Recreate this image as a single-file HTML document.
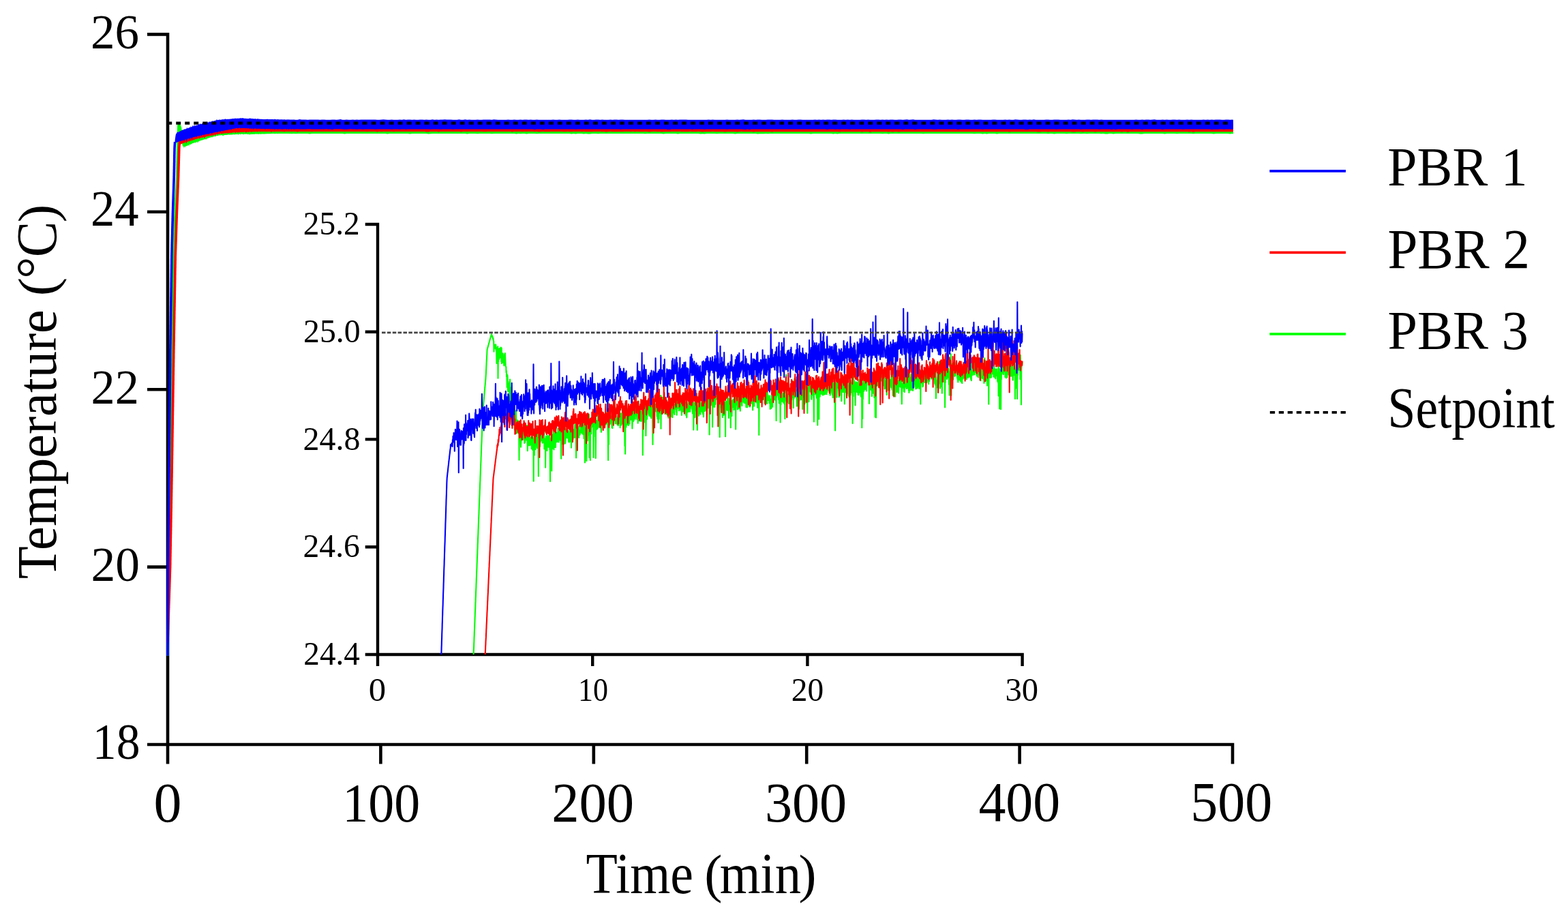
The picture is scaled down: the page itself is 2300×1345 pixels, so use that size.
<!DOCTYPE html><html><head><meta charset="utf-8"><title>Temperature vs Time</title><style>html,body{margin:0;padding:0;background:#fff;overflow:hidden}svg{display:block;filter:blur(0.6px)}</style></head><body><svg width="2300" height="1345" viewBox="0 0 2300 1345">
<rect width="2300" height="1345" fill="#fff"/>
<defs><clipPath id="ic"><rect x="556" y="300" width="946" height="660"/></clipPath><clipPath id="mc"><rect x="240" y="40" width="1570" height="930"/></clipPath></defs>
<path d="M216 50.4H246V1120.5" stroke-width="4.6" fill="none" stroke="#000" stroke-linejoin="miter" stroke-linecap="butt"/>
<path d="M216 1092H1808V1120.5" stroke-width="4.6" fill="none" stroke="#000" stroke-linejoin="miter" stroke-linecap="butt"/>
<path d="M216 310.8H246M216 571.2H246M216 831.6H246M558.4 1092V1120.5M870.8 1092V1120.5M1183.2 1092V1120.5M1495.6 1092V1120.5" stroke-width="4.6" fill="none" stroke="#000" stroke-linejoin="miter" stroke-linecap="butt"/>
<g clip-path="url(#mc)" fill="none" stroke-width="3.6" stroke-linejoin="round">
<path d="M246.0 961.8L246.0 959.2 246.1 956.6 246.1 954.0 246.1 951.4 246.2 948.8 246.2 946.2 246.2 943.6 246.2 941.0 246.3 938.4 246.3 935.8 246.3 933.2 246.4 930.6 246.4 927.9 246.4 925.3 246.5 922.7 246.5 920.1 246.5 917.5 246.6 914.9 246.6 912.3 246.6 909.7 246.7 907.1 246.7 904.5 246.7 901.9 246.7 899.3 246.8 896.7 246.8 894.1 246.8 891.5 246.9 888.9 246.9 886.3 246.9 883.7 247.0 881.1 247.0 878.5 247.0 875.9 247.1 873.3 247.1 870.7 247.1 868.1 247.2 865.5 247.2 862.8 247.2 860.2 247.2 857.6 247.3 855.0 247.3 852.4 247.3 849.8 247.4 847.2 247.4 844.6 247.4 842.0 247.5 839.4 247.5 836.8 247.5 834.2 247.6 831.6 247.6 829.7 247.6 827.9 247.7 826.0 247.7 824.2 247.7 822.3 247.7 820.4 247.8 818.6 247.8 816.7 247.8 814.9 247.9 813.0 247.9 811.1 247.9 809.3 248.0 807.4 248.0 805.6 248.0 803.7 248.1 801.8 248.1 800.0 248.1 798.1 248.2 796.3 248.2 794.4 248.2 792.5 248.2 790.7 248.3 788.8 248.3 787.0 248.3 785.1 248.4 783.2 248.4 781.4 248.4 779.5 248.5 777.7 248.5 775.8 248.5 773.9 248.6 772.1 248.6 770.2 248.6 768.4 248.7 766.5 248.7 764.6 248.7 762.8 248.7 760.9 248.8 759.1 248.8 757.2 248.8 755.3 248.9 753.5 248.9 751.6 248.9 749.8 249.0 747.9 249.0 746.0 249.0 744.2 249.1 742.3 249.1 740.5 249.1 738.6 249.2 736.7 249.2 734.9 249.2 733.0 249.2 731.2 249.3 729.3 249.3 727.4 249.3 725.6 249.4 723.7 249.4 721.9 249.4 720.0 249.5 718.1 249.5 716.3 249.5 714.4 249.6 712.6 249.6 710.7 249.6 708.8 249.7 707.0 249.7 705.1 249.7 703.3 249.7 701.4 249.8 699.1 249.8 696.8 249.8 694.6 249.9 692.3 249.9 690.0 249.9 687.7 250.0 685.5 250.0 683.2 250.0 680.9 250.1 678.6 250.1 676.3 250.1 674.1 250.2 671.8 250.2 669.5 250.2 667.2 250.2 664.9 250.3 662.7 250.3 660.4 250.3 658.1 250.4 655.8 250.4 653.6 250.4 651.3 250.5 649.0 250.5 646.7 250.5 644.4 250.6 642.2 250.6 639.9 250.6 637.6 250.7 635.3 250.7 633.0 250.7 630.8 250.7 628.5 250.8 626.2 250.8 623.9 250.8 621.7 250.9 619.4 250.9 617.1 250.9 614.8 251.0 612.5 251.0 610.3 251.0 608.0 251.1 605.7 251.1 603.4 251.1 601.1 251.2 598.9 251.2 596.6 251.2 594.3 251.2 592.0 251.3 589.8 251.3 587.5 251.3 585.2 251.4 582.9 251.4 580.6 251.4 578.4 251.5 576.1 251.5 573.8 251.5 571.5 251.6 569.2 251.6 567.0 251.6 564.7 251.7 562.4 251.7 560.1 251.7 557.9 251.7 555.6 251.8 553.3 251.8 551.0 251.8 548.7 251.9 546.5 251.9 544.2 251.9 541.9 252.0 539.6 252.0 537.3 252.0 535.1 252.1 532.8 252.1 530.5 252.1 528.2 252.2 526.0 252.2 523.7 252.2 521.4 252.2 519.1 252.3 517.1 252.3 515.0 252.3 513.0 252.4 510.9 252.4 508.9 252.4 506.8 252.5 504.8 252.5 502.8 252.5 500.7 252.6 498.7 252.6 496.6 252.6 494.6 252.7 492.5 252.7 490.5 252.7 488.4 252.7 486.4 252.8 484.3 252.8 482.3 252.8 480.2 252.9 478.2 252.9 476.2 252.9 474.1 253.0 472.1 253.0 470.0 253.0 468.0 253.1 465.9 253.1 463.9 253.1 461.8 253.2 459.8 253.2 457.7 253.2 455.7 253.2 453.6 253.3 451.6 253.3 449.6 253.3 447.5 253.4 445.5 253.4 443.4 253.4 441.4 253.5 439.3 253.5 437.3 253.5 435.2 253.6 433.2 253.6 431.1 253.6 429.1 253.7 427.0 253.7 425.0 253.7 423.0 253.7 420.9 253.8 418.9 253.8 416.8 253.8 414.8 253.9 412.7 253.9 410.7 253.9 408.6 254.0 406.6 254.0 404.5 254.0 402.5 254.1 400.5 254.1 398.4 254.1 396.4 254.2 394.3 254.2 392.3 254.2 390.2 254.2 388.2 254.3 386.1 254.3 384.1 254.3 382.0 254.4 380.0 254.4 377.9 254.4 375.9 254.5 375.2 254.5 374.5 254.5 373.7 254.6 373.0 254.6 372.3 254.6 371.6 254.7 370.8 254.7 370.1 254.7 369.4 254.7 368.7 254.8 367.9 254.8 367.2 254.8 366.5 254.9 365.8 254.9 365.1 254.9 364.3 255.0 363.6 255.0 362.9 255.0 362.2 255.1 361.4 255.1 360.7 255.1 360.0 255.2 359.3 255.2 358.5 255.2 357.8 255.2 357.1 255.3 356.4 255.3 355.6 255.3 354.9 255.4 354.2 255.4 353.5 255.4 352.8 255.5 352.0 255.5 351.3 255.5 350.6 255.6 349.9 255.6 349.1 255.6 348.4 255.7 347.7 255.7 347.0 255.7 346.2 255.7 345.5 255.8 344.8 255.8 344.1 255.8 343.3 255.9 342.6 255.9 341.9 255.9 341.2 256.0 340.5 256.0 339.7 256.0 339.0 256.1 338.3 256.1 337.6 256.1 336.8 256.2 336.1 256.2 335.4 256.2 334.7 256.2 333.9 256.3 333.2 256.3 332.5 256.3 331.8 256.4 331.1 256.4 330.3 256.4 329.6 256.5 328.9 256.5 328.2 256.5 327.4 256.6 326.7 256.6 326.0 256.6 325.3 256.7 324.5 256.7 323.8 256.7 323.1 256.7 322.4 256.8 321.6 256.8 320.9 256.8 320.2 256.9 319.5 256.9 318.8 256.9 318.0 257.0 317.3 257.0 316.6 257.0 315.9 257.1 315.1 257.1 314.4 257.1 313.7 257.2 313.0 257.2 312.2 257.2 311.5 257.2 310.8 257.3 310.2 257.3 309.6 257.3 309.0 257.4 308.4 257.4 307.8 257.4 307.2 257.5 306.6 257.5 306.0 257.5 305.4 257.6 304.8 257.6 304.1 257.6 303.5 257.7 302.9 257.7 302.3 257.7 301.7 257.7 301.1 257.8 300.5 257.8 299.9 257.8 299.3 257.9 298.7 257.9 298.1 257.9 297.5 258.0 296.9 258.0 296.3 258.0 295.7 258.1 295.1 258.1 294.5 258.1 293.9 258.2 293.3 258.2 292.7 258.2 292.0 258.2 291.4 258.3 290.8 258.3 290.2 258.3 289.6 258.4 289.0 258.4 288.4 258.4 287.8 258.5 287.2 258.5 286.6 258.5 286.0 258.6 285.4 258.6 284.8 258.6 284.2 258.7 283.6 258.7 283.0 258.7 282.4 258.7 281.8 258.8 281.2 258.8 280.6 258.8 280.0 258.9 279.3 258.9 278.7 258.9 278.1 259.0 277.5 259.0 276.9 259.0 276.3 259.1 275.7 259.1 275.1 259.1 274.5 259.2 273.9 259.2 273.3 259.2 272.7 259.2 272.1 259.3 271.5 259.3 270.9 259.3 270.3 259.4 269.7 259.4 269.1 259.4 268.5 259.5 267.9 259.5 267.2 259.5 266.6 259.6 266.0 259.6 265.4 259.6 264.8 259.7 264.2 259.7 263.6 259.7 263.0 259.7 262.4 259.8 261.8 259.8 261.2 259.8 260.6 259.9 260.0 259.9 259.4 259.9 258.8 260.0 257.5 260.0 256.1 260.0 254.7 260.1 253.4 260.1 252.0 260.1 250.6 260.2 249.3 260.2 247.9 260.2 246.5 260.2 245.2 260.3 243.8 260.3 242.4 260.3 241.1 260.4 239.7 260.4 238.3 260.4 237.0 260.5 235.6 260.5 234.2 260.5 232.8 260.6 231.5 260.6 230.1 260.6 228.7 260.7 227.4 260.7 226.0 260.7 224.6 260.7 223.3 260.8 221.9 260.8 220.5 260.8 219.2 260.9 217.8 260.9 216.4 260.9 215.1 261.0 213.7 261.0 212.4 261.0 211.0 261.1 209.7 261.1 208.3 261.1 207.0 261.2 205.7 261.2 204.3 261.2 203.0 261.2 201.6 261.3 200.3 261.3 199.5 261.3 198.9 261.4 198.3 261.4 197.7 261.4 197.1 261.5 196.5 261.5 195.9 261.5 195.3 261.6 194.7 261.6 194.1 261.6 193.5 261.7 192.9 261.7 192.3 261.7 191.7 261.7 190.6 261.8 189.6 261.8 188.6 261.8 187.5 261.9 186.5 261.9 185.4 261.9 184.8 262.0 184.6 262.0 184.4 262.0 184.2 262.1 184.1 262.1 183.9 262.1 183.7 262.2 183.5 262.2 183.3 262.2 183.1 262.2 182.9 262.3 182.8 262.3 182.6 262.3 182.4 262.4 182.2 262.4 182.0 262.4 181.8 262.5 181.6 262.5 181.5 262.5 181.3 262.6 181.2 262.6 181.3 262.6 181.5 262.7 181.6 262.7 181.8 262.7 181.9 262.7 182.1 262.8 182.2 262.8 182.4 262.8 182.5 262.9 182.7 262.9 182.8 262.9 183.0 263.0 183.2 263.0 183.3 263.0 183.5 263.1 183.6 263.1 183.7 263.1 183.8 263.2 183.9 263.2 184.0 263.2 184.1 263.2 184.2 263.3 184.3 263.3 184.4 263.3 184.5 263.4 184.6 263.4 184.7 263.4 184.8 263.5 184.9 263.5 185.0 263.5 185.1 263.6 185.2 263.6 185.3 263.6 185.4 263.7 185.5 263.7 185.5 263.7 185.6 263.7 185.7 263.8 185.8 263.8 185.9 263.8 186.0 263.9 186.1 263.9 186.2 263.9 186.2 264.0 186.3 264.0 186.4 264.0 186.5 264.1 186.6 264.1 186.6 264.1 186.7 264.2 186.8 264.2 186.9 264.2 186.9 264.2 187.0 264.3 187.1 264.3 187.2 264.3 187.2 264.4 187.3 264.4 187.4 264.4 187.5 264.5 187.6 264.5 187.6 264.5 188.1 264.6 188.6 264.6 189.1 264.6 189.6 264.7 190.2 264.7 190.7 264.7 191.2 264.7 191.7 264.8 192.0 264.8 192.2 264.8 192.5 264.9 192.8 264.9 193.1 264.9 193.4 265.0 193.7 265.0 194.0 265.0 194.2 265.1 194.5 265.1 194.8 265.1 195.0 265.2 195.2 265.2 195.4 265.2 195.6 265.2 195.9 265.3 196.1 265.3 196.3 265.3 196.5 265.4 196.7 265.4 197.1 265.4 197.4 265.5 197.7 265.5 198.0 265.5 198.3 265.6 198.6 265.6 198.9 265.6 199.2 265.6 199.6 265.7 199.9 265.7 200.1 265.7 200.3 265.8 200.4 265.8 200.6 265.8 200.8 265.9 201.0 265.9 201.2 265.9 201.4 266.0 201.6 266.0 201.8 266.0 202.0 266.1 202.2 266.1 202.4 266.1 202.5 266.1 202.7 266.2 202.9 266.2 203.0 266.2 203.1 266.3 203.3 266.3 203.4 266.3 203.5 266.4 203.6 266.4 203.8 266.4 203.9 266.5 204.0 266.5 204.2 266.5 204.3 266.6 204.4 266.6 204.6 266.6 204.7" stroke="#00ff00"/>
<path d="M266.6 202.9L267.1 201.8 267.6 201.4 268.1 201.0 268.6 198.1 269.1 200.9 269.6 199.5 270.1 201.3 270.6 201.4 271.1 198.3 271.6 201.4 272.1 201.3 272.6 200.7 273.1 200.8 273.6 200.6 274.1 200.1 274.6 200.4 275.1 200.1 275.6 197.0 276.1 199.7 276.6 198.5 277.1 199.2 277.6 198.7 278.1 198.8 278.6 195.1 279.1 198.4 279.6 197.5 280.1 198.0 280.6 197.6 281.1 194.4 281.6 197.3 282.1 197.0 282.6 197.0 283.1 196.4 283.6 196.6 284.1 196.2 284.6 195.7 285.1 195.9 285.6 195.8 286.1 195.4 286.6 195.2 287.1 195.2 287.6 195.1 288.1 193.2 288.6 194.6 289.1 194.5 289.6 193.1 290.1 194.0 290.6 194.0 291.1 193.4 291.6 193.6 292.1 193.5 292.6 193.5 293.1 193.0 293.6 193.2 294.1 191.9 294.6 192.8 295.1 192.4 295.6 192.4 296.1 192.1 296.6 192.1 297.1 192.0 297.6 191.7 298.1 191.5 298.6 191.5 299.1 189.9 299.6 191.1 300.1 190.8 300.6 190.9 301.1 190.5 301.6 190.4 302.1 190.2 302.6 190.2 303.1 190.0 303.6 189.7 304.1 187.3 304.6 187.2 305.1 189.5 305.6 188.6 306.1 189.0 306.6 187.6 307.1 188.8 307.6 188.6 308.1 188.5 308.6 187.9 309.1 188.1 309.6 188.1 310.1 187.9 310.6 187.0 311.1 187.7 311.6 187.6 312.1 187.2 312.6 187.1 313.1 185.5 313.6 185.5 314.1 186.9 314.6 184.8 315.1 186.4 315.6 186.3 316.1 186.3 316.6 186.1 317.1 186.1 317.6 185.9 318.1 185.7 318.6 185.5 319.1 185.5 319.6 185.5 320.1 185.4 320.6 185.3 321.1 183.2 321.6 185.1 322.1 185.1 322.6 185.0 323.1 185.0 323.6 185.0 324.1 185.0 324.6 184.4 325.1 184.9 325.6 184.8 326.1 185.0 326.6 184.8 327.1 183.6 327.6 184.9 328.1 184.7 328.6 184.8 329.1 184.7 329.6 184.8 330.1 183.1 330.6 183.3 331.1 184.6 331.6 184.5 332.1 184.5 332.6 184.5 333.1 184.5 333.6 184.5 334.1 184.4 334.6 184.4 335.1 183.3 335.6 184.3 336.1 184.2 336.6 184.2 337.1 184.2 337.6 183.3 338.1 184.1 338.6 184.2 339.1 184.1 339.6 184.1 340.1 184.0 340.6 184.2 341.1 184.1 341.6 184.1 342.1 184.0 342.6 183.9 343.1 184.0 343.6 184.0 344.1 182.8 344.6 183.9 345.1 183.7 345.6 183.0 346.1 183.8 346.6 183.7 347.1 182.6 347.6 182.3 348.1 183.0 348.6 183.6 349.1 183.5 349.6 183.4 350.1 183.6 350.6 183.6 351.1 183.5 351.6 183.5 352.1 183.3 352.6 183.4 353.1 183.3 353.6 183.4 354.1 183.4 354.6 183.3 355.1 183.5 355.6 183.5 356.1 183.5 356.6 183.3 357.1 183.4 357.6 183.4 358.1 183.4 358.6 183.4 359.1 183.4 359.6 182.8 360.1 183.5 360.6 182.8 361.1 183.5 361.6 182.2 362.1 183.4 362.6 183.5 363.1 183.5 363.6 183.0 364.1 183.4 364.6 183.4 365.1 183.5 365.6 182.8 366.1 182.5 366.6 183.4 367.1 182.9 367.6 183.5 368.1 183.6 368.6 183.5 369.1 183.4 369.6 183.5 370.1 183.6 370.6 183.4 371.1 183.5 371.6 183.5 372.1 183.4 372.6 182.4 373.1 183.5 373.6 183.5 374.1 182.7 374.6 183.5 375.1 183.5 375.6 183.4 376.1 183.5 376.6 183.5 377.1 183.5 377.6 183.4 378.1 183.4 378.6 183.4 379.1 183.3 379.6 183.3 380.1 183.3 380.6 183.4 381.1 183.3 381.6 183.4 382.1 183.3 382.6 183.3 383.1 183.3 383.6 183.3 384.1 183.2 384.6 183.2 385.1 183.3 385.6 183.2 386.1 183.3 386.6 183.2 387.1 183.2 387.6 183.2 388.1 183.1 388.6 183.0 389.1 183.2 389.6 183.2 390.1 183.2 390.6 183.1 391.1 182.7 391.6 183.1 392.1 183.0 392.6 183.0 393.1 183.1 393.6 182.9 394.1 183.1 394.6 183.0 395.1 183.0 395.6 183.0 396.1 183.1 396.6 183.1 397.1 183.0 397.6 183.0 398.1 182.9 398.6 183.0 399.1 183.0 399.6 183.0 400.1 183.0 400.6 182.4 401.1 183.0 401.6 183.0 402.1 182.9 402.6 183.0 403.1 183.0 403.6 182.9 404.1 182.9 404.6 182.9 405.1 182.9 405.6 183.0 406.1 183.0 406.6 182.9 407.1 182.9 407.6 182.9 408.1 183.0 408.6 182.9 409.1 182.6 409.6 183.0 410.1 182.5 410.6 183.0 411.1 182.2 411.6 183.0 412.1 182.9 412.6 182.9 413.1 183.0 413.6 182.9 414.1 182.9 414.6 182.2 415.1 183.0 415.6 182.9 416.1 183.0 416.6 182.9 417.1 183.0 417.6 183.0 418.1 182.9 418.6 182.9 419.1 183.0 419.6 183.0 420.1 182.9 420.6 182.3 421.1 183.0 421.6 183.0 422.1 183.0 422.6 183.0 423.1 182.9 423.6 183.0 424.1 182.9 424.6 182.9 425.1 183.0 425.6 183.0 426.1 182.9 426.6 182.9 427.1 183.0 427.6 183.0 428.1 182.9 428.6 182.9 429.1 182.9 429.6 182.9 430.1 183.0 430.6 183.0 431.1 182.3 431.6 182.9 432.1 182.9 432.6 182.9 433.1 182.9 433.4 182.2 436.4 182.9 439.4 182.9 442.4 182.9 445.4 183.0 448.4 183.0 451.4 183.0 454.4 182.3 457.4 182.9 460.4 182.7 463.4 183.0 466.4 182.9 469.4 183.0 472.4 182.9 475.4 183.0 478.4 183.0 481.4 183.0 484.4 183.0 487.4 183.0 490.4 183.0 493.4 183.0 496.4 182.9 499.4 182.9 502.4 182.9 505.4 182.9 508.4 183.0 511.4 183.0 514.4 182.9 517.4 183.0 520.4 183.0 523.4 182.9 526.4 183.0 529.4 182.9 532.4 182.4 535.4 183.0 538.4 182.9 541.4 183.0 544.4 183.0 547.4 182.8 550.4 182.9 553.4 183.0 556.4 183.0 559.4 182.9 562.4 183.0 565.4 182.9 568.4 182.8 571.4 183.0 574.4 183.0 577.4 182.9 580.4 183.0 583.4 183.0 586.4 182.5 589.4 183.0 592.4 182.9 595.4 183.0 598.4 182.9 601.4 182.9 604.4 182.9 607.4 182.9 610.4 183.0 613.4 183.0 616.4 183.0 619.4 182.9 622.4 183.0 625.4 182.9 628.4 182.9 631.4 183.0 634.4 183.0 637.4 183.0 640.4 182.5 643.4 182.9 646.4 183.0 649.4 182.9 652.4 182.9 655.4 182.9 658.4 182.9 661.4 183.0 664.4 182.9 667.4 183.0 670.4 182.5 673.4 182.9 676.4 183.0 679.4 182.9 682.4 182.9 685.4 183.0 688.4 183.0 691.4 183.0 694.4 182.9 697.4 183.0 700.4 183.0 703.4 182.9 706.4 183.0 709.4 183.0 712.4 183.0 715.4 182.7 718.4 183.0 721.4 183.0 724.4 182.9 727.4 183.0 730.4 182.5 733.4 183.0 736.4 182.9 739.4 182.9 742.4 183.0 745.4 182.7 748.4 183.0 751.4 182.9 754.4 182.9 757.4 183.0 760.4 183.0 763.4 183.0 766.4 183.0 769.4 183.0 772.4 182.9 775.4 182.9 778.4 183.0 781.4 183.0 784.4 183.0 787.4 182.9 790.4 182.9 793.4 182.9 796.4 182.7 799.4 183.0 802.4 182.6 805.4 183.0 808.4 183.0 811.4 182.7 814.4 183.0 817.4 183.0 820.4 182.9 823.4 183.0 826.4 183.0 829.4 183.0 832.4 182.9 835.4 183.0 838.4 182.6 841.4 183.0 844.4 183.0 847.4 183.0 850.4 182.6 853.4 183.0 856.4 183.0 859.4 183.0 862.4 183.0 865.4 182.9 868.4 182.5 871.4 183.0 874.4 182.9 877.4 182.8 880.4 183.0 883.4 182.9 886.4 183.0 889.4 183.0 892.4 183.0 895.4 183.0 898.4 182.9 901.4 183.0 904.4 182.9 907.4 183.0 910.4 183.0 913.4 183.0 916.4 182.9 919.4 182.9 922.4 183.0 925.4 183.0 928.4 182.9 931.4 183.0 934.4 182.9 937.4 183.0 940.4 182.9 943.4 183.0 946.4 183.0 949.4 183.0 952.4 183.0 955.4 182.9 958.4 182.9 961.4 183.0 964.4 182.9 967.4 182.8 970.4 182.9 973.4 183.0 976.4 183.0 979.4 183.0 982.4 183.0 985.4 183.0 988.4 183.0 991.4 183.0 994.4 183.0 997.4 182.5 1000.4 182.9 1003.4 182.9 1006.4 183.0 1009.4 182.8 1012.4 182.9 1015.4 183.0 1018.4 183.0 1021.4 182.7 1024.4 183.0 1027.4 183.0 1030.4 183.0 1033.4 182.9 1036.4 183.0 1039.4 183.0 1042.4 183.0 1045.4 183.0 1048.4 183.0 1051.4 183.0 1054.4 183.0 1057.4 182.9 1060.4 183.0 1063.4 183.0 1066.4 183.0 1069.4 182.9 1072.4 183.0 1075.4 182.9 1078.4 183.0 1081.4 183.0 1084.4 183.0 1087.4 183.0 1090.4 182.9 1093.4 182.9 1096.4 183.0 1099.4 183.0 1102.4 183.0 1105.4 182.7 1108.4 183.0 1111.4 182.5 1114.4 182.9 1117.4 183.0 1120.4 183.0 1123.4 182.9 1126.4 182.8 1129.4 183.0 1132.4 182.9 1135.4 182.7 1138.4 183.0 1141.4 182.9 1144.4 183.0 1147.4 183.0 1150.4 182.9 1153.4 183.0 1156.4 182.9 1159.4 182.7 1162.4 183.0 1165.4 183.0 1168.4 183.0 1171.4 182.8 1174.4 183.0 1177.4 183.0 1180.4 182.9 1183.4 182.9 1186.4 182.9 1189.4 183.0 1192.4 183.0 1195.4 182.9 1198.4 182.9 1201.4 182.8 1204.4 183.0 1207.4 183.0 1210.4 183.0 1213.4 182.9 1216.4 183.0 1219.4 182.8 1222.4 183.0 1225.4 183.0 1228.4 182.9 1231.4 183.0 1234.4 183.0 1237.4 183.0 1240.4 182.9 1243.4 182.9 1246.4 182.9 1249.4 183.0 1252.4 183.0 1255.4 182.9 1258.4 183.0 1261.4 182.9 1264.4 182.9 1267.4 183.0 1270.4 182.5 1273.4 183.0 1276.4 183.0 1279.4 182.7 1282.4 183.0 1285.4 182.9 1288.4 182.9 1291.4 183.0 1294.4 182.9 1297.4 183.0 1300.4 183.0 1303.4 183.0 1306.4 183.0 1309.4 183.0 1312.4 183.0 1315.4 182.9 1318.4 183.0 1321.4 182.9 1324.4 183.0 1327.4 183.0 1330.4 183.0 1333.4 183.0 1336.4 182.9 1339.4 183.0 1342.4 183.0 1345.4 182.9 1348.4 182.9 1351.4 183.0 1354.4 183.0 1357.4 182.9 1360.4 183.0 1363.4 183.0 1366.4 182.9 1369.4 182.9 1372.4 183.0 1375.4 183.0 1378.4 183.0 1381.4 183.0 1384.4 183.0 1387.4 182.6 1390.4 183.0 1393.4 183.0 1396.4 182.7 1399.4 182.9 1402.4 183.0 1405.4 182.9 1408.4 183.0 1411.4 182.6 1414.4 183.0 1417.4 183.0 1420.4 183.0 1423.4 182.7 1426.4 183.0 1429.4 183.0 1432.4 182.8 1435.4 183.0 1438.4 183.0 1441.4 183.0 1444.4 183.0 1447.4 182.9 1450.4 182.6 1453.4 182.9 1456.4 183.0 1459.4 183.0 1462.4 183.0 1465.4 182.9 1468.4 182.9 1471.4 182.9 1474.4 182.8 1477.4 182.9 1480.4 183.0 1483.4 182.5 1486.4 183.0 1489.4 182.9 1492.4 182.8 1495.4 182.9 1498.4 183.0 1501.4 183.0 1504.4 183.0 1507.4 183.0 1510.4 183.0 1513.4 182.8 1516.4 182.8 1519.4 183.0 1522.4 183.0 1525.4 183.0 1528.4 183.0 1531.4 183.0 1534.4 183.0 1537.4 182.9 1540.4 183.0 1543.4 183.0 1546.4 182.8 1549.4 182.8 1552.4 183.0 1555.4 183.0 1558.4 183.0 1561.4 182.7 1564.4 182.7 1567.4 183.0 1570.4 183.0 1573.4 183.0 1576.4 183.0 1579.4 183.0 1582.4 183.0 1585.4 183.0 1588.4 183.0 1591.4 183.0 1594.4 183.0 1597.4 182.5 1600.4 183.0 1603.4 182.9 1606.4 182.9 1609.4 182.9 1612.4 183.0 1615.4 183.0 1618.4 183.0 1621.4 182.9 1624.4 183.0 1627.4 182.8 1630.4 183.0 1633.4 182.9 1636.4 183.0 1639.4 182.5 1642.4 183.0 1645.4 183.0 1648.4 182.7 1651.4 183.0 1654.4 182.9 1657.4 183.0 1660.4 183.0 1663.4 183.0 1666.4 183.0 1669.4 183.0 1672.4 182.7 1675.4 183.0 1678.4 183.0 1681.4 182.5 1684.4 183.0 1687.4 183.0 1690.4 183.0 1693.4 182.9 1696.4 182.9 1699.4 183.0 1702.4 182.9 1705.4 183.0 1708.4 183.0 1711.4 183.0 1714.4 182.9 1717.4 183.0 1720.4 182.6 1723.4 182.9 1726.4 182.5 1729.4 183.0 1732.4 182.9 1735.4 182.7 1738.4 183.0 1741.4 183.0 1744.4 183.0 1747.4 183.0 1750.4 182.7 1753.4 183.0 1756.4 182.6 1759.4 183.0 1762.4 183.0 1765.4 183.0 1768.4 183.0 1771.4 183.0 1774.4 183.0 1777.4 183.0 1780.4 183.0 1783.4 183.0 1786.4 183.0 1789.4 182.9 1792.4 182.9 1795.4 182.9 1798.4 182.9 1801.4 182.9 1804.4 183.0 1807.4 182.6 1808.9 183.0 1808.9 196.4 1807.4 196.0 1804.4 196.4 1801.4 196.1 1798.4 196.0 1795.4 196.1 1792.4 196.0 1789.4 196.0 1786.4 196.0 1783.4 196.0 1780.4 196.5 1777.4 196.0 1774.4 196.1 1771.4 196.0 1768.4 196.0 1765.4 196.0 1762.4 196.0 1759.4 196.0 1756.4 196.1 1753.4 196.0 1750.4 196.2 1747.4 196.0 1744.4 196.0 1741.4 196.0 1738.4 196.0 1735.4 196.0 1732.4 196.0 1729.4 196.1 1726.4 196.2 1723.4 196.0 1720.4 196.0 1717.4 196.1 1714.4 196.0 1711.4 196.0 1708.4 196.5 1705.4 196.0 1702.4 196.0 1699.4 196.1 1696.4 196.1 1693.4 196.1 1690.4 196.0 1687.4 196.0 1684.4 196.0 1681.4 196.0 1678.4 196.1 1675.4 196.4 1672.4 196.4 1669.4 196.0 1666.4 196.1 1663.4 196.1 1660.4 196.1 1657.4 196.1 1654.4 196.0 1651.4 196.0 1648.4 196.1 1645.4 196.0 1642.4 196.0 1639.4 196.0 1636.4 196.1 1633.4 196.4 1630.4 196.1 1627.4 196.1 1624.4 196.4 1621.4 196.4 1618.4 196.0 1615.4 196.2 1612.4 196.0 1609.4 196.0 1606.4 196.0 1603.4 196.0 1600.4 196.0 1597.4 196.1 1594.4 196.3 1591.4 196.0 1588.4 196.0 1585.4 196.2 1582.4 196.1 1579.4 196.0 1576.4 196.1 1573.4 196.0 1570.4 196.0 1567.4 196.0 1564.4 196.3 1561.4 196.0 1558.4 196.1 1555.4 196.0 1552.4 196.1 1549.4 196.0 1546.4 196.4 1543.4 196.0 1540.4 196.0 1537.4 196.2 1534.4 196.1 1531.4 196.0 1528.4 196.1 1525.4 196.0 1522.4 196.0 1519.4 196.0 1516.4 196.1 1513.4 196.0 1510.4 196.0 1507.4 196.0 1504.4 196.0 1501.4 196.0 1498.4 196.0 1495.4 196.1 1492.4 196.0 1489.4 196.0 1486.4 196.1 1483.4 196.1 1480.4 196.1 1477.4 196.0 1474.4 196.1 1471.4 196.0 1468.4 196.0 1465.4 196.1 1462.4 196.5 1459.4 196.0 1456.4 196.1 1453.4 196.0 1450.4 196.1 1447.4 196.4 1444.4 196.0 1441.4 196.5 1438.4 196.0 1435.4 196.0 1432.4 196.0 1429.4 196.3 1426.4 196.0 1423.4 196.0 1420.4 196.1 1417.4 196.0 1414.4 196.0 1411.4 196.0 1408.4 196.1 1405.4 196.0 1402.4 196.0 1399.4 196.0 1396.4 196.0 1393.4 196.0 1390.4 196.0 1387.4 196.0 1384.4 196.0 1381.4 196.1 1378.4 196.0 1375.4 196.1 1372.4 196.0 1369.4 196.1 1366.4 196.0 1363.4 196.0 1360.4 196.0 1357.4 196.1 1354.4 196.3 1351.4 196.0 1348.4 196.0 1345.4 196.0 1342.4 196.0 1339.4 196.0 1336.4 196.0 1333.4 196.0 1330.4 196.0 1327.4 196.1 1324.4 196.1 1321.4 196.0 1318.4 196.0 1315.4 196.0 1312.4 196.1 1309.4 196.1 1306.4 196.0 1303.4 196.4 1300.4 196.0 1297.4 196.0 1294.4 196.2 1291.4 196.0 1288.4 196.0 1285.4 196.0 1282.4 196.0 1279.4 196.0 1276.4 196.0 1273.4 196.0 1270.4 196.0 1267.4 196.1 1264.4 196.1 1261.4 196.0 1258.4 196.0 1255.4 196.1 1252.4 196.1 1249.4 196.0 1246.4 196.0 1243.4 196.0 1240.4 196.0 1237.4 196.0 1234.4 196.0 1231.4 196.1 1228.4 196.4 1225.4 196.1 1222.4 196.4 1219.4 196.1 1216.4 196.0 1213.4 196.0 1210.4 196.1 1207.4 196.0 1204.4 196.0 1201.4 196.0 1198.4 196.0 1195.4 196.1 1192.4 196.0 1189.4 196.5 1186.4 196.0 1183.4 196.1 1180.4 196.0 1177.4 196.0 1174.4 196.0 1171.4 196.1 1168.4 196.1 1165.4 196.0 1162.4 196.1 1159.4 196.0 1156.4 196.0 1153.4 196.0 1150.4 196.1 1147.4 196.1 1144.4 196.1 1141.4 196.0 1138.4 196.0 1135.4 196.1 1132.4 196.1 1129.4 196.1 1126.4 196.2 1123.4 196.0 1120.4 196.3 1117.4 196.2 1114.4 196.3 1111.4 196.5 1108.4 196.0 1105.4 196.1 1102.4 196.1 1099.4 196.1 1096.4 196.0 1093.4 196.0 1090.4 196.0 1087.4 196.0 1084.4 196.0 1081.4 196.0 1078.4 196.4 1075.4 196.0 1072.4 196.0 1069.4 196.1 1066.4 196.1 1063.4 196.1 1060.4 196.0 1057.4 196.1 1054.4 196.0 1051.4 196.3 1048.4 196.1 1045.4 196.1 1042.4 196.0 1039.4 196.0 1036.4 196.0 1033.4 196.5 1030.4 196.2 1027.4 196.5 1024.4 196.0 1021.4 196.0 1018.4 196.1 1015.4 196.1 1012.4 196.0 1009.4 196.0 1006.4 196.1 1003.4 196.0 1000.4 196.0 997.4 196.0 994.4 196.4 991.4 196.0 988.4 196.0 985.4 196.0 982.4 196.0 979.4 196.0 976.4 196.0 973.4 196.5 970.4 196.0 967.4 196.0 964.4 196.0 961.4 196.0 958.4 196.0 955.4 196.1 952.4 196.1 949.4 196.0 946.4 196.2 943.4 196.0 940.4 196.0 937.4 196.0 934.4 196.1 931.4 196.1 928.4 196.0 925.4 196.0 922.4 196.0 919.4 196.0 916.4 196.1 913.4 196.0 910.4 196.0 907.4 196.0 904.4 196.0 901.4 196.0 898.4 196.1 895.4 196.0 892.4 196.1 889.4 196.1 886.4 196.1 883.4 196.1 880.4 196.1 877.4 196.2 874.4 196.0 871.4 196.0 868.4 196.0 865.4 196.5 862.4 196.4 859.4 196.0 856.4 196.4 853.4 196.0 850.4 196.0 847.4 196.1 844.4 196.4 841.4 196.1 838.4 196.5 835.4 196.0 832.4 196.1 829.4 196.0 826.4 196.1 823.4 196.1 820.4 196.1 817.4 196.0 814.4 196.0 811.4 196.0 808.4 196.0 805.4 196.0 802.4 196.0 799.4 196.1 796.4 196.1 793.4 196.1 790.4 196.0 787.4 196.2 784.4 196.0 781.4 196.0 778.4 196.1 775.4 196.0 772.4 196.4 769.4 196.0 766.4 196.0 763.4 196.3 760.4 196.0 757.4 196.5 754.4 196.0 751.4 196.1 748.4 196.1 745.4 196.1 742.4 196.1 739.4 196.1 736.4 196.0 733.4 196.0 730.4 196.0 727.4 196.0 724.4 196.0 721.4 196.2 718.4 196.0 715.4 196.0 712.4 196.0 709.4 196.0 706.4 196.1 703.4 196.0 700.4 196.3 697.4 196.1 694.4 196.0 691.4 196.0 688.4 196.1 685.4 196.4 682.4 196.0 679.4 196.1 676.4 196.1 673.4 196.1 670.4 196.1 667.4 196.1 664.4 196.1 661.4 196.0 658.4 196.0 655.4 196.0 652.4 196.0 649.4 196.1 646.4 196.0 643.4 196.0 640.4 196.0 637.4 196.1 634.4 196.1 631.4 196.2 628.4 196.5 625.4 196.0 622.4 196.0 619.4 196.0 616.4 196.1 613.4 196.0 610.4 196.1 607.4 196.1 604.4 196.1 601.4 196.4 598.4 196.0 595.4 196.1 592.4 196.0 589.4 196.1 586.4 196.0 583.4 196.0 580.4 196.0 577.4 196.0 574.4 196.1 571.4 196.1 568.4 196.5 565.4 196.1 562.4 196.1 559.4 196.1 556.4 196.0 553.4 196.0 550.4 196.0 547.4 196.0 544.4 196.0 541.4 196.0 538.4 196.0 535.4 196.1 532.4 196.1 529.4 196.1 526.4 196.1 523.4 196.0 520.4 196.1 517.4 196.0 514.4 196.1 511.4 196.1 508.4 196.1 505.4 196.6 502.4 196.1 499.4 196.1 496.4 196.1 493.4 196.0 490.4 196.1 487.4 196.0 484.4 196.1 481.4 196.1 478.4 196.0 475.4 196.0 472.4 196.1 469.4 196.0 466.4 196.1 463.4 196.0 460.4 196.0 457.4 196.0 454.4 196.4 451.4 196.1 448.4 196.0 445.4 196.1 442.4 196.1 439.4 196.0 436.4 196.0 433.4 196.3 433.1 196.0 432.6 196.0 432.1 196.2 431.6 196.0 431.1 196.0 430.6 196.1 430.1 196.0 429.6 196.1 429.1 196.0 428.6 196.6 428.1 196.0 427.6 196.0 427.1 196.4 426.6 196.0 426.1 196.1 425.6 196.1 425.1 196.3 424.6 196.1 424.1 196.2 423.6 196.1 423.1 196.1 422.6 196.1 422.1 196.0 421.6 196.0 421.1 196.0 420.6 196.1 420.1 196.0 419.6 196.1 419.1 196.0 418.6 196.1 418.1 196.0 417.6 196.1 417.1 196.1 416.6 196.0 416.1 196.1 415.6 196.1 415.1 196.1 414.6 196.0 414.1 196.1 413.6 196.1 413.1 196.1 412.6 196.0 412.1 196.1 411.6 196.1 411.1 196.1 410.6 196.0 410.1 196.1 409.6 196.0 409.1 196.1 408.6 196.1 408.1 196.0 407.6 196.1 407.1 196.4 406.6 196.1 406.1 196.1 405.6 196.0 405.1 196.1 404.6 196.1 404.1 196.1 403.6 196.0 403.1 196.8 402.6 196.0 402.1 196.1 401.6 196.1 401.1 196.1 400.6 196.1 400.1 196.1 399.6 196.1 399.1 196.1 398.6 196.1 398.1 196.1 397.6 196.2 397.1 196.1 396.6 196.2 396.1 196.3 395.6 196.2 395.1 196.2 394.6 196.2 394.1 196.3 393.6 196.3 393.1 196.2 392.6 196.3 392.1 196.2 391.6 196.3 391.1 196.3 390.6 196.4 390.1 196.3 389.6 196.3 389.1 196.6 388.6 196.4 388.1 196.4 387.6 196.4 387.1 196.4 386.6 196.4 386.1 196.4 385.6 196.5 385.1 196.5 384.6 196.3 384.1 196.4 383.6 196.5 383.1 196.4 382.6 196.9 382.1 196.5 381.6 196.5 381.1 196.6 380.6 196.6 380.1 196.5 379.6 197.1 379.1 196.5 378.6 196.6 378.1 196.9 377.6 196.6 377.1 196.5 376.6 196.7 376.1 196.6 375.6 196.6 375.1 196.5 374.6 196.6 374.1 196.6 373.6 196.9 373.1 196.7 372.6 196.7 372.1 196.7 371.6 196.7 371.1 197.0 370.6 197.1 370.1 196.7 369.6 196.6 369.1 196.8 368.6 196.7 368.1 197.6 367.6 196.7 367.1 196.8 366.6 197.7 366.1 196.8 365.6 197.7 365.1 196.6 364.6 197.1 364.1 196.6 363.6 197.4 363.1 196.6 362.6 196.7 362.1 196.7 361.6 196.6 361.1 196.6 360.6 196.7 360.1 196.6 359.6 196.7 359.1 196.7 358.6 196.6 358.1 196.7 357.6 196.7 357.1 197.8 356.6 196.7 356.1 196.7 355.6 196.6 355.1 196.6 354.6 196.6 354.1 196.6 353.6 196.7 353.1 196.5 352.6 197.7 352.1 196.6 351.6 196.6 351.1 196.7 350.6 196.6 350.1 196.8 349.6 198.3 349.1 197.2 348.6 196.7 348.1 197.0 347.6 196.9 347.1 197.0 346.6 197.0 346.1 197.1 345.6 197.0 345.1 197.1 344.6 197.0 344.1 198.3 343.6 197.1 343.1 197.1 342.6 197.2 342.1 197.3 341.6 197.2 341.1 197.3 340.6 197.2 340.1 198.3 339.6 197.4 339.1 197.3 338.6 197.4 338.1 197.4 337.6 197.4 337.1 197.9 336.6 197.6 336.1 197.6 335.6 197.6 335.1 197.6 334.6 197.6 334.1 197.6 333.6 197.7 333.1 197.9 332.6 197.8 332.1 198.2 331.6 197.8 331.1 197.9 330.6 198.0 330.1 198.0 329.6 198.0 329.1 197.9 328.6 198.0 328.1 199.8 327.6 198.1 327.1 199.7 326.6 199.3 326.1 198.2 325.6 198.3 325.1 198.2 324.6 198.3 324.1 198.3 323.6 198.5 323.1 198.4 322.6 198.4 322.1 198.4 321.6 198.6 321.1 198.4 320.6 198.8 320.1 198.5 319.6 200.3 319.1 198.7 318.6 199.1 318.1 199.1 317.6 199.3 317.1 199.4 316.6 199.3 316.1 201.2 315.6 199.8 315.1 199.8 314.6 199.9 314.1 200.1 313.6 200.4 313.1 200.2 312.6 200.4 312.1 200.7 311.6 200.9 311.1 201.9 310.6 201.1 310.1 201.2 309.6 201.4 309.1 201.3 308.6 201.7 308.1 201.8 307.6 201.9 307.1 202.3 306.6 202.3 306.1 202.6 305.6 202.4 305.1 202.8 304.6 202.9 304.1 203.2 303.6 203.3 303.1 205.4 302.6 203.5 302.1 204.2 301.6 205.1 301.1 203.9 300.6 204.0 300.1 204.6 299.6 204.4 299.1 204.8 298.6 204.8 298.1 205.1 297.6 205.5 297.1 205.3 296.6 205.4 296.1 205.7 295.6 205.7 295.1 206.0 294.6 206.0 294.1 206.5 293.6 206.5 293.1 206.5 292.6 206.8 292.1 207.0 291.6 206.9 291.1 209.3 290.6 207.3 290.1 209.3 289.6 207.6 289.1 210.2 288.6 208.3 288.1 208.1 287.6 208.5 287.1 208.8 286.6 210.4 286.1 208.7 285.6 209.3 285.1 209.2 284.6 209.6 284.1 209.5 283.6 210.0 283.1 209.9 282.6 210.1 282.1 210.4 281.6 210.9 281.1 210.8 280.6 211.2 280.1 211.4 279.6 212.3 279.1 212.0 278.6 211.8 278.1 212.0 277.6 212.6 277.1 214.9 276.6 212.8 276.1 212.9 275.6 213.3 275.1 213.4 274.6 213.9 274.1 214.0 273.6 214.0 273.1 214.6 272.6 214.8 272.1 214.6 271.6 214.9 271.1 217.3 270.6 215.0 270.1 214.9 269.6 218.1 269.1 214.5 268.6 214.7 268.1 214.5 267.6 213.1 267.1 209.6 266.6 206.5Z" fill="#00ff00" stroke="none"/>
<path d="M246.0 942.3L246.0 941.3 246.1 940.3 246.1 939.4 246.1 938.4 246.2 937.5 246.2 936.5 246.2 935.5 246.2 934.6 246.3 933.6 246.3 932.6 246.3 931.7 246.4 930.7 246.4 929.8 246.4 928.8 246.5 927.8 246.5 926.9 246.5 925.9 246.6 924.9 246.6 924.0 246.6 923.0 246.7 922.1 246.7 921.1 246.7 920.1 246.7 919.2 246.8 918.2 246.8 917.2 246.8 916.3 246.9 915.3 246.9 914.4 246.9 913.4 247.0 912.4 247.0 911.5 247.0 910.5 247.1 909.6 247.1 908.6 247.1 907.6 247.2 906.7 247.2 905.7 247.2 904.7 247.2 903.8 247.3 902.8 247.3 901.9 247.3 900.9 247.4 899.9 247.4 899.0 247.4 898.0 247.5 897.0 247.5 896.1 247.5 895.1 247.6 894.2 247.6 893.2 247.6 892.2 247.7 891.3 247.7 890.3 247.7 889.3 247.7 888.4 247.8 887.4 247.8 886.5 247.8 885.5 247.9 884.5 247.9 883.6 247.9 882.6 248.0 881.6 248.0 880.7 248.0 879.7 248.1 878.8 248.1 877.8 248.1 876.8 248.2 875.9 248.2 874.9 248.2 873.9 248.2 873.0 248.3 872.0 248.3 871.1 248.3 870.1 248.4 869.1 248.4 868.2 248.4 867.2 248.5 866.2 248.5 865.3 248.5 864.3 248.6 863.4 248.6 862.4 248.6 861.4 248.7 860.5 248.7 859.5 248.7 858.5 248.7 857.6 248.8 856.6 248.8 855.7 248.8 854.7 248.9 853.7 248.9 852.8 248.9 851.8 249.0 850.8 249.0 849.9 249.0 848.9 249.1 848.0 249.1 847.0 249.1 846.0 249.2 845.1 249.2 844.1 249.2 843.1 249.2 842.2 249.3 841.2 249.3 840.3 249.3 839.3 249.4 838.3 249.4 837.4 249.4 836.4 249.5 835.4 249.5 834.5 249.5 833.5 249.6 832.6 249.6 831.6 249.6 829.9 249.7 828.1 249.7 826.4 249.7 824.7 249.7 822.9 249.8 821.2 249.8 819.4 249.8 817.7 249.9 816.0 249.9 814.2 249.9 812.5 250.0 810.8 250.0 809.0 250.0 807.3 250.1 805.6 250.1 803.8 250.1 802.1 250.2 800.4 250.2 798.6 250.2 796.9 250.2 795.1 250.3 793.4 250.3 791.7 250.3 789.9 250.4 788.2 250.4 786.5 250.4 784.7 250.5 783.0 250.5 781.3 250.5 779.5 250.6 777.8 250.6 776.0 250.6 774.3 250.7 772.6 250.7 770.8 250.7 769.1 250.7 767.4 250.8 765.6 250.8 763.9 250.8 762.2 250.9 760.4 250.9 758.7 250.9 757.0 251.0 755.2 251.0 753.5 251.0 751.7 251.1 750.0 251.1 748.3 251.1 746.5 251.2 744.8 251.2 743.1 251.2 741.3 251.2 739.6 251.3 737.9 251.3 736.1 251.3 734.4 251.4 732.6 251.4 730.9 251.4 729.2 251.5 727.4 251.5 725.7 251.5 724.0 251.6 722.2 251.6 720.5 251.6 718.8 251.7 717.0 251.7 715.3 251.7 713.6 251.7 711.8 251.8 710.1 251.8 708.3 251.8 706.6 251.9 704.9 251.9 703.1 251.9 701.4 252.0 699.4 252.0 697.3 252.0 695.3 252.1 693.3 252.1 691.3 252.1 689.2 252.2 687.2 252.2 685.2 252.2 683.2 252.2 681.1 252.3 679.1 252.3 677.1 252.3 675.1 252.4 673.0 252.4 671.0 252.4 669.0 252.5 667.0 252.5 664.9 252.5 662.9 252.6 660.9 252.6 658.9 252.6 656.8 252.7 654.8 252.7 652.8 252.7 650.8 252.7 648.7 252.8 646.7 252.8 644.7 252.8 642.7 252.9 640.6 252.9 638.6 252.9 636.6 253.0 634.6 253.0 632.5 253.0 630.5 253.1 628.5 253.1 626.5 253.1 624.4 253.2 622.4 253.2 620.4 253.2 618.4 253.2 616.3 253.3 614.3 253.3 612.3 253.3 610.3 253.4 608.2 253.4 606.2 253.4 604.2 253.5 602.2 253.5 600.1 253.5 598.1 253.6 596.1 253.6 594.1 253.6 592.0 253.7 590.0 253.7 588.0 253.7 586.0 253.7 583.9 253.8 581.9 253.8 579.9 253.8 577.9 253.9 575.8 253.9 573.8 253.9 571.8 254.0 569.8 254.0 567.7 254.0 565.7 254.1 563.7 254.1 561.7 254.1 559.6 254.2 557.6 254.2 555.6 254.2 553.6 254.2 551.5 254.3 549.5 254.3 547.5 254.3 545.4 254.4 543.4 254.4 541.4 254.4 539.4 254.5 537.3 254.5 535.3 254.5 533.3 254.6 531.3 254.6 529.2 254.6 527.2 254.7 525.2 254.7 523.2 254.7 521.1 254.7 519.1 254.8 517.3 254.8 515.5 254.8 513.7 254.9 512.0 254.9 510.2 254.9 508.4 255.0 506.6 255.0 504.8 255.0 503.0 255.1 501.2 255.1 499.4 255.1 497.6 255.2 495.8 255.2 494.1 255.2 492.3 255.2 490.5 255.3 488.7 255.3 486.9 255.3 485.1 255.4 483.3 255.4 481.5 255.4 479.7 255.5 477.9 255.5 476.2 255.5 474.4 255.6 472.6 255.6 470.8 255.6 469.0 255.7 467.2 255.7 465.4 255.7 463.6 255.7 461.8 255.8 460.0 255.8 458.3 255.8 456.5 255.9 454.7 255.9 452.9 255.9 451.1 256.0 449.3 256.0 447.5 256.0 445.7 256.1 443.9 256.1 442.1 256.1 440.3 256.2 438.6 256.2 436.8 256.2 435.0 256.2 433.2 256.3 431.4 256.3 429.6 256.3 427.8 256.4 426.0 256.4 424.2 256.4 422.4 256.5 420.7 256.5 418.9 256.5 417.1 256.6 415.3 256.6 413.5 256.6 411.7 256.7 409.9 256.7 408.1 256.7 406.3 256.7 404.5 256.8 402.8 256.8 401.0 256.8 399.2 256.9 397.4 256.9 395.6 256.9 393.8 257.0 392.0 257.0 390.2 257.0 388.4 257.1 386.6 257.1 384.9 257.1 383.1 257.2 381.3 257.2 379.5 257.2 377.7 257.2 375.9 257.3 375.0 257.3 374.0 257.3 373.1 257.4 372.2 257.4 371.3 257.4 370.3 257.5 369.4 257.5 368.5 257.5 367.5 257.6 366.6 257.6 365.7 257.6 364.7 257.7 363.8 257.7 362.9 257.7 361.9 257.7 361.0 257.8 360.1 257.8 359.2 257.8 358.2 257.9 357.3 257.9 356.4 257.9 355.4 258.0 354.5 258.0 353.6 258.0 352.7 258.1 351.7 258.1 350.8 258.1 349.9 258.2 348.9 258.2 348.0 258.2 347.1 258.2 346.1 258.3 345.2 258.3 344.3 258.3 343.3 258.4 342.4 258.4 341.5 258.4 340.6 258.5 339.6 258.5 338.7 258.5 337.8 258.6 336.8 258.6 335.9 258.6 335.0 258.7 334.0 258.7 333.1 258.7 332.2 258.7 331.3 258.8 330.3 258.8 329.4 258.8 328.5 258.9 327.5 258.9 326.6 258.9 325.7 259.0 324.8 259.0 323.8 259.0 322.9 259.1 322.0 259.1 321.0 259.1 320.1 259.2 319.2 259.2 318.2 259.2 317.3 259.2 316.4 259.3 315.4 259.3 314.5 259.3 313.6 259.4 312.7 259.4 311.7 259.4 310.8 259.5 310.1 259.5 309.3 259.5 308.6 259.6 307.8 259.6 307.1 259.6 306.4 259.7 305.6 259.7 304.9 259.7 304.1 259.7 303.4 259.8 302.7 259.8 301.9 259.8 301.2 259.9 300.4 259.9 299.7 259.9 298.9 260.0 298.2 260.0 297.5 260.0 296.7 260.1 296.0 260.1 295.2 260.1 294.5 260.2 293.8 260.2 293.0 260.2 292.3 260.2 291.5 260.3 290.8 260.3 290.1 260.3 289.3 260.4 288.6 260.4 287.8 260.4 287.1 260.5 286.4 260.5 285.6 260.5 284.9 260.6 284.1 260.6 283.4 260.6 282.6 260.7 281.9 260.7 281.2 260.7 280.4 260.7 279.7 260.8 278.9 260.8 278.2 260.8 277.5 260.9 276.7 260.9 276.0 260.9 275.2 261.0 274.5 261.0 273.8 261.0 273.0 261.1 272.3 261.1 271.5 261.1 270.8 261.2 270.1 261.2 269.3 261.2 268.6 261.2 267.8 261.3 267.1 261.3 266.4 261.3 265.6 261.4 264.9 261.4 264.1 261.4 263.4 261.5 262.6 261.5 261.9 261.5 261.2 261.6 260.4 261.6 259.7 261.6 258.9 261.7 257.9 261.7 256.8 261.7 255.6 261.7 254.5 261.8 253.4 261.8 252.2 261.8 251.1 261.9 250.0 261.9 248.8 261.9 247.7 262.0 246.5 262.0 245.4 262.0 244.3 262.1 243.1 262.1 242.0 262.1 240.8 262.2 239.7 262.2 238.6 262.2 237.4 262.2 236.3 262.3 235.2 262.3 234.0 262.3 232.9 262.4 231.7 262.4 230.6 262.4 229.5 262.5 228.3 262.5 227.2 262.5 226.0 262.6 224.9 262.6 223.8 262.6 222.6 262.7 221.5 262.7 220.4 262.7 219.2 262.7 218.1 262.8 216.9 262.8 216.0 262.8 215.6 262.9 215.2 262.9 214.8 262.9 214.4 263.0 214.0 263.0 213.6 263.0 213.2 263.1 212.8 263.1 212.3 263.1 211.9 263.2 211.5 263.2 211.1 263.2 210.7 263.2 210.3 263.3 209.9 263.3 209.5 263.3 209.1 263.4 208.8 263.4 208.4 263.4 208.1 263.5 207.7 263.5 207.4 263.5 207.1 263.6 206.7" stroke="#ff0000"/>
<path d="M263.6 204.8L264.1 201.8 264.6 200.2 265.1 198.4 265.6 198.1 266.1 197.8 266.6 197.8 267.1 197.8 267.6 197.2 268.1 197.4 268.6 197.1 269.1 196.7 269.6 196.5 270.1 196.4 270.6 196.5 271.1 196.2 271.6 196.0 272.1 196.2 272.6 195.6 273.1 195.9 273.6 195.4 274.1 195.5 274.6 195.3 275.1 195.2 275.6 194.2 276.1 194.9 276.6 194.4 277.1 194.6 277.6 194.3 278.1 194.2 278.6 193.7 279.1 194.0 279.6 192.2 280.1 193.6 280.6 193.1 281.1 193.0 281.6 193.1 282.1 192.8 282.6 192.8 283.1 191.4 283.6 192.6 284.1 189.6 284.6 192.0 285.1 192.0 285.6 191.9 286.1 191.4 286.6 191.6 287.1 191.3 287.6 189.5 288.1 191.0 288.6 190.8 289.1 190.6 289.6 190.5 290.1 190.4 290.6 190.0 291.1 188.8 291.6 190.0 292.1 189.8 292.6 189.8 293.1 189.5 293.6 189.7 294.1 187.2 294.6 186.8 295.1 189.3 295.6 187.1 296.1 189.0 296.6 188.9 297.1 188.7 297.6 188.5 298.1 186.8 298.6 186.0 299.1 188.1 299.6 188.3 300.1 187.2 300.6 187.9 301.1 187.9 301.6 187.8 302.1 187.8 302.6 187.5 303.1 187.2 303.6 187.2 304.1 184.7 304.6 186.4 305.1 186.8 305.6 186.8 306.1 186.2 306.6 186.6 307.1 186.5 307.6 186.3 308.1 186.4 308.6 186.3 309.1 186.2 309.6 185.8 310.1 185.7 310.6 185.7 311.1 185.8 311.6 185.7 312.1 185.4 312.6 183.5 313.1 185.3 313.6 184.6 314.1 184.9 314.6 183.9 315.1 184.9 315.6 184.7 316.1 184.6 316.6 184.4 317.1 184.3 317.6 183.0 318.1 184.0 318.6 184.0 319.1 183.9 319.6 183.2 320.1 182.5 320.6 183.5 321.1 183.7 321.6 183.6 322.1 183.5 322.6 183.3 323.1 182.5 323.6 182.9 324.1 183.3 324.6 183.1 325.1 183.3 325.6 183.1 326.1 183.1 326.6 183.0 327.1 182.9 327.6 183.0 328.1 183.0 328.6 181.5 329.1 182.8 329.6 182.8 330.1 182.8 330.6 181.7 331.1 182.1 331.6 181.1 332.1 181.7 332.6 182.5 333.1 182.1 333.6 182.4 334.1 182.3 334.6 182.2 335.1 182.2 335.6 182.2 336.1 180.8 336.6 182.1 337.1 182.0 337.6 181.9 338.1 182.1 338.6 181.3 339.1 181.9 339.6 181.8 340.1 181.9 340.6 181.8 341.1 181.8 341.6 181.6 342.1 181.7 342.6 181.7 343.1 181.5 343.6 181.6 344.1 181.5 344.6 181.5 345.1 181.4 345.6 181.5 346.1 181.1 346.6 181.3 347.1 181.4 347.6 181.3 348.1 181.2 348.6 181.3 349.1 180.8 349.6 181.1 350.1 181.3 350.6 181.3 351.1 181.2 351.6 181.2 352.1 181.2 352.6 181.2 353.1 181.1 353.6 180.6 354.1 181.2 354.6 181.1 355.1 180.9 355.6 180.5 356.1 181.0 356.6 181.0 357.1 181.0 357.6 181.0 358.1 180.9 358.6 180.9 359.1 181.0 359.6 180.9 360.1 181.0 360.6 180.5 361.1 180.9 361.6 180.9 362.1 180.4 362.6 180.8 363.1 180.7 363.6 180.8 364.1 180.9 364.6 180.8 365.1 180.7 365.6 180.8 366.1 179.8 366.6 180.3 367.1 180.8 367.6 180.6 368.1 180.7 368.6 180.7 369.1 180.7 369.6 180.7 370.1 180.6 370.6 180.6 371.1 180.6 371.6 180.7 372.1 180.6 372.6 180.5 373.1 180.6 373.6 180.4 374.1 180.2 374.6 180.5 375.1 180.5 375.6 180.5 376.1 180.1 376.6 180.4 377.1 180.5 377.6 180.1 378.1 180.5 378.6 180.4 379.1 180.4 379.6 180.4 380.1 180.4 380.6 180.4 381.1 180.4 381.6 180.5 382.1 180.3 382.6 180.4 383.1 180.3 383.6 180.5 384.1 180.5 384.6 180.5 385.1 180.4 385.6 180.4 386.1 180.4 386.6 180.4 387.1 180.5 387.6 180.4 388.1 180.4 388.6 180.4 389.1 180.4 389.6 180.5 390.1 180.4 390.6 180.4 391.1 180.4 391.6 180.4 392.1 179.8 392.6 179.5 393.1 180.4 393.6 180.4 394.1 180.5 394.6 180.5 395.1 180.4 395.6 180.4 396.1 180.4 396.6 180.4 397.1 180.4 397.6 180.5 398.1 180.4 398.6 180.5 399.1 180.4 399.6 179.6 400.1 180.5 400.6 180.4 401.1 180.4 401.6 180.4 402.1 180.4 402.6 180.4 403.1 180.5 403.6 180.5 404.1 180.4 404.6 180.4 405.1 180.5 405.6 180.4 406.1 180.4 406.6 180.4 407.1 180.4 407.6 180.4 408.1 180.5 408.6 180.4 409.1 180.4 409.6 180.5 410.1 180.4 410.6 180.5 411.1 180.4 411.6 179.9 412.1 179.7 412.6 180.4 413.1 180.4 413.6 180.5 414.1 180.5 414.6 180.5 415.1 180.4 415.6 180.5 416.1 180.5 416.6 180.5 417.1 180.4 417.6 180.5 418.1 180.4 418.6 180.4 419.1 180.4 419.6 180.4 420.1 180.4 420.6 180.5 421.1 180.5 421.6 180.5 422.1 180.5 422.6 180.5 423.1 180.5 423.6 180.5 424.1 179.8 424.6 180.4 425.1 180.4 425.6 180.5 426.1 180.5 426.6 179.9 427.1 180.5 427.6 180.5 428.1 180.5 428.6 180.5 429.1 180.4 429.6 179.8 430.1 180.4 430.6 180.1 431.1 180.5 431.6 180.5 432.1 180.5 432.6 180.5 433.1 180.5 433.4 180.4 436.4 180.5 439.4 180.5 442.4 180.5 445.4 180.4 448.4 180.4 451.4 180.5 454.4 180.5 457.4 180.4 460.4 180.4 463.4 180.5 466.4 179.9 469.4 180.4 472.4 180.5 475.4 180.5 478.4 180.1 481.4 180.0 484.4 180.5 487.4 180.5 490.4 180.4 493.4 180.0 496.4 180.5 499.4 180.5 502.4 180.3 505.4 180.5 508.4 180.5 511.4 180.5 514.4 180.5 517.4 180.5 520.4 180.0 523.4 180.5 526.4 180.5 529.4 180.5 532.4 180.5 535.4 180.5 538.4 180.5 541.4 180.5 544.4 180.4 547.4 180.5 550.4 180.2 553.4 180.5 556.4 180.5 559.4 180.5 562.4 180.1 565.4 180.5 568.4 180.5 571.4 180.5 574.4 180.5 577.4 180.5 580.4 180.5 583.4 180.5 586.4 180.5 589.4 180.5 592.4 180.5 595.4 180.5 598.4 180.5 601.4 180.5 604.4 180.5 607.4 180.5 610.4 180.5 613.4 180.5 616.4 180.5 619.4 180.5 622.4 180.5 625.4 180.5 628.4 180.5 631.4 180.5 634.4 180.1 637.4 180.5 640.4 180.5 643.4 180.5 646.4 180.4 649.4 180.5 652.4 180.5 655.4 180.2 658.4 180.5 661.4 180.5 664.4 180.5 667.4 180.5 670.4 180.5 673.4 180.6 676.4 180.6 679.4 180.5 682.4 180.5 685.4 180.6 688.4 180.6 691.4 180.6 694.4 180.5 697.4 180.3 700.4 180.4 703.4 180.5 706.4 180.6 709.4 180.5 712.4 180.6 715.4 180.5 718.4 180.5 721.4 180.5 724.4 180.5 727.4 180.6 730.4 180.3 733.4 180.2 736.4 180.5 739.4 180.6 742.4 180.6 745.4 180.5 748.4 180.5 751.4 180.6 754.4 180.1 757.4 180.5 760.4 180.5 763.4 180.4 766.4 180.5 769.4 180.6 772.4 180.6 775.4 180.5 778.4 180.5 781.4 180.5 784.4 180.5 787.4 180.6 790.4 180.6 793.4 180.6 796.4 180.5 799.4 180.5 802.4 180.6 805.4 180.6 808.4 180.4 811.4 180.6 814.4 180.5 817.4 180.5 820.4 180.6 823.4 180.5 826.4 180.5 829.4 180.6 832.4 180.5 835.4 180.1 838.4 180.6 841.4 180.6 844.4 180.6 847.4 180.6 850.4 180.5 853.4 180.5 856.4 180.6 859.4 180.6 862.4 180.6 865.4 180.5 868.4 180.6 871.4 180.5 874.4 180.6 877.4 180.6 880.4 180.6 883.4 180.6 886.4 180.5 889.4 180.6 892.4 180.6 895.4 180.6 898.4 180.6 901.4 180.6 904.4 180.6 907.4 180.6 910.4 180.6 913.4 180.5 916.4 180.5 919.4 180.6 922.4 180.6 925.4 180.6 928.4 180.6 931.4 180.6 934.4 180.6 937.4 180.6 940.4 180.6 943.4 180.6 946.4 180.1 949.4 180.6 952.4 180.6 955.4 180.6 958.4 180.6 961.4 180.6 964.4 180.6 967.4 180.6 970.4 180.6 973.4 180.6 976.4 180.6 979.4 180.6 982.4 180.6 985.4 180.6 988.4 180.6 991.4 180.6 994.4 180.6 997.4 180.6 1000.4 180.6 1003.4 180.6 1006.4 180.6 1009.4 180.6 1012.4 180.6 1015.4 180.6 1018.4 180.6 1021.4 180.6 1024.4 180.6 1027.4 180.1 1030.4 180.5 1033.4 180.2 1036.4 180.6 1039.4 180.6 1042.4 180.6 1045.4 180.4 1048.4 180.6 1051.4 180.6 1054.4 180.6 1057.4 180.6 1060.4 180.6 1063.4 180.6 1066.4 180.6 1069.4 180.6 1072.4 180.6 1075.4 180.6 1078.4 180.6 1081.4 180.6 1084.4 180.6 1087.4 180.6 1090.4 180.6 1093.4 180.6 1096.4 180.6 1099.4 180.7 1102.4 180.6 1105.4 180.7 1108.4 180.5 1111.4 180.6 1114.4 180.6 1117.4 180.6 1120.4 180.6 1123.4 180.6 1126.4 180.6 1129.4 180.6 1132.4 180.6 1135.4 180.6 1138.4 180.6 1141.4 180.6 1144.4 180.6 1147.4 180.7 1150.4 180.3 1153.4 180.6 1156.4 180.6 1159.4 180.6 1162.4 180.6 1165.4 180.6 1168.4 180.6 1171.4 180.6 1174.4 180.6 1177.4 180.6 1180.4 180.6 1183.4 180.7 1186.4 180.6 1189.4 180.7 1192.4 180.6 1195.4 180.7 1198.4 180.7 1201.4 180.7 1204.4 180.7 1207.4 180.6 1210.4 180.7 1213.4 180.7 1216.4 180.6 1219.4 180.6 1222.4 180.7 1225.4 180.6 1228.4 180.7 1231.4 180.7 1234.4 180.7 1237.4 180.7 1240.4 180.2 1243.4 180.7 1246.4 180.6 1249.4 180.6 1252.4 180.7 1255.4 180.6 1258.4 180.7 1261.4 180.7 1264.4 180.7 1267.4 180.6 1270.4 180.5 1273.4 180.7 1276.4 180.6 1279.4 180.3 1282.4 180.7 1285.4 180.7 1288.4 180.7 1291.4 180.4 1294.4 180.6 1297.4 180.7 1300.4 180.6 1303.4 180.7 1306.4 180.4 1309.4 180.7 1312.4 180.7 1315.4 180.7 1318.4 180.7 1321.4 180.5 1324.4 180.7 1327.4 180.7 1330.4 180.6 1333.4 180.7 1336.4 180.7 1339.4 180.7 1342.4 180.7 1345.4 180.7 1348.4 180.7 1351.4 180.7 1354.4 180.6 1357.4 180.7 1360.4 180.6 1363.4 180.7 1366.4 180.7 1369.4 180.7 1372.4 180.7 1375.4 180.7 1378.4 180.7 1381.4 180.7 1384.4 180.7 1387.4 180.7 1390.4 180.7 1393.4 180.7 1396.4 180.7 1399.4 180.6 1402.4 180.7 1405.4 180.7 1408.4 180.7 1411.4 180.7 1414.4 180.7 1417.4 180.7 1420.4 180.6 1423.4 180.6 1426.4 180.7 1429.4 180.7 1432.4 180.7 1435.4 180.7 1438.4 180.7 1441.4 180.7 1444.4 180.7 1447.4 180.7 1450.4 180.4 1453.4 180.7 1456.4 180.7 1459.4 180.5 1462.4 180.7 1465.4 180.5 1468.4 180.7 1471.4 180.7 1474.4 180.7 1477.4 180.7 1480.4 180.7 1483.4 180.7 1486.4 180.7 1489.4 180.7 1492.4 180.7 1495.4 180.7 1498.4 180.7 1501.4 180.7 1504.4 180.7 1507.4 180.7 1510.4 180.7 1513.4 180.2 1516.4 180.3 1519.4 180.3 1522.4 180.7 1525.4 180.7 1528.4 180.7 1531.4 180.7 1534.4 180.6 1537.4 180.7 1540.4 180.7 1543.4 180.7 1546.4 180.7 1549.4 180.7 1552.4 180.7 1555.4 180.7 1558.4 180.7 1561.4 180.7 1564.4 180.3 1567.4 180.7 1570.4 180.7 1573.4 180.7 1576.4 180.7 1579.4 180.7 1582.4 180.7 1585.4 180.4 1588.4 180.7 1591.4 180.7 1594.4 180.7 1597.4 180.7 1600.4 180.5 1603.4 180.7 1606.4 180.8 1609.4 180.8 1612.4 180.7 1615.4 180.7 1618.4 180.7 1621.4 180.7 1624.4 180.7 1627.4 180.7 1630.4 180.6 1633.4 180.6 1636.4 180.7 1639.4 180.8 1642.4 180.7 1645.4 180.8 1648.4 180.7 1651.4 180.7 1654.4 180.5 1657.4 180.7 1660.4 180.8 1663.4 180.7 1666.4 180.6 1669.4 180.7 1672.4 180.3 1675.4 180.7 1678.4 180.7 1681.4 180.5 1684.4 180.7 1687.4 180.7 1690.4 180.8 1693.4 180.7 1696.4 180.4 1699.4 180.8 1702.4 180.7 1705.4 180.7 1708.4 180.7 1711.4 180.8 1714.4 180.7 1717.4 180.8 1720.4 180.8 1723.4 180.8 1726.4 180.8 1729.4 180.7 1732.4 180.7 1735.4 180.7 1738.4 180.7 1741.4 180.8 1744.4 180.8 1747.4 180.3 1750.4 180.8 1753.4 180.8 1756.4 180.8 1759.4 180.8 1762.4 180.4 1765.4 180.8 1768.4 180.7 1771.4 180.8 1774.4 180.6 1777.4 180.8 1780.4 180.8 1783.4 180.8 1786.4 180.6 1789.4 180.7 1792.4 180.8 1795.4 180.7 1798.4 180.8 1801.4 180.8 1804.4 180.8 1807.4 180.7 1808.9 180.8 1808.9 193.3 1807.4 193.3 1804.4 193.3 1801.4 193.3 1798.4 193.3 1795.4 193.3 1792.4 193.3 1789.4 193.3 1786.4 193.3 1783.4 193.3 1780.4 193.3 1777.4 193.3 1774.4 193.3 1771.4 193.3 1768.4 193.3 1765.4 193.3 1762.4 193.3 1759.4 193.3 1756.4 193.3 1753.4 193.3 1750.4 193.7 1747.4 193.3 1744.4 193.5 1741.4 193.3 1738.4 193.3 1735.4 193.3 1732.4 193.3 1729.4 193.3 1726.4 193.3 1723.4 193.3 1720.4 193.3 1717.4 193.3 1714.4 193.3 1711.4 193.3 1708.4 193.3 1705.4 193.3 1702.4 193.3 1699.4 193.3 1696.4 193.3 1693.4 193.3 1690.4 193.3 1687.4 193.3 1684.4 193.3 1681.4 193.3 1678.4 193.3 1675.4 193.3 1672.4 193.3 1669.4 193.3 1666.4 193.3 1663.4 193.3 1660.4 193.3 1657.4 193.3 1654.4 193.7 1651.4 193.3 1648.4 193.3 1645.4 193.5 1642.4 193.3 1639.4 193.3 1636.4 193.3 1633.4 193.3 1630.4 193.3 1627.4 193.3 1624.4 193.3 1621.4 193.3 1618.4 193.3 1615.4 193.3 1612.4 193.3 1609.4 193.3 1606.4 193.4 1603.4 193.3 1600.4 193.3 1597.4 193.3 1594.4 193.3 1591.4 193.3 1588.4 193.4 1585.4 193.3 1582.4 193.3 1579.4 193.3 1576.4 193.4 1573.4 193.4 1570.4 193.3 1567.4 193.3 1564.4 193.3 1561.4 193.3 1558.4 193.3 1555.4 193.3 1552.4 193.3 1549.4 193.2 1546.4 193.3 1543.4 193.2 1540.4 193.2 1537.4 193.5 1534.4 193.3 1531.4 193.3 1528.4 193.2 1525.4 193.6 1522.4 193.5 1519.4 193.3 1516.4 193.3 1513.4 193.3 1510.4 193.3 1507.4 193.3 1504.4 193.3 1501.4 193.2 1498.4 193.3 1495.4 193.2 1492.4 193.3 1489.4 193.3 1486.4 193.3 1483.4 193.2 1480.4 193.4 1477.4 193.2 1474.4 193.3 1471.4 193.3 1468.4 193.3 1465.4 193.3 1462.4 193.2 1459.4 193.3 1456.4 193.3 1453.4 193.3 1450.4 193.3 1447.4 193.3 1444.4 193.3 1441.4 193.3 1438.4 193.2 1435.4 193.2 1432.4 193.2 1429.4 193.2 1426.4 193.2 1423.4 193.3 1420.4 193.2 1417.4 193.3 1414.4 193.3 1411.4 193.3 1408.4 193.2 1405.4 193.2 1402.4 193.3 1399.4 193.3 1396.4 193.3 1393.4 193.3 1390.4 193.2 1387.4 193.2 1384.4 193.3 1381.4 193.2 1378.4 193.2 1375.4 193.3 1372.4 193.3 1369.4 193.2 1366.4 193.2 1363.4 193.2 1360.4 193.3 1357.4 193.2 1354.4 193.2 1351.4 193.3 1348.4 193.2 1345.4 193.3 1342.4 193.3 1339.4 193.3 1336.4 193.2 1333.4 193.2 1330.4 193.3 1327.4 193.2 1324.4 193.2 1321.4 193.2 1318.4 193.4 1315.4 193.2 1312.4 193.2 1309.4 193.5 1306.4 193.2 1303.4 193.5 1300.4 193.2 1297.4 193.2 1294.4 193.2 1291.4 193.3 1288.4 193.2 1285.4 193.2 1282.4 193.2 1279.4 193.2 1276.4 193.7 1273.4 193.3 1270.4 193.2 1267.4 193.2 1264.4 193.4 1261.4 193.2 1258.4 193.2 1255.4 193.2 1252.4 193.3 1249.4 193.2 1246.4 193.2 1243.4 193.2 1240.4 193.2 1237.4 193.2 1234.4 193.2 1231.4 193.6 1228.4 193.2 1225.4 193.2 1222.4 193.2 1219.4 193.2 1216.4 193.2 1213.4 193.2 1210.4 193.2 1207.4 193.2 1204.4 193.2 1201.4 193.2 1198.4 193.2 1195.4 193.2 1192.4 193.2 1189.4 193.2 1186.4 193.2 1183.4 193.2 1180.4 193.2 1177.4 193.2 1174.4 193.2 1171.4 193.2 1168.4 193.2 1165.4 193.2 1162.4 193.2 1159.4 193.2 1156.4 193.2 1153.4 193.2 1150.4 193.2 1147.4 193.2 1144.4 193.2 1141.4 193.2 1138.4 193.2 1135.4 193.2 1132.4 193.5 1129.4 193.2 1126.4 193.2 1123.4 193.2 1120.4 193.2 1117.4 193.2 1114.4 193.2 1111.4 193.2 1108.4 193.2 1105.4 193.6 1102.4 193.2 1099.4 193.3 1096.4 193.2 1093.4 193.2 1090.4 193.2 1087.4 193.1 1084.4 193.2 1081.4 193.5 1078.4 193.2 1075.4 193.2 1072.4 193.2 1069.4 193.2 1066.4 193.2 1063.4 193.6 1060.4 193.2 1057.4 193.2 1054.4 193.2 1051.4 193.2 1048.4 193.2 1045.4 193.1 1042.4 193.2 1039.4 193.2 1036.4 193.2 1033.4 193.2 1030.4 193.4 1027.4 193.2 1024.4 193.1 1021.4 193.2 1018.4 193.2 1015.4 193.2 1012.4 193.1 1009.4 193.2 1006.4 193.2 1003.4 193.2 1000.4 193.2 997.4 193.1 994.4 193.1 991.4 193.1 988.4 193.1 985.4 193.1 982.4 193.2 979.4 193.2 976.4 193.2 973.4 193.2 970.4 193.6 967.4 193.2 964.4 193.2 961.4 193.1 958.4 193.1 955.4 193.2 952.4 193.4 949.4 193.2 946.4 193.1 943.4 193.2 940.4 193.2 937.4 193.2 934.4 193.1 931.4 193.2 928.4 193.1 925.4 193.2 922.4 193.1 919.4 193.1 916.4 193.1 913.4 193.2 910.4 193.2 907.4 193.2 904.4 193.2 901.4 193.2 898.4 193.2 895.4 193.1 892.4 193.2 889.4 193.4 886.4 193.2 883.4 193.2 880.4 193.1 877.4 193.1 874.4 193.1 871.4 193.1 868.4 193.3 865.4 193.2 862.4 193.2 859.4 193.2 856.4 193.1 853.4 193.2 850.4 193.1 847.4 193.1 844.4 193.1 841.4 193.1 838.4 193.2 835.4 193.3 832.4 193.1 829.4 193.2 826.4 193.3 823.4 193.1 820.4 193.1 817.4 193.1 814.4 193.1 811.4 193.1 808.4 193.1 805.4 193.2 802.4 193.2 799.4 193.3 796.4 193.1 793.4 193.2 790.4 193.4 787.4 193.1 784.4 193.2 781.4 193.1 778.4 193.1 775.4 193.1 772.4 193.1 769.4 193.1 766.4 193.2 763.4 193.1 760.4 193.1 757.4 193.1 754.4 193.1 751.4 193.4 748.4 193.1 745.4 193.1 742.4 193.1 739.4 193.1 736.4 193.1 733.4 193.1 730.4 193.1 727.4 193.1 724.4 193.1 721.4 193.1 718.4 193.1 715.4 193.1 712.4 193.2 709.4 193.2 706.4 193.1 703.4 193.1 700.4 193.1 697.4 193.1 694.4 193.1 691.4 193.1 688.4 193.1 685.4 193.1 682.4 193.1 679.4 193.1 676.4 193.4 673.4 193.1 670.4 193.1 667.4 193.1 664.4 193.1 661.4 193.1 658.4 193.1 655.4 193.1 652.4 193.1 649.4 193.1 646.4 193.1 643.4 193.5 640.4 193.1 637.4 193.1 634.4 193.1 631.4 193.1 628.4 193.5 625.4 193.5 622.4 193.1 619.4 193.1 616.4 193.1 613.4 193.1 610.4 193.1 607.4 193.1 604.4 193.0 601.4 193.1 598.4 193.1 595.4 193.1 592.4 193.1 589.4 193.1 586.4 193.1 583.4 193.1 580.4 193.0 577.4 193.3 574.4 193.1 571.4 193.1 568.4 193.1 565.4 193.1 562.4 193.1 559.4 193.2 556.4 193.1 553.4 193.5 550.4 193.1 547.4 193.0 544.4 193.1 541.4 193.1 538.4 193.2 535.4 193.1 532.4 193.1 529.4 193.1 526.4 193.1 523.4 193.1 520.4 193.1 517.4 193.1 514.4 193.1 511.4 193.0 508.4 193.0 505.4 193.1 502.4 193.1 499.4 193.0 496.4 193.1 493.4 193.0 490.4 193.1 487.4 193.1 484.4 193.1 481.4 193.0 478.4 193.1 475.4 193.0 472.4 193.1 469.4 193.0 466.4 193.1 463.4 193.1 460.4 193.0 457.4 193.3 454.4 193.0 451.4 193.1 448.4 193.0 445.4 193.0 442.4 193.0 439.4 193.0 436.4 193.6 433.4 193.1 433.1 193.1 432.6 193.1 432.1 193.0 431.6 193.0 431.1 193.0 430.6 193.1 430.1 193.1 429.6 193.0 429.1 193.1 428.6 193.1 428.1 193.1 427.6 193.3 427.1 193.1 426.6 193.1 426.1 193.0 425.6 193.0 425.1 193.0 424.6 193.1 424.1 193.1 423.6 193.1 423.1 193.1 422.6 193.1 422.1 193.0 421.6 193.0 421.1 193.0 420.6 193.0 420.1 193.0 419.6 193.0 419.1 193.1 418.6 193.2 418.1 193.0 417.6 193.0 417.1 193.9 416.6 193.1 416.1 193.0 415.6 193.6 415.1 193.1 414.6 193.3 414.1 193.1 413.6 193.1 413.1 193.1 412.6 193.1 412.1 193.1 411.6 193.1 411.1 193.1 410.6 193.1 410.1 193.1 409.6 193.1 409.1 193.1 408.6 193.1 408.1 193.1 407.6 193.1 407.1 193.1 406.6 193.1 406.1 193.0 405.6 193.1 405.1 193.0 404.6 193.0 404.1 193.1 403.6 193.0 403.1 193.3 402.6 193.1 402.1 193.5 401.6 193.1 401.1 193.1 400.6 193.1 400.1 193.6 399.6 193.0 399.1 193.1 398.6 194.0 398.1 193.1 397.6 193.8 397.1 193.8 396.6 193.1 396.1 193.1 395.6 193.0 395.1 193.1 394.6 193.0 394.1 193.1 393.6 193.0 393.1 193.1 392.6 193.0 392.1 193.2 391.6 193.1 391.1 193.4 390.6 193.1 390.1 193.1 389.6 193.0 389.1 193.2 388.6 193.0 388.1 193.1 387.6 193.1 387.1 193.1 386.6 193.1 386.1 193.1 385.6 193.1 385.1 193.0 384.6 193.1 384.1 193.1 383.6 193.1 383.1 193.1 382.6 193.0 382.1 193.6 381.6 193.1 381.1 193.0 380.6 193.1 380.1 193.0 379.6 193.1 379.1 193.0 378.6 193.1 378.1 193.1 377.6 193.9 377.1 193.0 376.6 193.0 376.1 193.2 375.6 193.2 375.1 193.2 374.6 193.1 374.1 193.3 373.6 193.2 373.1 193.2 372.6 193.2 372.1 193.2 371.6 193.2 371.1 193.3 370.6 193.3 370.1 193.4 369.6 193.3 369.1 193.4 368.6 194.3 368.1 193.3 367.6 193.3 367.1 193.5 366.6 193.3 366.1 193.5 365.6 193.5 365.1 193.4 364.6 193.4 364.1 194.3 363.6 193.5 363.1 193.5 362.6 193.5 362.1 194.6 361.6 193.6 361.1 194.8 360.6 194.8 360.1 193.5 359.6 193.7 359.1 193.6 358.6 193.6 358.1 193.6 357.6 193.8 357.1 193.7 356.6 193.7 356.1 193.7 355.6 193.7 355.1 193.8 354.6 193.8 354.1 193.7 353.6 193.9 353.1 194.0 352.6 193.8 352.1 193.8 351.6 193.9 351.1 193.9 350.6 193.8 350.1 195.4 349.6 193.9 349.1 193.9 348.6 193.9 348.1 195.4 347.6 194.1 347.1 194.2 346.6 194.1 346.1 194.2 345.6 194.7 345.1 195.4 344.6 194.2 344.1 194.2 343.6 194.2 343.1 194.3 342.6 194.3 342.1 194.4 341.6 194.4 341.1 194.4 340.6 194.6 340.1 194.5 339.6 195.4 339.1 194.7 338.6 194.8 338.1 194.7 337.6 194.9 337.1 195.4 336.6 194.9 336.1 194.9 335.6 195.7 335.1 194.9 334.6 195.0 334.1 196.6 333.6 195.2 333.1 195.3 332.6 195.3 332.1 195.4 331.6 195.4 331.1 195.4 330.6 195.6 330.1 195.6 329.6 195.6 329.1 195.6 328.6 195.7 328.1 195.8 327.6 195.8 327.1 195.9 326.6 195.7 326.1 195.9 325.6 197.2 325.1 196.1 324.6 196.2 324.1 196.0 323.6 196.1 323.1 196.1 322.6 196.3 322.1 196.3 321.6 196.4 321.1 197.0 320.6 196.4 320.1 196.5 319.6 196.7 319.1 198.2 318.6 196.9 318.1 196.9 317.6 197.1 317.1 197.2 316.6 197.2 316.1 199.4 315.6 197.4 315.1 199.0 314.6 197.6 314.1 197.7 313.6 198.0 313.1 198.1 312.6 200.2 312.1 198.3 311.6 198.5 311.1 198.4 310.6 198.4 310.1 200.3 309.6 198.9 309.1 198.9 308.6 198.9 308.1 199.3 307.6 199.4 307.1 199.3 306.6 199.4 306.1 199.7 305.6 199.8 305.1 199.8 304.6 200.0 304.1 200.2 303.6 200.1 303.1 200.1 302.6 200.5 302.1 200.4 301.6 200.7 301.1 200.9 300.6 203.1 300.1 200.8 299.6 203.3 299.1 201.3 298.6 201.3 298.1 201.3 297.6 201.7 297.1 201.7 296.6 201.8 296.1 202.0 295.6 201.8 295.1 202.1 294.6 202.3 294.1 202.5 293.6 202.6 293.1 202.5 292.6 204.2 292.1 202.6 291.6 203.0 291.1 203.0 290.6 203.2 290.1 203.2 289.6 203.6 289.1 203.4 288.6 203.8 288.1 203.8 287.6 204.2 287.1 204.0 286.6 204.3 286.1 204.3 285.6 204.6 285.1 205.0 284.6 205.2 284.1 205.3 283.6 205.2 283.1 205.4 282.6 205.7 282.1 205.9 281.6 205.9 281.1 206.3 280.6 206.5 280.1 206.3 279.6 206.5 279.1 206.8 278.6 207.0 278.1 207.3 277.6 207.3 277.1 207.5 276.6 207.3 276.1 207.5 275.6 207.6 275.1 208.0 274.6 208.4 274.1 208.5 273.6 211.0 273.1 209.0 272.6 208.6 272.1 209.1 271.6 209.0 271.1 209.6 270.6 209.3 270.1 209.5 269.6 210.0 269.1 209.8 268.6 210.2 268.1 210.1 267.6 210.4 267.1 210.8 266.6 210.9 266.1 211.2 265.6 211.3 265.1 211.4 264.6 210.3 264.1 209.3 263.6 208.4Z" fill="#ff0000" stroke="none"/>
<path d="M246.0 961.8L246.0 953.1 246.1 944.4 246.1 935.8 246.1 927.1 246.2 918.4 246.2 909.7 246.2 901.0 246.2 892.4 246.3 883.7 246.3 875.0 246.3 866.3 246.4 857.6 246.4 849.0 246.4 840.3 246.5 831.6 246.5 828.7 246.5 825.8 246.6 822.9 246.6 820.0 246.6 817.1 246.7 814.2 246.7 811.3 246.7 808.5 246.7 805.6 246.8 802.7 246.8 799.8 246.8 796.9 246.9 794.0 246.9 791.1 246.9 788.2 247.0 785.3 247.0 782.4 247.0 779.5 247.1 776.6 247.1 773.7 247.1 770.8 247.2 767.9 247.2 765.1 247.2 762.2 247.2 759.3 247.3 756.4 247.3 753.5 247.3 750.6 247.4 747.7 247.4 744.8 247.4 741.9 247.5 739.0 247.5 736.1 247.5 733.2 247.6 730.3 247.6 727.4 247.6 724.5 247.7 721.7 247.7 718.8 247.7 715.9 247.7 713.0 247.8 710.1 247.8 707.2 247.8 704.3 247.9 701.4 247.9 698.4 247.9 695.3 248.0 692.3 248.0 689.2 248.0 686.2 248.1 683.2 248.1 680.1 248.1 677.1 248.2 674.1 248.2 671.0 248.2 668.0 248.2 664.9 248.3 661.9 248.3 658.9 248.3 655.8 248.4 652.8 248.4 649.8 248.4 646.7 248.5 643.7 248.5 640.6 248.5 637.6 248.6 634.6 248.6 631.5 248.6 628.5 248.7 625.5 248.7 622.4 248.7 619.4 248.7 616.3 248.8 613.3 248.8 610.3 248.8 607.2 248.9 604.2 248.9 601.1 248.9 598.1 249.0 595.1 249.0 592.0 249.0 589.0 249.1 586.0 249.1 582.9 249.1 579.9 249.2 576.8 249.2 573.8 249.2 570.8 249.2 567.7 249.3 564.7 249.3 561.7 249.3 558.6 249.4 555.6 249.4 552.5 249.4 549.5 249.5 546.5 249.5 543.4 249.5 540.4 249.6 537.3 249.6 534.3 249.6 531.3 249.7 528.2 249.7 525.2 249.7 522.2 249.7 519.1 249.8 517.0 249.8 514.8 249.8 512.6 249.9 510.4 249.9 508.3 249.9 506.1 250.0 503.9 250.0 501.8 250.0 499.6 250.1 497.4 250.1 495.3 250.1 493.1 250.2 490.9 250.2 488.7 250.2 486.6 250.2 484.4 250.3 482.2 250.3 480.1 250.3 477.9 250.4 475.7 250.4 473.5 250.4 471.4 250.5 469.2 250.5 467.0 250.5 464.9 250.6 462.7 250.6 460.5 250.6 458.4 250.7 456.2 250.7 454.0 250.7 451.9 250.7 449.7 250.8 447.5 250.8 445.3 250.8 443.2 250.9 441.0 250.9 438.8 250.9 436.7 251.0 434.5 251.0 432.3 251.0 430.2 251.1 428.0 251.1 425.8 251.1 423.6 251.2 421.5 251.2 419.3 251.2 417.1 251.2 415.0 251.3 412.8 251.3 410.6 251.3 408.4 251.4 406.3 251.4 404.1 251.4 401.9 251.5 399.8 251.5 397.6 251.5 395.4 251.6 393.3 251.6 391.1 251.6 388.9 251.7 386.7 251.7 384.6 251.7 382.4 251.7 380.2 251.8 378.1 251.8 375.9 251.8 374.7 251.9 373.5 251.9 372.3 251.9 371.1 252.0 369.9 252.0 368.7 252.0 367.5 252.1 366.3 252.1 365.1 252.1 363.8 252.2 362.6 252.2 361.4 252.2 360.2 252.2 359.0 252.3 357.8 252.3 356.6 252.3 355.4 252.4 354.2 252.4 353.0 252.4 351.8 252.5 350.6 252.5 349.4 252.5 348.2 252.6 347.0 252.6 345.8 252.6 344.6 252.7 343.3 252.7 342.1 252.7 340.9 252.7 339.7 252.8 338.5 252.8 337.3 252.8 336.1 252.9 334.9 252.9 333.7 252.9 332.5 253.0 331.3 253.0 330.1 253.0 328.9 253.1 327.7 253.1 326.5 253.1 325.3 253.2 324.1 253.2 322.9 253.2 321.6 253.2 320.4 253.3 319.2 253.3 318.0 253.3 316.8 253.4 315.6 253.4 314.4 253.4 313.2 253.5 312.0 253.5 310.8 253.5 309.9 253.6 308.9 253.6 308.0 253.6 307.1 253.7 306.2 253.7 305.2 253.7 304.3 253.7 303.4 253.8 302.4 253.8 301.5 253.8 300.6 253.9 299.6 253.9 298.7 253.9 297.8 254.0 296.8 254.0 295.9 254.0 295.0 254.1 294.1 254.1 293.1 254.1 292.2 254.2 291.3 254.2 290.3 254.2 289.4 254.2 288.5 254.3 287.6 254.3 286.6 254.3 285.7 254.4 284.8 254.4 283.8 254.4 282.9 254.5 282.0 254.5 281.0 254.5 280.1 254.6 279.2 254.6 278.2 254.6 277.3 254.7 276.4 254.7 275.5 254.7 274.5 254.7 273.6 254.8 272.7 254.8 271.7 254.8 270.8 254.9 269.9 254.9 269.0 254.9 268.0 255.0 267.1 255.0 266.2 255.0 265.2 255.1 264.3 255.1 263.4 255.1 262.4 255.2 261.5 255.2 260.6 255.2 259.7 255.2 258.7 255.3 257.1 255.3 255.5 255.3 253.9 255.4 252.2 255.4 250.6 255.4 249.0 255.5 247.4 255.5 245.8 255.5 244.2 255.6 242.5 255.6 240.9 255.6 239.3 255.7 237.7 255.7 236.1 255.7 234.4 255.7 232.8 255.8 231.2 255.8 229.6 255.8 228.0 255.9 226.3 255.9 224.7 255.9 223.1 256.0 221.5 256.0 219.9 256.0 218.2 256.1 216.6 256.1 215.8 256.1 215.4 256.2 214.9 256.2 214.4 256.2 214.0 256.2 213.5 256.3 213.0 256.3 212.6 256.3 212.1 256.4 211.6 256.4 211.2 256.4 210.7 256.5 210.3 256.5 209.8 256.5 209.3 256.6 208.9 256.6 208.4 256.6 207.9" stroke="#0000ff"/>
<path d="M256.6 206.1L257.1 201.9 257.6 198.4 258.1 196.6 258.6 196.1 259.1 195.3 259.6 194.0 260.1 193.5 260.6 194.0 261.1 194.0 261.6 193.8 262.1 193.6 262.6 193.4 263.1 193.0 263.6 192.8 264.1 192.5 264.6 192.0 265.1 191.9 265.6 191.8 266.1 191.3 266.6 191.5 267.1 189.7 267.6 190.8 268.1 190.9 268.6 190.7 269.1 190.2 269.6 189.5 270.1 189.5 270.6 189.5 271.1 189.4 271.6 189.2 272.1 189.2 272.6 189.2 273.1 188.9 273.6 188.5 274.1 186.3 274.6 188.3 275.1 188.4 275.6 187.8 276.1 188.0 276.6 187.7 277.1 187.3 277.6 187.3 278.1 187.0 278.6 186.9 279.1 184.4 279.6 186.8 280.1 186.5 280.6 186.3 281.1 186.0 281.6 186.1 282.1 183.5 282.6 185.2 283.1 185.6 283.6 183.5 284.1 185.4 284.6 184.9 285.1 182.5 285.6 184.1 286.1 184.5 286.6 184.4 287.1 184.2 287.6 184.0 288.1 183.3 288.6 183.8 289.1 183.7 289.6 183.5 290.1 183.4 290.6 182.0 291.1 183.1 291.6 181.5 292.1 182.9 292.6 181.8 293.1 181.0 293.6 182.6 294.1 181.1 294.6 182.0 295.1 181.9 295.6 181.9 296.1 181.9 296.6 180.1 297.1 181.4 297.6 181.4 298.1 181.4 298.6 181.0 299.1 179.6 299.6 180.9 300.1 180.8 300.6 180.7 301.1 180.6 301.6 180.6 302.1 180.2 302.6 178.5 303.1 180.0 303.6 179.2 304.1 178.1 304.6 179.8 305.1 179.6 305.6 179.6 306.1 179.4 306.6 179.0 307.1 177.4 307.6 179.0 308.1 178.8 308.6 178.6 309.1 178.6 309.6 178.4 310.1 178.3 310.6 178.2 311.1 176.5 311.6 177.9 312.1 177.7 312.6 177.8 313.1 177.4 313.6 177.6 314.1 177.3 314.6 177.1 315.1 177.2 315.6 177.0 316.1 176.7 316.6 176.5 317.1 174.7 317.6 176.4 318.1 176.3 318.6 174.9 319.1 176.2 319.6 176.0 320.1 175.9 320.6 175.9 321.1 175.8 321.6 174.9 322.1 175.7 322.6 175.7 323.1 175.7 323.6 175.5 324.1 175.6 324.6 175.4 325.1 175.5 325.6 175.4 326.1 174.4 326.6 175.3 327.1 175.3 327.6 175.3 328.1 175.1 328.6 175.2 329.1 174.1 329.6 175.2 330.1 175.1 330.6 174.1 331.1 174.9 331.6 174.5 332.1 174.9 332.6 174.9 333.1 174.8 333.6 174.8 334.1 174.7 334.6 174.8 335.1 174.7 335.6 174.7 336.1 174.7 336.6 174.7 337.1 174.5 337.6 174.4 338.1 174.6 338.6 174.4 339.1 174.4 339.6 174.3 340.1 174.3 340.6 174.3 341.1 173.6 341.6 174.2 342.1 174.1 342.6 174.1 343.1 174.2 343.6 173.5 344.1 174.0 344.6 173.9 345.1 172.7 345.6 173.9 346.1 173.9 346.6 173.7 347.1 173.7 347.6 173.7 348.1 173.7 348.6 173.6 349.1 173.7 349.6 173.7 350.1 173.7 350.6 173.6 351.1 173.5 351.6 173.5 352.1 173.4 352.6 173.5 353.1 172.7 353.6 173.3 354.1 173.4 354.6 173.6 355.1 173.6 355.6 172.8 356.1 173.6 356.6 173.1 357.1 173.6 357.6 173.6 358.1 173.7 358.6 173.7 359.1 173.8 359.6 173.7 360.1 173.7 360.6 173.7 361.1 173.9 361.6 173.8 362.1 173.9 362.6 173.9 363.1 173.9 363.6 173.9 364.1 174.0 364.6 173.9 365.1 173.9 365.6 174.1 366.1 173.8 366.6 172.8 367.1 174.1 367.6 173.6 368.1 174.1 368.6 174.1 369.1 173.5 369.6 174.1 370.1 174.2 370.6 173.7 371.1 174.2 371.6 174.3 372.1 174.2 372.6 174.0 373.1 174.3 373.6 174.4 374.1 174.5 374.6 173.4 375.1 174.5 375.6 174.4 376.1 174.4 376.6 174.5 377.1 174.5 377.6 174.5 378.1 173.5 378.6 174.6 379.1 174.6 379.6 174.7 380.1 174.6 380.6 174.6 381.1 174.7 381.6 174.7 382.1 174.7 382.6 174.8 383.1 174.8 383.6 174.8 384.1 174.8 384.6 174.9 385.1 174.8 385.6 174.9 386.1 174.9 386.6 175.0 387.1 174.9 387.6 175.0 388.1 175.0 388.6 175.0 389.1 175.0 389.6 174.9 390.1 174.7 390.6 175.0 391.1 174.9 391.6 174.5 392.1 175.1 392.6 174.6 393.1 175.0 393.6 175.1 394.1 175.0 394.6 175.1 395.1 175.0 395.6 175.0 396.1 175.0 396.6 175.1 397.1 175.1 397.6 174.9 398.1 175.1 398.6 175.1 399.1 174.5 399.6 175.2 400.1 175.1 400.6 175.1 401.1 175.1 401.6 175.2 402.1 175.2 402.6 174.4 403.1 174.5 403.6 175.2 404.1 175.1 404.6 175.1 405.1 175.2 405.6 175.2 406.1 175.2 406.6 175.2 407.1 175.3 407.6 174.6 408.1 175.2 408.6 175.2 409.1 175.3 409.6 175.3 410.1 175.2 410.6 175.4 411.1 175.3 411.6 175.3 412.1 175.3 412.6 175.3 413.1 175.0 413.6 175.4 414.1 175.3 414.6 175.3 415.1 175.4 415.6 175.4 416.1 175.3 416.6 175.3 417.1 175.0 417.6 175.4 418.1 175.4 418.6 175.4 419.1 175.5 419.6 175.5 420.1 175.4 420.6 175.5 421.1 175.5 421.6 174.9 422.1 175.5 422.6 175.4 423.1 175.5 423.6 175.1 424.1 175.5 424.6 175.5 425.1 175.6 425.6 175.5 426.1 175.6 426.6 175.6 427.1 175.6 427.6 175.5 428.1 175.6 428.6 175.6 429.1 175.5 429.6 175.5 430.1 175.5 430.6 175.6 431.1 175.6 431.6 175.3 432.1 175.7 432.6 175.7 433.1 175.6 433.4 175.7 436.4 175.7 439.4 175.0 442.4 175.6 445.4 175.6 448.4 175.6 451.4 175.7 454.4 175.6 457.4 175.4 460.4 175.6 463.4 175.6 466.4 175.4 469.4 175.7 472.4 175.6 475.4 175.6 478.4 175.7 481.4 175.7 484.4 175.7 487.4 175.6 490.4 175.6 493.4 175.7 496.4 175.6 499.4 175.1 502.4 175.7 505.4 175.7 508.4 175.6 511.4 175.7 514.4 175.7 517.4 175.6 520.4 175.7 523.4 175.5 526.4 175.7 529.4 175.5 532.4 175.6 535.4 175.6 538.4 175.6 541.4 175.6 544.4 175.6 547.4 175.6 550.4 175.4 553.4 175.7 556.4 175.7 559.4 175.6 562.4 175.3 565.4 175.6 568.4 175.7 571.4 175.7 574.4 175.6 577.4 175.7 580.4 175.7 583.4 175.7 586.4 175.5 589.4 175.7 592.4 175.2 595.4 175.7 598.4 175.6 601.4 175.6 604.4 175.7 607.4 175.6 610.4 175.7 613.4 175.7 616.4 175.6 619.4 175.6 622.4 175.7 625.4 175.5 628.4 175.7 631.4 175.7 634.4 175.3 637.4 175.7 640.4 175.6 643.4 175.7 646.4 175.6 649.4 175.5 652.4 175.2 655.4 175.6 658.4 175.5 661.4 175.6 664.4 175.7 667.4 175.7 670.4 175.7 673.4 175.3 676.4 175.7 679.4 175.7 682.4 175.2 685.4 175.7 688.4 175.5 691.4 175.7 694.4 175.7 697.4 175.7 700.4 175.6 703.4 175.7 706.4 175.7 709.4 175.6 712.4 175.6 715.4 175.6 718.4 175.6 721.4 175.7 724.4 175.3 727.4 175.6 730.4 175.7 733.4 175.7 736.4 175.7 739.4 175.7 742.4 175.7 745.4 175.6 748.4 175.7 751.4 175.7 754.4 175.6 757.4 175.7 760.4 175.7 763.4 175.6 766.4 175.7 769.4 175.6 772.4 175.6 775.4 175.7 778.4 175.6 781.4 175.7 784.4 175.7 787.4 175.6 790.4 175.7 793.4 175.7 796.4 175.7 799.4 175.7 802.4 175.7 805.4 175.7 808.4 175.7 811.4 175.4 814.4 175.7 817.4 175.7 820.4 175.6 823.4 175.7 826.4 175.7 829.4 175.7 832.4 175.7 835.4 175.6 838.4 175.6 841.4 175.7 844.4 175.7 847.4 175.4 850.4 175.7 853.4 175.7 856.4 175.7 859.4 175.6 862.4 175.7 865.4 175.3 868.4 175.7 871.4 175.7 874.4 175.6 877.4 175.6 880.4 175.7 883.4 175.6 886.4 175.7 889.4 175.7 892.4 175.7 895.4 175.4 898.4 175.7 901.4 175.6 904.4 175.6 907.4 175.7 910.4 175.4 913.4 175.6 916.4 175.7 919.4 175.7 922.4 175.7 925.4 175.7 928.4 175.7 931.4 175.7 934.4 175.7 937.4 175.7 940.4 175.7 943.4 175.7 946.4 175.7 949.4 175.7 952.4 175.6 955.4 175.7 958.4 175.7 961.4 175.4 964.4 175.7 967.4 175.7 970.4 175.6 973.4 175.4 976.4 175.7 979.4 175.7 982.4 175.7 985.4 175.4 988.4 175.7 991.4 175.5 994.4 175.7 997.4 175.5 1000.4 175.6 1003.4 175.6 1006.4 175.5 1009.4 175.7 1012.4 175.7 1015.4 175.7 1018.4 175.7 1021.4 175.7 1024.4 175.7 1027.4 175.7 1030.4 175.7 1033.4 175.7 1036.4 175.7 1039.4 175.6 1042.4 175.7 1045.4 175.5 1048.4 175.7 1051.4 175.7 1054.4 175.7 1057.4 175.7 1060.4 175.7 1063.4 175.7 1066.4 175.6 1069.4 175.7 1072.4 175.7 1075.4 175.7 1078.4 175.7 1081.4 175.6 1084.4 175.7 1087.4 175.6 1090.4 175.2 1093.4 175.7 1096.4 175.7 1099.4 175.7 1102.4 175.7 1105.4 175.6 1108.4 175.7 1111.4 175.6 1114.4 175.6 1117.4 175.7 1120.4 175.7 1123.4 175.7 1126.4 175.5 1129.4 175.6 1132.4 175.6 1135.4 175.7 1138.4 175.7 1141.4 175.7 1144.4 175.7 1147.4 175.6 1150.4 175.7 1153.4 175.7 1156.4 175.7 1159.4 175.7 1162.4 175.6 1165.4 175.7 1168.4 175.7 1171.4 175.6 1174.4 175.6 1177.4 175.7 1180.4 175.7 1183.4 175.7 1186.4 175.7 1189.4 175.7 1192.4 175.7 1195.4 175.6 1198.4 175.7 1201.4 175.6 1204.4 175.7 1207.4 175.6 1210.4 175.7 1213.4 175.6 1216.4 175.6 1219.4 175.7 1222.4 175.4 1225.4 175.6 1228.4 175.7 1231.4 175.7 1234.4 175.7 1237.4 175.6 1240.4 175.7 1243.4 175.6 1246.4 175.7 1249.4 175.6 1252.4 175.7 1255.4 175.7 1258.4 175.7 1261.4 175.7 1264.4 175.6 1267.4 175.5 1270.4 175.7 1273.4 175.6 1276.4 175.7 1279.4 175.7 1282.4 175.7 1285.4 175.5 1288.4 175.4 1291.4 175.7 1294.4 175.6 1297.4 175.7 1300.4 175.6 1303.4 175.7 1306.4 175.6 1309.4 175.6 1312.4 175.7 1315.4 175.7 1318.4 175.4 1321.4 175.6 1324.4 175.7 1327.4 175.6 1330.4 175.3 1333.4 175.7 1336.4 175.6 1339.4 175.2 1342.4 175.7 1345.4 175.7 1348.4 175.7 1351.4 175.7 1354.4 175.7 1357.4 175.7 1360.4 175.7 1363.4 175.7 1366.4 175.7 1369.4 175.2 1372.4 175.6 1375.4 175.7 1378.4 175.4 1381.4 175.7 1384.4 175.7 1387.4 175.7 1390.4 175.6 1393.4 175.7 1396.4 175.6 1399.4 175.7 1402.4 175.7 1405.4 175.6 1408.4 175.6 1411.4 175.7 1414.4 175.7 1417.4 175.4 1420.4 175.6 1423.4 175.7 1426.4 175.7 1429.4 175.6 1432.4 175.7 1435.4 175.4 1438.4 175.6 1441.4 175.7 1444.4 175.7 1447.4 175.7 1450.4 175.7 1453.4 175.7 1456.4 175.5 1459.4 175.6 1462.4 175.7 1465.4 175.7 1468.4 175.7 1471.4 175.7 1474.4 175.6 1477.4 175.7 1480.4 175.6 1483.4 175.7 1486.4 175.7 1489.4 175.2 1492.4 175.6 1495.4 175.7 1498.4 175.7 1501.4 175.6 1504.4 175.5 1507.4 175.7 1510.4 175.6 1513.4 175.7 1516.4 175.3 1519.4 175.7 1522.4 175.7 1525.4 175.7 1528.4 175.7 1531.4 175.7 1534.4 175.6 1537.4 175.6 1540.4 175.7 1543.4 175.7 1546.4 175.4 1549.4 175.6 1552.4 175.5 1555.4 175.7 1558.4 175.7 1561.4 175.7 1564.4 175.7 1567.4 175.6 1570.4 175.7 1573.4 175.2 1576.4 175.4 1579.4 175.7 1582.4 175.6 1585.4 175.7 1588.4 175.7 1591.4 175.7 1594.4 175.6 1597.4 175.6 1600.4 175.7 1603.4 175.6 1606.4 175.4 1609.4 175.6 1612.4 175.7 1615.4 175.6 1618.4 175.7 1621.4 175.7 1624.4 175.7 1627.4 175.7 1630.4 175.7 1633.4 175.7 1636.4 175.7 1639.4 175.7 1642.4 175.7 1645.4 175.7 1648.4 175.7 1651.4 175.7 1654.4 175.7 1657.4 175.7 1660.4 175.7 1663.4 175.7 1666.4 175.6 1669.4 175.7 1672.4 175.7 1675.4 175.6 1678.4 175.7 1681.4 175.6 1684.4 175.5 1687.4 175.7 1690.4 175.6 1693.4 175.2 1696.4 175.7 1699.4 175.7 1702.4 175.7 1705.4 175.5 1708.4 175.7 1711.4 175.6 1714.4 175.7 1717.4 175.7 1720.4 175.6 1723.4 175.6 1726.4 175.7 1729.4 175.6 1732.4 175.7 1735.4 175.7 1738.4 175.7 1741.4 175.6 1744.4 175.7 1747.4 175.4 1750.4 175.7 1753.4 175.7 1756.4 175.7 1759.4 175.7 1762.4 175.7 1765.4 175.6 1768.4 175.7 1771.4 175.6 1774.4 175.7 1777.4 175.6 1780.4 175.7 1783.4 175.6 1786.4 175.6 1789.4 175.6 1792.4 175.7 1795.4 175.7 1798.4 175.6 1801.4 175.6 1804.4 175.7 1807.4 175.6 1808.9 175.7 1808.9 189.6 1807.4 189.7 1804.4 189.6 1801.4 189.6 1798.4 189.6 1795.4 189.7 1792.4 189.6 1789.4 189.6 1786.4 189.7 1783.4 189.7 1780.4 189.7 1777.4 189.9 1774.4 189.6 1771.4 189.6 1768.4 189.6 1765.4 189.6 1762.4 189.6 1759.4 189.6 1756.4 189.6 1753.4 189.6 1750.4 189.6 1747.4 189.6 1744.4 189.6 1741.4 189.6 1738.4 189.6 1735.4 189.7 1732.4 189.6 1729.4 189.6 1726.4 189.6 1723.4 189.6 1720.4 189.6 1717.4 189.6 1714.4 189.6 1711.4 189.6 1708.4 189.6 1705.4 189.9 1702.4 189.6 1699.4 189.6 1696.4 189.6 1693.4 189.6 1690.4 189.6 1687.4 189.6 1684.4 189.6 1681.4 189.6 1678.4 189.6 1675.4 189.9 1672.4 189.6 1669.4 189.6 1666.4 189.6 1663.4 189.6 1660.4 189.7 1657.4 189.6 1654.4 189.6 1651.4 189.6 1648.4 189.6 1645.4 189.6 1642.4 189.6 1639.4 189.6 1636.4 190.0 1633.4 189.6 1630.4 189.9 1627.4 189.6 1624.4 189.6 1621.4 189.6 1618.4 189.6 1615.4 189.6 1612.4 189.7 1609.4 189.6 1606.4 189.6 1603.4 189.6 1600.4 189.6 1597.4 189.6 1594.4 189.6 1591.4 189.6 1588.4 189.6 1585.4 189.8 1582.4 189.6 1579.4 189.6 1576.4 189.6 1573.4 189.6 1570.4 189.6 1567.4 189.6 1564.4 189.6 1561.4 189.6 1558.4 189.6 1555.4 189.6 1552.4 189.6 1549.4 189.8 1546.4 189.6 1543.4 189.6 1540.4 189.6 1537.4 189.6 1534.4 189.5 1531.4 189.6 1528.4 189.6 1525.4 189.6 1522.4 189.5 1519.4 189.6 1516.4 189.6 1513.4 189.5 1510.4 189.6 1507.4 190.0 1504.4 189.9 1501.4 189.6 1498.4 189.6 1495.4 189.6 1492.4 189.6 1489.4 189.6 1486.4 189.6 1483.4 189.6 1480.4 189.6 1477.4 189.6 1474.4 189.6 1471.4 189.5 1468.4 189.6 1465.4 189.6 1462.4 189.6 1459.4 189.6 1456.4 189.5 1453.4 189.6 1450.4 189.6 1447.4 189.6 1444.4 189.6 1441.4 189.7 1438.4 189.6 1435.4 189.6 1432.4 189.6 1429.4 189.5 1426.4 189.5 1423.4 189.6 1420.4 189.5 1417.4 189.5 1414.4 189.6 1411.4 189.5 1408.4 189.6 1405.4 189.9 1402.4 189.5 1399.4 189.5 1396.4 189.5 1393.4 189.6 1390.4 189.5 1387.4 189.5 1384.4 189.6 1381.4 189.5 1378.4 189.6 1375.4 189.6 1372.4 189.7 1369.4 189.8 1366.4 189.5 1363.4 189.6 1360.4 189.6 1357.4 189.6 1354.4 189.5 1351.4 189.5 1348.4 189.6 1345.4 189.6 1342.4 189.9 1339.4 189.5 1336.4 189.5 1333.4 189.5 1330.4 189.6 1327.4 189.5 1324.4 189.9 1321.4 189.5 1318.4 189.6 1315.4 189.5 1312.4 189.5 1309.4 189.5 1306.4 189.5 1303.4 189.5 1300.4 189.5 1297.4 189.5 1294.4 189.5 1291.4 189.5 1288.4 189.6 1285.4 189.6 1282.4 189.5 1279.4 189.5 1276.4 189.6 1273.4 189.6 1270.4 189.5 1267.4 189.5 1264.4 189.5 1261.4 189.5 1258.4 189.5 1255.4 189.5 1252.4 189.5 1249.4 189.5 1246.4 189.7 1243.4 189.5 1240.4 189.5 1237.4 189.5 1234.4 189.5 1231.4 189.8 1228.4 189.5 1225.4 189.8 1222.4 189.5 1219.4 189.5 1216.4 189.5 1213.4 190.0 1210.4 189.5 1207.4 189.5 1204.4 189.5 1201.4 189.5 1198.4 189.5 1195.4 189.5 1192.4 189.5 1189.4 189.5 1186.4 189.5 1183.4 189.5 1180.4 189.5 1177.4 189.5 1174.4 189.5 1171.4 189.5 1168.4 189.5 1165.4 189.5 1162.4 189.5 1159.4 189.5 1156.4 189.5 1153.4 189.5 1150.4 189.5 1147.4 189.5 1144.4 189.5 1141.4 189.5 1138.4 189.5 1135.4 189.5 1132.4 189.5 1129.4 189.5 1126.4 189.5 1123.4 189.5 1120.4 189.5 1117.4 189.5 1114.4 189.5 1111.4 189.5 1108.4 189.5 1105.4 189.5 1102.4 189.5 1099.4 189.9 1096.4 189.5 1093.4 190.0 1090.4 189.7 1087.4 189.5 1084.4 189.5 1081.4 189.5 1078.4 189.5 1075.4 189.5 1072.4 189.5 1069.4 189.5 1066.4 189.7 1063.4 189.5 1060.4 189.5 1057.4 189.5 1054.4 189.5 1051.4 189.5 1048.4 189.5 1045.4 189.4 1042.4 189.6 1039.4 189.4 1036.4 189.5 1033.4 189.7 1030.4 189.5 1027.4 189.5 1024.4 189.4 1021.4 189.5 1018.4 189.5 1015.4 189.8 1012.4 189.5 1009.4 189.5 1006.4 189.5 1003.4 189.5 1000.4 189.5 997.4 189.4 994.4 189.5 991.4 189.5 988.4 189.4 985.4 189.6 982.4 189.9 979.4 189.9 976.4 189.4 973.4 189.5 970.4 189.6 967.4 189.5 964.4 189.4 961.4 189.4 958.4 189.5 955.4 189.5 952.4 189.4 949.4 189.4 946.4 189.5 943.4 189.5 940.4 189.5 937.4 189.5 934.4 189.4 931.4 189.5 928.4 189.5 925.4 189.5 922.4 189.5 919.4 189.4 916.4 189.4 913.4 189.5 910.4 189.8 907.4 189.4 904.4 189.4 901.4 189.5 898.4 189.4 895.4 189.4 892.4 189.4 889.4 189.6 886.4 189.5 883.4 189.4 880.4 189.5 877.4 189.5 874.4 189.5 871.4 189.4 868.4 189.4 865.4 189.4 862.4 189.5 859.4 189.5 856.4 189.4 853.4 189.4 850.4 189.4 847.4 189.4 844.4 189.7 841.4 189.4 838.4 189.4 835.4 189.4 832.4 189.4 829.4 189.4 826.4 189.5 823.4 189.4 820.4 189.4 817.4 189.4 814.4 189.6 811.4 189.4 808.4 189.4 805.4 189.4 802.4 189.4 799.4 189.4 796.4 189.9 793.4 189.5 790.4 189.4 787.4 189.4 784.4 189.9 781.4 189.4 778.4 189.4 775.4 189.4 772.4 189.4 769.4 189.4 766.4 189.4 763.4 189.4 760.4 189.4 757.4 189.4 754.4 189.4 751.4 189.4 748.4 189.5 745.4 189.4 742.4 189.4 739.4 189.4 736.4 189.4 733.4 189.4 730.4 189.4 727.4 189.4 724.4 189.4 721.4 189.4 718.4 189.4 715.4 189.5 712.4 189.4 709.4 189.4 706.4 189.4 703.4 189.4 700.4 189.4 697.4 189.4 694.4 189.4 691.4 189.4 688.4 189.4 685.4 189.4 682.4 189.4 679.4 189.4 676.4 189.4 673.4 189.4 670.4 189.4 667.4 189.4 664.4 189.8 661.4 189.4 658.4 189.4 655.4 189.4 652.4 189.4 649.4 189.4 646.4 189.8 643.4 189.4 640.4 189.4 637.4 189.4 634.4 189.4 631.4 189.8 628.4 189.4 625.4 189.4 622.4 189.4 619.4 189.4 616.4 189.4 613.4 189.4 610.4 189.4 607.4 189.6 604.4 189.4 601.4 189.6 598.4 189.4 595.4 189.8 592.4 189.4 589.4 189.4 586.4 189.7 583.4 189.4 580.4 189.4 577.4 189.4 574.4 189.7 571.4 189.4 568.4 189.4 565.4 189.4 562.4 189.4 559.4 189.4 556.4 189.4 553.4 189.4 550.4 189.7 547.4 189.4 544.4 189.4 541.4 189.4 538.4 189.4 535.4 189.4 532.4 189.7 529.4 189.4 526.4 189.4 523.4 189.8 520.4 189.4 517.4 189.4 514.4 189.3 511.4 189.4 508.4 189.7 505.4 189.7 502.4 189.4 499.4 189.3 496.4 189.3 493.4 189.3 490.4 189.3 487.4 189.9 484.4 189.4 481.4 189.4 478.4 189.3 475.4 189.4 472.4 189.4 469.4 189.6 466.4 189.4 463.4 189.4 460.4 189.4 457.4 189.4 454.4 189.3 451.4 189.3 448.4 189.4 445.4 189.4 442.4 189.4 439.4 189.4 436.4 189.3 433.4 189.4 433.1 189.4 432.6 189.3 432.1 189.7 431.6 190.0 431.1 189.3 430.6 189.4 430.1 189.4 429.6 189.3 429.1 189.4 428.6 189.3 428.1 189.4 427.6 190.1 427.1 189.3 426.6 189.4 426.1 189.4 425.6 189.4 425.1 189.3 424.6 189.4 424.1 189.4 423.6 190.0 423.1 189.4 422.6 189.4 422.1 189.4 421.6 189.3 421.1 189.4 420.6 190.1 420.1 189.4 419.6 189.4 419.1 189.3 418.6 189.3 418.1 189.4 417.6 189.3 417.1 189.4 416.6 189.4 416.1 189.3 415.6 189.4 415.1 189.4 414.6 190.1 414.1 189.4 413.6 189.4 413.1 189.3 412.6 190.0 412.1 189.4 411.6 189.3 411.1 189.4 410.6 189.3 410.1 189.4 409.6 189.3 409.1 189.4 408.6 189.4 408.1 189.3 407.6 189.8 407.1 189.4 406.6 189.4 406.1 189.3 405.6 189.4 405.1 189.3 404.6 189.3 404.1 189.3 403.6 190.0 403.1 189.4 402.6 189.4 402.1 189.6 401.6 189.3 401.1 189.4 400.6 189.3 400.1 189.3 399.6 189.4 399.1 189.3 398.6 189.3 398.1 189.3 397.6 189.2 397.1 189.2 396.6 189.3 396.1 189.2 395.6 189.2 395.1 189.1 394.6 189.1 394.1 189.1 393.6 189.2 393.1 189.1 392.6 189.2 392.1 189.1 391.6 189.1 391.1 189.1 390.6 189.1 390.1 189.1 389.6 189.4 389.1 189.1 388.6 189.8 388.1 189.1 387.6 189.0 387.1 189.0 386.6 188.9 386.1 188.9 385.6 188.9 385.1 189.0 384.6 189.0 384.1 188.9 383.6 188.9 383.1 188.9 382.6 188.9 382.1 188.9 381.6 189.1 381.1 188.8 380.6 188.8 380.1 188.9 379.6 188.8 379.1 188.8 378.6 188.8 378.1 189.1 377.6 188.8 377.1 188.7 376.6 188.6 376.1 189.8 375.6 188.7 375.1 188.6 374.6 188.6 374.1 188.6 373.6 188.7 373.1 188.6 372.6 188.7 372.1 189.4 371.6 189.4 371.1 188.7 370.6 188.6 370.1 188.5 369.6 188.7 369.1 189.6 368.6 188.6 368.1 188.5 367.6 188.5 367.1 188.5 366.6 188.4 366.1 189.6 365.6 188.3 365.1 188.2 364.6 188.3 364.1 188.2 363.6 188.2 363.1 188.2 362.6 188.2 362.1 188.2 361.6 188.1 361.1 188.1 360.6 188.2 360.1 188.2 359.6 188.1 359.1 188.0 358.6 188.0 358.1 188.1 357.6 188.0 357.1 187.9 356.6 187.9 356.1 187.9 355.6 187.9 355.1 187.9 354.6 187.8 354.1 187.8 353.6 187.9 353.1 189.1 352.6 187.8 352.1 187.8 351.6 187.7 351.1 187.7 350.6 187.7 350.1 187.9 349.6 187.7 349.1 188.7 348.6 188.6 348.1 188.3 347.6 187.8 347.1 187.9 346.6 188.1 346.1 188.1 345.6 188.3 345.1 188.4 344.6 188.4 344.1 188.4 343.6 188.7 343.1 188.7 342.6 188.8 342.1 189.0 341.6 189.0 341.1 189.2 340.6 189.1 340.1 189.4 339.6 190.8 339.1 189.6 338.6 189.7 338.1 190.1 337.6 189.8 337.1 189.9 336.6 190.0 336.1 190.1 335.6 190.3 335.1 190.3 334.6 190.4 334.1 190.4 333.6 190.7 333.1 190.7 332.6 190.8 332.1 190.9 331.6 190.9 331.1 191.0 330.6 191.2 330.1 191.1 329.6 191.4 329.1 191.4 328.6 191.4 328.1 191.7 327.6 191.7 327.1 193.3 326.6 191.9 326.1 192.0 325.6 192.1 325.1 192.1 324.6 192.2 324.1 192.4 323.6 192.4 323.1 193.7 322.6 193.6 322.1 192.7 321.6 192.8 321.1 192.8 320.6 193.2 320.1 193.5 319.6 194.3 319.1 193.4 318.6 194.6 318.1 193.5 317.6 193.8 317.1 193.8 316.6 194.0 316.1 193.8 315.6 194.1 315.1 194.3 314.6 194.4 314.1 194.4 313.6 194.6 313.1 194.5 312.6 194.7 312.1 195.9 311.6 194.8 311.1 195.2 310.6 197.2 310.1 195.1 309.6 195.4 309.1 195.5 308.6 195.6 308.1 195.6 307.6 195.8 307.1 197.7 306.6 195.9 306.1 196.2 305.6 197.4 305.1 196.7 304.6 196.5 304.1 196.5 303.6 196.7 303.1 196.7 302.6 196.8 302.1 197.0 301.6 197.2 301.1 197.3 300.6 197.5 300.1 197.3 299.6 197.6 299.1 199.0 298.6 197.8 298.1 197.9 297.6 197.9 297.1 197.8 296.6 198.0 296.1 198.2 295.6 200.6 295.1 198.6 294.6 198.6 294.1 198.8 293.6 198.9 293.1 199.0 292.6 199.0 292.1 200.9 291.6 199.3 291.1 199.2 290.6 199.6 290.1 199.5 289.6 199.6 289.1 200.0 288.6 201.1 288.1 201.5 287.6 200.2 287.1 200.4 286.6 200.4 286.1 200.8 285.6 201.0 285.1 200.8 284.6 201.0 284.1 201.1 283.6 201.3 283.1 201.4 282.6 201.7 282.1 201.8 281.6 204.9 281.1 201.9 280.6 202.4 280.1 202.6 279.6 202.3 279.1 202.8 278.6 205.7 278.1 202.7 277.6 203.3 277.1 203.2 276.6 203.3 276.1 203.8 275.6 203.6 275.1 203.6 274.6 203.8 274.1 206.8 273.6 207.1 273.1 204.3 272.6 204.6 272.1 204.6 271.6 204.9 271.1 205.2 270.6 204.9 270.1 208.0 269.6 205.7 269.1 205.8 268.6 205.7 268.1 205.9 267.6 206.2 267.1 206.3 266.6 206.2 266.1 206.6 265.6 206.8 265.1 206.7 264.6 207.0 264.1 207.3 263.6 207.1 263.1 207.5 262.6 207.4 262.1 207.7 261.6 208.0 261.1 208.0 260.6 208.7 260.1 208.4 259.6 208.8 259.1 208.8 258.6 209.1 258.1 209.6 257.6 209.9 257.1 210.1 256.6 209.7Z" fill="#0000ff" stroke="none"/>
</g>
<path d="M245.2 180.6H1803" stroke="#000" stroke-width="4.2" stroke-dasharray="7 6.013" fill="none"/>
<path d="M535.7 329H554V977" stroke-width="4.4" fill="none" stroke="#000" stroke-linejoin="miter" stroke-linecap="butt"/>
<path d="M535.7 960H1499.6V977" stroke-width="4.4" fill="none" stroke="#000" stroke-linejoin="miter" stroke-linecap="butt"/>
<path d="M535.7 486.7H554M535.7 644.4H554M535.7 802.2H554M869.2 960V977M1184.4 960V977" stroke-width="4.4" fill="none" stroke="#000" stroke-linejoin="miter" stroke-linecap="butt"/>
<g clip-path="url(#ic)" fill="none" stroke-width="2.1" stroke-linejoin="round">
<path d="M632.8 1917.5L633.0 1911.3 633.1 1905.1 633.3 1898.9 633.4 1892.7 633.6 1886.5 633.7 1880.3 633.9 1874.1 634.1 1867.9 634.2 1861.7 634.4 1855.5 634.5 1849.3 634.7 1843.1 634.8 1836.9 635.0 1830.7 635.2 1824.5 635.3 1818.3 635.5 1812.1 635.6 1805.9 635.8 1799.7 636.0 1793.5 636.1 1787.3 636.3 1781.2 636.4 1775.0 636.6 1768.8 636.7 1762.6 636.9 1756.4 637.1 1750.2 637.2 1744.0 637.4 1737.8 637.5 1731.6 637.7 1725.4 637.8 1719.2 638.0 1713.0 638.2 1706.8 638.3 1700.6 638.5 1694.4 638.6 1688.2 638.8 1682.0 638.9 1675.8 639.1 1669.6 639.3 1667.4 639.4 1665.2 639.6 1663.0 639.7 1660.9 639.9 1658.7 640.0 1656.5 640.2 1654.3 640.4 1652.1 640.5 1649.9 640.7 1647.7 640.8 1645.5 641.0 1643.3 641.2 1641.1 641.3 1639.0 641.5 1636.8 641.6 1634.6 641.8 1632.4 641.9 1630.2 642.1 1628.0 642.3 1625.8 642.4 1623.6 642.6 1621.4 642.7 1619.2 642.9 1617.0 643.0 1614.9 643.2 1612.7 643.4 1610.5 643.5 1608.3 643.7 1606.1 643.8 1603.9 644.0 1601.7 644.1 1599.5 644.3 1597.3 644.5 1595.1 644.6 1593.0 644.8 1590.8 644.9 1588.6 645.1 1586.4 645.3 1584.2 645.4 1582.0 645.6 1579.8 645.7 1577.6 645.9 1575.4 646.0 1573.2 646.2 1571.0 646.4 1568.9 646.5 1566.7 646.7 1564.5 646.8 1562.3 647.0 1560.1 647.1 1557.9 647.3 1555.7 647.5 1553.5 647.6 1551.3 647.8 1549.1 647.9 1546.9 648.1 1544.8 648.2 1542.6 648.4 1540.4 648.6 1538.2 648.7 1536.0 648.9 1533.8 649.0 1531.6 649.2 1529.4 649.3 1527.2 649.5 1525.0 649.7 1522.9 649.8 1520.7 650.0 1518.5 650.1 1516.3 650.3 1514.1 650.5 1511.9 650.6 1509.7 650.8 1507.5 650.9 1505.3 651.1 1503.1 651.2 1500.9 651.4 1498.8 651.6 1496.6 651.7 1494.4 651.9 1492.2 652.0 1490.0 652.2 1487.8 652.3 1485.6 652.5 1483.4 652.7 1481.2 652.8 1479.0 653.0 1476.9 653.1 1474.7 653.3 1472.5 653.4 1470.3 653.6 1468.1 653.8 1465.9 653.9 1463.7 654.1 1461.5 654.2 1459.3 654.4 1457.1 654.5 1454.9 654.7 1452.8 654.9 1450.6 655.0 1448.4 655.2 1446.2 655.3 1444.0 655.5 1441.8 655.7 1439.6 655.8 1437.4 656.0 1435.2 656.1 1433.0 656.3 1430.8 656.4 1428.7 656.6 1426.5 656.8 1424.3 656.9 1422.1 657.1 1419.9 657.2 1417.7 657.4 1415.5 657.5 1413.3 657.7 1411.1 657.9 1408.9 658.0 1406.8 658.2 1404.6 658.3 1402.4 658.5 1400.2 658.6 1398.0 658.8 1395.8 659.0 1393.6 659.1 1391.4 659.3 1389.2 659.4 1387.0 659.6 1384.8 659.7 1382.7 659.9 1380.5 660.1 1378.3 660.2 1376.1 660.4 1373.9 660.5 1371.7 660.7 1369.5 660.9 1367.3 661.0 1365.1 661.2 1362.9 661.3 1360.8 661.5 1358.6 661.6 1356.4 661.8 1354.2 662.0 1352.0 662.1 1349.8 662.3 1347.6 662.4 1345.4 662.6 1343.2 662.7 1341.0 662.9 1338.8 663.1 1336.7 663.2 1334.5 663.4 1332.3 663.5 1330.1 663.7 1327.9 663.8 1325.7 664.0 1323.5 664.2 1321.3 664.3 1319.1 664.5 1316.9 664.6 1314.8 664.8 1312.6 665.0 1310.4 665.1 1308.2 665.3 1306.0 665.4 1303.8 665.6 1301.6 665.7 1299.4 665.9 1297.2 666.1 1295.0 666.2 1292.8 666.4 1290.7 666.5 1288.5 666.7 1286.3 666.8 1284.1 667.0 1281.9 667.2 1279.7 667.3 1277.5 667.5 1275.3 667.6 1273.5 667.8 1271.7 667.9 1269.8 668.1 1268.0 668.3 1266.2 668.4 1264.3 668.6 1262.5 668.7 1260.7 668.9 1258.8 669.0 1257.0 669.2 1255.2 669.4 1253.3 669.5 1251.5 669.7 1249.7 669.8 1247.8 670.0 1246.0 670.2 1244.2 670.3 1242.3 670.5 1240.5 670.6 1238.7 670.8 1236.9 670.9 1235.0 671.1 1233.2 671.3 1231.4 671.4 1229.5 671.6 1227.7 671.7 1225.9 671.9 1224.0 672.0 1222.2 672.2 1220.4 672.4 1218.5 672.5 1216.7 672.7 1214.9 672.8 1213.0 673.0 1211.2 673.1 1209.4 673.3 1207.5 673.5 1205.7 673.6 1203.9 673.8 1202.0 673.9 1200.2 674.1 1198.4 674.2 1196.6 674.4 1194.7 674.6 1192.9 674.7 1191.1 674.9 1189.2 675.0 1187.4 675.2 1185.6 675.4 1183.7 675.5 1181.9 675.7 1180.1 675.8 1178.2 676.0 1176.4 676.1 1174.6 676.3 1172.7 676.5 1170.9 676.6 1169.1 676.8 1167.2 676.9 1165.4 677.1 1163.6 677.2 1161.7 677.4 1159.9 677.6 1158.1 677.7 1156.3 677.9 1154.4 678.0 1152.6 678.2 1150.8 678.3 1148.9 678.5 1147.1 678.7 1145.3 678.8 1143.4 679.0 1141.6 679.1 1139.8 679.3 1137.9 679.4 1136.1 679.6 1134.3 679.8 1132.4 679.9 1130.6 680.1 1128.8 680.2 1126.9 680.4 1125.1 680.6 1123.3 680.7 1121.4 680.9 1119.6 681.0 1117.8 681.2 1116.0 681.3 1114.1 681.5 1112.3 681.7 1110.5 681.8 1108.6 682.0 1106.8 682.1 1105.0 682.3 1103.1 682.4 1101.3 682.6 1099.5 682.8 1097.6 682.9 1095.8 683.1 1094.0 683.2 1092.1 683.4 1090.3 683.5 1088.5 683.7 1086.6 683.9 1084.8 684.0 1083.0 684.2 1081.1 684.3 1079.3 684.5 1077.5 684.7 1075.7 684.8 1073.8 685.0 1072.0 685.1 1070.2 685.3 1068.3 685.4 1066.5 685.6 1064.7 685.8 1062.8 685.9 1061.0 686.1 1059.2 686.2 1057.3 686.4 1055.5 686.5 1053.7 686.7 1051.8 686.9 1050.0 687.0 1048.2 687.2 1046.3 687.3 1044.5 687.5 1042.7 687.6 1040.8 687.8 1039.0 688.0 1037.2 688.1 1035.4 688.3 1033.5 688.4 1031.7 688.6 1029.9 688.7 1028.0 688.9 1026.2 689.1 1024.4 689.2 1022.5 689.4 1020.7 689.5 1018.9 689.7 1017.0 689.9 1015.2 690.0 1013.4 690.2 1011.5 690.3 1009.7 690.5 1007.9 690.6 1006.0 690.8 1004.2 691.0 1002.4 691.1 1000.5 691.3 998.7 691.4 996.9 691.6 995.1 691.7 993.2 691.9 991.4 692.1 989.6 692.2 987.7 692.4 985.9 692.5 984.1 692.7 982.2 692.8 980.4 693.0 978.6 693.2 976.7 693.3 974.9 693.5 973.1 693.6 971.2 693.8 969.4 693.9 967.6 694.1 965.7 694.3 963.9 694.4 962.1 694.6 960.2 694.7 956.6 694.9 952.4 695.1 948.3 695.2 944.1 695.4 940.0 695.5 935.8 695.7 931.7 695.8 927.5 696.0 923.4 696.2 919.3 696.3 915.1 696.5 911.0 696.6 906.8 696.8 902.7 696.9 898.5 697.1 894.4 697.3 890.2 697.4 886.1 697.6 881.9 697.7 877.8 697.9 873.6 698.0 869.5 698.2 865.4 698.4 861.2 698.5 857.1 698.7 852.9 698.8 848.8 699.0 844.6 699.1 840.5 699.3 836.3 699.5 832.2 699.6 828.0 699.8 823.9 699.9 819.8 700.1 815.6 700.3 811.5 700.4 807.3 700.6 803.2 700.7 799.0 700.9 794.9 701.0 790.7 701.2 786.6 701.4 782.4 701.5 778.3 701.7 774.1 701.8 770.0 702.0 765.9 702.1 761.7 702.3 757.6 702.5 753.4 702.6 749.3 702.8 745.1 702.9 741.0 703.1 736.8 703.2 732.7 703.4 728.5 703.6 724.4 703.7 720.2 703.9 716.1 704.0 712.0 704.2 707.8 704.4 703.7 704.5 699.6 704.7 695.5 704.8 691.4 705.0 687.3 705.1 683.3 705.3 679.2 705.5 675.1 705.6 671.0 705.8 667.0 705.9 662.9 706.1 658.8 706.2 654.7 706.4 650.7 706.6 646.6 706.7 642.5 706.9 638.4 707.0 634.4 707.2 630.3 707.3 626.2 707.5 622.1 707.7 618.1 707.8 614.0 708.0 609.9 708.1 605.9 708.3 603.1 708.4 601.3 708.6 599.5 708.8 597.7 708.9 595.9 709.1 594.1 709.2 592.3 709.4 590.4 709.6 588.6 709.7 586.8 709.9 585.0 710.0 583.2 710.2 581.4 710.3 579.6 710.5 577.7 710.7 575.9 710.8 574.1 711.0 572.3 711.1 570.5 711.3 568.7 711.4 566.9 711.6 565.1 711.8 563.2 711.9 561.4 712.1 559.6 712.2 557.8 712.4 556.0 712.5 553.9 712.7 550.7 712.9 547.6 713.0 544.4 713.2 541.2 713.3 538.1 713.5 534.9 713.6 531.7 713.8 528.6 714.0 525.4 714.1 522.2 714.3 519.1 714.4 515.9 714.6 512.7 714.8 512.2 714.9 511.6 715.1 511.1 715.2 510.5 715.4 509.9 715.5 509.4 715.7 508.8 715.9 508.2 716.0 507.7 716.2 507.1 716.3 506.5 716.5 506.0 716.6 505.4 716.8 504.9 717.0 504.3 717.1 503.7 717.3 503.2 717.4 502.6 717.6 502.0 717.7 501.5 717.9 500.9 718.1 500.4 718.2 499.8 718.4 499.2 718.5 498.7 718.7 498.1 718.8 497.5 719.0 497.0 719.2 496.4 719.3 495.8 719.5 495.3 719.6 494.7 719.8 494.2 720.0 493.6 720.1 493.0 720.3 492.5 720.4 491.9 720.6 491.3 720.7 490.8 720.9 490.2 721.1 490.1 721.3 490.8 721.6 491.6 721.9 493.9 722.2 492.9 722.5 493.5 722.8 495.2 723.1 497.2 723.3 495.9 723.6 498.0 723.9 499.9 724.2 500.3 724.5 515.7 724.8 506.5 725.1 505.5 725.4 507.6 725.6 506.1 725.9 507.5 726.2 510.5 726.5 508.7 726.8 511.1 727.1 505.3 727.4 506.6 727.6 513.1 727.9 513.1 728.2 516.1 728.5 532.9 728.8 512.9 729.1 510.0 729.4 529.3 729.7 524.2 729.9 510.3 730.2 508.3 730.5 554.7 730.8 527.6 731.1 530.2 731.4 511.8 731.7 518.7 731.9 521.1 732.2 526.6 732.5 515.1 732.8 524.3 733.1 510.8 733.4 522.9 733.7 515.3 734.0 517.8 734.2 521.0 734.5 524.6 734.8 509.6 735.1 513.2 735.4 530.3 735.7 510.6 736.0 533.1 736.2 519.3 736.5 518.6 736.8 524.0 737.1 531.8 737.4 531.5 737.7 518.2 738.0 530.9 738.2 525.4 738.5 524.2 738.8 531.0 739.1 534.5 739.4 536.3 739.7 530.3 740.0 520.0 740.3 529.0 740.5 530.7 740.8 518.1 741.1 523.5 741.4 530.3 741.7 536.4 742.0 538.2 742.3 538.0 742.5 546.2 742.8 544.1 743.1 552.4 743.4 548.5 743.7 567.9 744.0 567.4 744.3 550.0 744.6 553.0 744.8 570.7 745.1 574.1 745.4 559.9 745.7 571.1 746.0 570.3 746.3 562.4 746.6 569.4 746.8 574.1 747.1 566.1 747.4 589.5 747.7 582.7 748.0 556.5 748.3 574.5 748.6 569.3 748.9 588.5 749.1 568.4 749.4 593.9 749.7 581.5 750.0 584.9 750.3 595.8 750.6 586.2 750.9 615.1 751.1 587.9 751.4 595.6 751.7 602.0 752.0 609.7 752.3 610.4 752.6 610.8 752.9 611.1 753.1 604.4 753.4 616.6 753.7 611.9 754.0 621.0 754.3 593.3 754.6 606.1 754.9 630.5 755.2 606.9 755.4 622.9 755.7 611.9 756.0 611.5 756.3 635.8 756.6 603.1 756.9 602.1 757.2 617.4 757.4 635.6 757.7 622.1 758.0 634.9 758.3 634.0 758.6 616.4 758.9 626.3 759.2 628.5 759.5 622.6 759.7 621.1 760.0 634.4 760.3 617.5 760.6 636.1 760.9 625.3 761.2 633.3 761.5 674.6 761.7 635.0 762.0 625.6 762.3 627.0 762.6 633.7 762.9 625.1 763.2 644.5 763.5 631.1 763.8 644.8 764.0 655.7 764.3 647.3 764.6 629.0 764.9 636.4 765.2 634.8 765.5 642.5 765.8 641.6 766.0 645.3 766.3 637.5 766.6 635.5 766.9 637.2 767.2 637.9 767.5 639.3 767.8 637.3 768.0 633.2 768.3 645.0 768.6 635.2 768.9 631.0 769.2 649.9 769.5 645.8 769.8 643.1 770.1 648.7 770.3 644.7 770.6 646.0 770.9 629.5 771.2 639.8 771.5 630.8 771.8 644.0 772.1 643.1 772.3 644.6 772.6 645.5 772.9 624.1 773.2 635.2 773.5 643.8 773.8 661.2 774.1 649.3 774.4 639.1 774.6 644.4 774.9 649.2 775.2 641.0 775.5 645.3 775.8 653.3 776.1 646.4 776.4 642.5 776.6 642.7 776.9 649.9 777.2 653.2 777.5 649.5 777.8 644.7 778.1 647.1 778.4 640.9 778.7 652.2 778.9 650.0 779.2 651.1 779.5 646.8 779.8 658.1 780.1 640.2 780.4 651.9 780.7 639.2 780.9 638.8 781.2 660.0 781.5 647.8 781.8 645.3 782.1 649.8 782.4 645.1 782.7 705.7 782.9 642.0 783.2 647.2 783.5 650.8 783.8 667.8 784.1 642.8 784.4 659.5 784.7 637.8 785.0 640.5 785.2 634.0 785.5 659.2 785.8 644.6 786.1 637.9 786.4 645.6 786.7 645.0 787.0 645.7 787.2 633.9 787.5 642.3 787.8 655.4 788.1 657.2 788.4 637.8 788.7 645.4 789.0 646.2 789.3 633.7 789.5 639.8 789.8 698.4 790.1 634.7 790.4 646.4 790.7 645.1 791.0 656.5 791.3 646.0 791.5 622.7 791.8 655.0 792.1 652.7 792.4 635.1 792.7 648.2 793.0 635.2 793.3 629.3 793.6 644.5 793.8 646.1 794.1 633.5 794.4 637.2 794.7 630.0 795.0 642.8 795.3 637.8 795.6 646.1 795.8 649.8 796.1 649.1 796.4 648.7 796.7 629.2 797.0 634.5 797.3 640.7 797.6 642.5 797.9 624.7 798.1 632.4 798.4 658.4 798.7 655.1 799.0 643.5 799.3 656.6 799.6 646.6 799.9 649.4 800.1 685.8 800.4 656.7 800.7 644.0 801.0 640.4 801.3 641.0 801.6 651.5 801.9 652.1 802.1 644.3 802.4 661.0 802.7 638.7 803.0 645.7 803.3 653.8 803.6 641.8 803.9 644.8 804.2 651.6 804.4 655.8 804.7 652.0 805.0 639.5 805.3 638.6 805.6 651.2 805.9 647.4 806.2 637.1 806.4 659.6 806.7 653.0 807.0 706.1 807.3 646.6 807.6 661.8 807.9 646.0 808.2 660.4 808.5 642.3 808.7 649.6 809.0 652.6 809.3 690.6 809.6 648.2 809.9 640.2 810.2 641.2 810.5 649.8 810.7 645.2 811.0 637.2 811.3 657.7 811.6 641.2 811.9 639.5 812.2 629.2 812.5 659.4 812.8 639.0 813.0 628.0 813.3 641.4 813.6 643.6 813.9 646.2 814.2 656.0 814.5 632.8 814.8 652.1 815.0 656.1 815.3 636.0 815.6 633.8 815.9 634.8 816.2 634.7 816.5 648.1 816.8 641.2 817.0 643.1 817.3 646.8 817.6 637.3 817.9 647.9 818.2 641.0 818.5 628.6 818.8 640.2 819.1 640.5 819.3 633.2 819.6 648.4 819.9 636.4 820.2 629.9 820.5 634.1 820.8 644.2 821.1 631.9 821.3 641.4 821.6 632.0 821.9 645.4 822.2 646.2 822.5 625.9 822.8 639.0 823.1 672.8 823.4 647.1 823.6 641.1 823.9 626.1 824.2 633.3 824.5 637.2 824.8 651.2 825.1 630.7 825.4 633.7 825.6 628.1 825.9 640.2 826.2 632.8 826.5 641.4 826.8 648.0 827.1 651.4 827.4 631.4 827.7 639.6 827.9 637.6 828.2 649.2 828.5 624.2 828.8 641.2 829.1 650.4 829.4 646.9 829.7 641.3 829.9 629.3 830.2 633.2 830.5 632.7 830.8 641.6 831.1 629.9 831.4 636.4 831.7 628.1 831.9 642.0 832.2 640.7 832.5 642.5 832.8 640.7 833.1 642.2 833.4 631.8 833.7 639.1 834.0 647.5 834.2 639.2 834.5 640.9 834.8 648.6 835.1 634.5 835.4 634.6 835.7 635.9 836.0 624.6 836.2 647.4 836.5 630.9 836.8 633.7 837.1 643.2 837.4 625.9 837.7 644.7 838.0 656.6 838.3 631.2 838.5 638.3 838.8 640.8 839.1 628.8 839.4 648.4 839.7 639.5 840.0 625.8 840.3 633.1 840.5 644.5 840.8 629.7 841.1 636.5 841.4 639.0 841.7 632.8 842.0 633.0 842.3 641.7 842.6 640.1 842.8 631.1 843.1 630.4 843.4 622.7 843.7 636.4 844.0 634.9 844.3 642.0 844.6 621.1 844.8 634.1 845.1 671.4 845.4 626.1 845.7 630.3 846.0 641.5 846.3 638.0 846.6 626.8 846.8 632.9 847.1 639.0 847.4 636.8 847.7 626.8 848.0 624.2 848.3 635.8 848.6 626.0 848.9 626.4 849.1 642.0 849.4 634.9 849.7 631.1 850.0 631.7 850.3 635.3 850.6 637.7 850.9 635.3 851.1 632.0 851.4 632.8 851.7 620.2 852.0 629.8 852.3 626.8 852.6 627.6 852.9 634.3 853.2 625.3 853.4 635.8 853.7 623.3 854.0 626.0 854.3 634.5 854.6 624.1 854.9 633.4 855.2 623.7 855.4 637.2 855.7 627.6 856.0 618.9 856.3 632.8 856.6 643.1 856.9 634.1 857.2 624.2 857.5 628.5 857.7 639.6 858.0 678.4 858.3 631.0 858.6 642.4 858.9 630.6 859.2 628.4 859.5 630.7 859.7 630.8 860.0 617.5 860.3 676.1 860.6 631.5 860.9 618.9 861.2 626.3 861.5 637.9 861.7 624.3 862.0 646.3 862.3 631.4 862.6 635.3 862.9 637.8 863.2 622.6 863.5 627.2 863.8 627.9 864.0 608.1 864.3 621.5 864.6 671.1 864.9 639.8 865.2 638.6 865.5 629.8 865.8 675.0 866.0 621.5 866.3 633.2 866.6 629.1 866.9 621.4 867.2 636.2 867.5 625.2 867.8 617.0 868.1 626.6 868.3 622.0 868.6 622.3 868.9 619.3 869.2 619.2 869.5 604.1 869.8 625.0 870.1 624.1 870.3 617.3 870.6 670.9 870.9 611.4 871.2 640.5 871.5 617.1 871.8 608.6 872.1 620.5 872.4 616.6 872.6 618.7 872.9 600.8 873.2 614.5 873.5 610.5 873.8 671.9 874.1 621.5 874.4 625.7 874.6 625.0 874.9 627.5 875.2 621.8 875.5 629.7 875.8 616.9 876.1 622.3 876.4 618.2 876.7 628.5 876.9 620.2 877.2 604.7 877.5 616.4 877.8 618.6 878.1 616.6 878.4 613.4 878.7 612.6 878.9 626.6 879.2 625.5 879.5 620.1 879.8 610.8 880.1 615.0 880.4 624.9 880.7 616.8 880.9 616.9 881.2 623.6 881.5 625.0 881.8 633.8 882.1 630.7 882.4 626.9 882.7 606.6 883.0 617.6 883.2 610.9 883.5 616.5 883.8 619.5 884.1 606.2 884.4 618.7 884.7 611.4 885.0 615.4 885.2 622.2 885.5 620.9 885.8 612.6 886.1 620.0 886.4 607.6 886.7 619.7 887.0 612.2 887.3 616.7 887.5 617.9 887.8 613.7 888.1 619.6 888.4 622.3 888.7 622.2 889.0 616.0 889.3 616.3 889.5 608.9 889.8 615.3 890.1 611.7 890.4 611.2 890.7 619.2 891.0 585.5 891.3 622.4 891.6 632.0 891.8 640.7 892.1 674.9 892.4 610.0 892.7 621.4 893.0 651.8 893.3 607.5 893.6 607.5 893.8 623.6 894.1 614.2 894.4 606.7 894.7 621.9 895.0 621.6 895.3 613.8 895.6 609.5 895.8 615.7 896.1 611.9 896.4 611.9 896.7 610.8 897.0 610.7 897.3 620.3 897.6 627.5 897.9 616.5 898.1 618.6 898.4 628.0 898.7 602.0 899.0 617.4 899.3 605.0 899.6 617.6 899.9 609.5 900.1 609.2 900.4 609.0 900.7 612.9 901.0 613.6 901.3 591.3 901.6 591.1 901.9 601.7 902.2 617.6 902.4 613.4 902.7 621.2 903.0 599.9 903.3 606.4 903.6 614.1 903.9 621.3 904.2 620.5 904.4 616.3 904.7 616.8 905.0 616.1 905.3 615.2 905.6 622.7 905.9 612.4 906.2 614.5 906.5 609.3 906.7 624.3 907.0 608.7 907.3 606.5 907.6 611.8 907.9 620.7 908.2 620.8 908.5 615.4 908.7 612.3 909.0 611.0 909.3 614.3 909.6 627.2 909.9 617.0 910.2 615.0 910.5 618.8 910.7 611.8 911.0 606.5 911.3 623.6 911.6 611.0 911.9 621.0 912.2 621.6 912.5 616.8 912.8 600.7 913.0 610.3 913.3 616.3 913.6 606.0 913.9 614.1 914.2 611.4 914.5 622.7 914.8 622.5 915.0 626.2 915.3 608.3 915.6 625.8 915.9 604.9 916.2 625.9 916.5 653.9 916.8 614.3 917.1 665.7 917.3 631.3 917.6 620.3 917.9 604.4 918.2 605.8 918.5 626.4 918.8 616.3 919.1 618.3 919.3 608.0 919.6 613.8 919.9 623.2 920.2 599.4 920.5 610.3 920.8 622.2 921.1 606.9 921.4 609.4 921.6 606.2 921.9 624.0 922.2 613.8 922.5 620.0 922.8 615.9 923.1 616.0 923.4 611.1 923.6 621.6 923.9 606.0 924.2 616.8 924.5 610.3 924.8 613.9 925.1 610.7 925.4 607.1 925.6 615.3 925.9 605.7 926.2 615.4 926.5 609.0 926.8 612.7 927.1 616.8 927.4 628.5 927.7 617.6 927.9 616.2 928.2 614.7 928.5 601.3 928.8 618.2 929.1 606.0 929.4 590.5 929.7 617.1 929.9 606.8 930.2 604.4 930.5 609.5 930.8 608.4 931.1 604.4 931.4 591.1 931.7 614.6 932.0 605.4 932.2 607.7 932.5 593.2 932.8 597.5 933.1 594.3 933.4 604.7 933.7 606.0 934.0 608.6 934.2 611.7 934.5 614.9 934.8 606.3 935.1 603.3 935.4 606.7 935.7 620.8 936.0 605.2 936.3 588.5 936.5 609.8 936.8 617.2 937.1 599.5 937.4 616.7 937.7 608.2 938.0 607.0 938.3 613.1 938.5 616.0 938.8 606.8 939.1 617.5 939.4 605.9 939.7 605.0 940.0 617.0 940.3 603.0 940.5 617.8 940.8 606.4 941.1 613.5 941.4 616.9 941.7 611.5 942.0 606.3 942.3 602.0 942.6 602.5 942.8 667.4 943.1 607.5 943.4 626.2 943.7 600.1 944.0 606.0 944.3 606.9 944.6 607.5 944.8 619.5 945.1 602.6 945.4 603.5 945.7 605.0 946.0 596.4 946.3 604.9 946.6 607.6 946.9 594.9 947.1 604.9 947.4 639.0 947.7 619.2 948.0 606.1 948.3 605.7 948.6 610.6 948.9 598.9 949.1 614.6 949.4 602.9 949.7 601.7 950.0 594.5 950.3 602.0 950.6 603.9 950.9 594.1 951.2 591.2 951.4 599.6 951.7 607.7 952.0 597.5 952.3 609.6 952.6 591.1 952.9 598.7 953.2 607.2 953.4 586.2 953.7 610.6 954.0 591.9 954.3 602.0 954.6 603.0 954.9 610.5 955.2 613.3 955.5 597.0 955.7 605.9 956.0 590.6 956.3 598.6 956.6 595.6 956.9 583.8 957.2 610.6 957.5 652.0 957.7 601.3 958.0 593.1 958.3 599.5 958.6 602.3 958.9 604.4 959.2 600.2 959.5 609.4 959.7 594.0 960.0 619.9 960.3 595.3 960.6 595.5 960.9 599.0 961.2 602.1 961.5 592.8 961.8 594.3 962.0 594.1 962.3 603.3 962.6 597.0 962.9 601.2 963.2 604.2 963.5 592.5 963.8 610.7 964.0 602.6 964.3 610.3 964.6 614.5 964.9 591.3 965.2 595.4 965.5 620.0 965.8 609.1 966.1 600.3 966.3 594.7 966.6 614.5 966.9 594.4 967.2 596.3 967.5 585.5 967.8 605.8 968.1 584.7 968.3 597.6 968.6 595.1 968.9 591.2 969.2 580.0 969.5 628.8 969.8 582.8 970.1 595.9 970.4 590.8 970.6 589.2 970.9 605.6 971.2 593.6 971.5 593.6 971.8 590.7 972.1 582.7 972.4 589.7 972.6 592.5 972.9 593.8 973.2 594.0 973.5 588.7 973.8 596.1 974.1 601.2 974.4 604.7 974.6 587.0 974.9 601.6 975.2 602.4 975.5 607.1 975.8 586.2 976.1 584.3 976.4 592.0 976.7 597.4 976.9 591.2 977.2 591.3 977.5 594.6 977.8 593.4 978.1 608.0 978.4 594.5 978.7 598.9 978.9 597.4 979.2 596.8 979.5 606.6 979.8 594.4 980.1 591.8 980.4 612.9 980.7 608.3 981.0 586.2 981.2 608.3 981.5 591.9 981.8 590.9 982.1 583.7 982.4 600.0 982.7 603.5 983.0 603.3 983.2 603.6 983.5 610.5 983.8 606.5 984.1 602.3 984.4 601.7 984.7 592.8 985.0 592.9 985.3 598.0 985.5 611.8 985.8 594.1 986.1 600.5 986.4 612.3 986.7 602.3 987.0 604.2 987.3 598.3 987.5 595.7 987.8 586.1 988.1 603.3 988.4 597.1 988.7 606.0 989.0 602.4 989.3 608.0 989.5 598.5 989.8 593.8 990.1 600.3 990.4 587.3 990.7 598.0 991.0 591.0 991.3 599.5 991.6 597.4 991.8 584.3 992.1 603.9 992.4 591.7 992.7 608.8 993.0 598.3 993.3 589.6 993.6 579.9 993.8 589.8 994.1 594.4 994.4 597.9 994.7 598.3 995.0 595.2 995.3 595.0 995.6 586.2 995.9 602.0 996.1 602.3 996.4 587.6 996.7 590.8 997.0 598.8 997.3 597.1 997.6 591.6 997.9 597.7 998.1 600.9 998.4 594.7 998.7 590.3 999.0 602.7 999.3 599.0 999.6 591.5 999.9 609.0 1000.2 597.9 1000.4 589.2 1000.7 602.6 1001.0 591.5 1001.3 578.6 1001.6 591.4 1001.9 603.6 1002.2 579.7 1002.4 591.1 1002.7 589.4 1003.0 594.7 1003.3 603.5 1003.6 598.9 1003.9 599.9 1004.2 585.3 1004.4 589.8 1004.7 601.5 1005.0 597.6 1005.3 595.5 1005.6 590.6 1005.9 593.6 1006.2 609.1 1006.5 591.9 1006.7 609.7 1007.0 604.5 1007.3 612.4 1007.6 603.9 1007.9 595.6 1008.2 600.7 1008.5 593.0 1008.7 593.2 1009.0 602.1 1009.3 604.3 1009.6 590.3 1009.9 594.5 1010.2 591.8 1010.5 589.8 1010.8 600.9 1011.0 603.5 1011.3 596.5 1011.6 601.5 1011.9 602.3 1012.2 603.8 1012.5 597.8 1012.8 599.0 1013.0 593.2 1013.3 591.9 1013.6 586.9 1013.9 593.8 1014.2 594.4 1014.5 592.5 1014.8 594.9 1015.1 593.5 1015.3 600.6 1015.6 595.6 1015.9 606.4 1016.2 588.9 1016.5 595.7 1016.8 593.8 1017.1 607.9 1017.3 630.4 1017.6 602.5 1017.9 613.2 1018.2 590.7 1018.5 593.8 1018.8 598.3 1019.1 590.5 1019.3 611.9 1019.6 606.1 1019.9 590.3 1020.2 592.6 1020.5 598.8 1020.8 594.4 1021.1 596.5 1021.4 600.5 1021.6 600.7 1021.9 603.7 1022.2 596.5 1022.5 597.4 1022.8 630.7 1023.1 607.3 1023.4 595.3 1023.6 598.0 1023.9 599.9 1024.2 596.7 1024.5 582.9 1024.8 580.8 1025.1 609.8 1025.4 586.5 1025.7 605.9 1025.9 602.3 1026.2 601.1 1026.5 604.0 1026.8 585.9 1027.1 602.0 1027.4 607.8 1027.7 590.3 1027.9 592.0 1028.2 598.8 1028.5 598.5 1028.8 597.5 1029.1 598.6 1029.4 603.5 1029.7 597.8 1030.0 595.8 1030.2 595.8 1030.5 605.3 1030.8 591.8 1031.1 607.3 1031.4 602.4 1031.7 606.2 1032.0 611.4 1032.2 596.2 1032.5 603.3 1032.8 587.7 1033.1 599.0 1033.4 590.2 1033.7 603.0 1034.0 600.9 1034.3 592.2 1034.5 599.2 1034.8 602.0 1035.1 594.4 1035.4 585.7 1035.7 590.7 1036.0 589.4 1036.3 574.8 1036.5 586.4 1036.8 595.1 1037.1 589.6 1037.4 599.2 1037.7 592.1 1038.0 578.1 1038.3 584.8 1038.5 596.6 1038.8 592.7 1039.1 598.0 1039.4 569.6 1039.7 589.4 1040.0 594.8 1040.3 573.8 1040.6 637.5 1040.8 592.3 1041.1 591.5 1041.4 593.1 1041.7 586.0 1042.0 585.9 1042.3 581.4 1042.6 591.2 1042.8 588.9 1043.1 581.9 1043.4 575.6 1043.7 570.2 1044.0 576.6 1044.3 594.7 1044.6 588.3 1044.9 581.0 1045.1 626.2 1045.4 596.1 1045.7 598.7 1046.0 587.2 1046.3 592.2 1046.6 590.1 1046.9 596.5 1047.1 584.6 1047.4 593.3 1047.7 596.6 1048.0 595.8 1048.3 597.1 1048.6 583.5 1048.9 581.8 1049.2 592.5 1049.4 593.0 1049.7 571.6 1050.0 580.9 1050.3 576.0 1050.6 582.7 1050.9 585.7 1051.2 584.8 1051.4 574.8 1051.7 570.1 1052.0 583.4 1052.3 585.3 1052.6 579.0 1052.9 580.7 1053.2 587.4 1053.4 591.4 1053.7 592.1 1054.0 575.4 1054.3 590.4 1054.6 590.2 1054.9 590.8 1055.2 597.7 1055.5 585.3 1055.7 640.9 1056.0 586.7 1056.3 580.0 1056.6 592.5 1056.9 590.9 1057.2 597.4 1057.5 586.1 1057.7 590.2 1058.0 586.0 1058.3 582.6 1058.6 605.0 1058.9 583.9 1059.2 605.7 1059.5 604.6 1059.8 612.1 1060.0 586.2 1060.3 602.1 1060.6 594.2 1060.9 603.8 1061.2 586.7 1061.5 608.9 1061.8 599.9 1062.0 608.3 1062.3 601.9 1062.6 589.5 1062.9 597.7 1063.2 597.3 1063.5 593.7 1063.8 603.0 1064.1 640.2 1064.3 607.0 1064.6 601.9 1064.9 588.8 1065.2 597.2 1065.5 600.4 1065.8 595.6 1066.1 601.1 1066.3 588.6 1066.6 588.7 1066.9 599.9 1067.2 580.7 1067.5 602.1 1067.8 589.1 1068.1 594.2 1068.3 585.2 1068.6 584.6 1068.9 613.1 1069.2 588.4 1069.5 600.7 1069.8 601.2 1070.1 589.9 1070.4 587.6 1070.6 593.8 1070.9 585.2 1071.2 581.8 1071.5 603.0 1071.8 627.3 1072.1 576.1 1072.4 591.2 1072.6 591.0 1072.9 590.9 1073.2 587.6 1073.5 610.2 1073.8 588.5 1074.1 595.0 1074.4 587.8 1074.7 597.3 1074.9 593.6 1075.2 590.7 1075.5 586.0 1075.8 594.7 1076.1 590.9 1076.4 601.3 1076.7 594.3 1076.9 591.0 1077.2 579.5 1077.5 600.1 1077.8 592.6 1078.1 597.3 1078.4 588.9 1078.7 599.2 1079.0 586.7 1079.2 629.6 1079.5 579.9 1079.8 591.7 1080.1 593.7 1080.4 591.0 1080.7 589.4 1081.0 588.4 1081.2 583.0 1081.5 590.2 1081.8 595.0 1082.1 600.4 1082.4 593.5 1082.7 596.8 1083.0 582.2 1083.2 597.4 1083.5 592.3 1083.8 586.5 1084.1 577.1 1084.4 599.5 1084.7 588.6 1085.0 580.3 1085.3 599.1 1085.5 581.4 1085.8 602.7 1086.1 587.0 1086.4 593.1 1086.7 589.0 1087.0 582.9 1087.3 573.8 1087.5 591.1 1087.8 572.7 1088.1 572.0 1088.4 595.3 1088.7 583.8 1089.0 579.7 1089.3 572.8 1089.6 578.5 1089.8 586.9 1090.1 587.5 1090.4 578.6 1090.7 589.8 1091.0 582.3 1091.3 584.1 1091.6 590.9 1091.8 567.8 1092.1 584.1 1092.4 569.6 1092.7 577.9 1093.0 578.5 1093.3 591.4 1093.6 591.2 1093.9 586.9 1094.1 588.8 1094.4 597.3 1094.7 571.8 1095.0 571.2 1095.3 584.6 1095.6 588.0 1095.9 591.5 1096.1 597.4 1096.4 586.6 1096.7 590.1 1097.0 585.4 1097.3 582.5 1097.6 573.5 1097.9 589.6 1098.1 587.4 1098.4 590.7 1098.7 586.0 1099.0 595.7 1099.3 575.7 1099.6 583.4 1099.9 596.6 1100.2 586.4 1100.4 577.1 1100.7 580.6 1101.0 589.6 1101.3 579.8 1101.6 581.6 1101.9 588.2 1102.2 580.7 1102.4 591.6 1102.7 585.4 1103.0 591.6 1103.3 574.9 1103.6 574.0 1103.9 584.8 1104.2 601.5 1104.5 570.2 1104.7 592.7 1105.0 581.4 1105.3 576.8 1105.6 576.5 1105.9 584.4 1106.2 595.7 1106.5 586.3 1106.7 573.4 1107.0 585.7 1107.3 579.8 1107.6 582.7 1107.9 574.7 1108.2 586.5 1108.5 579.2 1108.8 580.0 1109.0 589.8 1109.3 579.6 1109.6 574.8 1109.9 579.3 1110.2 587.4 1110.5 586.9 1110.8 592.3 1111.0 590.8 1111.3 597.9 1111.6 579.8 1111.9 582.2 1112.2 582.6 1112.5 563.6 1112.8 581.8 1113.1 576.4 1113.3 638.0 1113.6 584.5 1113.9 586.5 1114.2 580.4 1114.5 589.5 1114.8 586.3 1115.1 586.1 1115.3 578.9 1115.6 590.0 1115.9 578.9 1116.2 576.2 1116.5 578.8 1116.8 570.5 1117.1 578.4 1117.3 577.2 1117.6 576.7 1117.9 571.4 1118.2 574.5 1118.5 577.4 1118.8 572.3 1119.1 583.2 1119.4 571.1 1119.6 586.1 1119.9 567.2 1120.2 581.6 1120.5 578.9 1120.8 579.1 1121.1 573.6 1121.4 591.8 1121.6 581.2 1121.9 573.3 1122.2 575.8 1122.5 587.4 1122.8 569.8 1123.1 565.4 1123.4 586.2 1123.7 583.3 1123.9 589.6 1124.2 585.6 1124.5 582.9 1124.8 565.9 1125.1 591.9 1125.4 568.5 1125.7 583.0 1125.9 585.9 1126.2 587.0 1126.5 579.2 1126.8 586.9 1127.1 585.9 1127.4 585.9 1127.7 584.5 1128.0 583.0 1128.2 587.3 1128.5 591.2 1128.8 580.6 1129.1 584.4 1129.4 585.2 1129.7 600.0 1130.0 585.9 1130.2 591.0 1130.5 592.9 1130.8 588.5 1131.1 591.7 1131.4 599.0 1131.7 593.2 1132.0 577.1 1132.2 584.9 1132.5 589.3 1132.8 582.8 1133.1 596.8 1133.4 570.8 1133.7 572.9 1134.0 581.5 1134.3 577.5 1134.5 584.5 1134.8 582.6 1135.1 580.6 1135.4 582.2 1135.7 573.9 1136.0 586.1 1136.3 573.2 1136.5 584.2 1136.8 575.8 1137.1 567.3 1137.4 563.5 1137.7 587.4 1138.0 571.8 1138.3 590.8 1138.6 617.0 1138.8 566.6 1139.1 583.0 1139.4 577.1 1139.7 560.6 1140.0 572.1 1140.3 571.0 1140.6 579.4 1140.8 567.9 1141.1 572.1 1141.4 578.5 1141.7 567.0 1142.0 585.4 1142.3 586.6 1142.6 557.2 1142.9 591.4 1143.1 576.1 1143.4 570.2 1143.7 567.5 1144.0 590.2 1144.3 584.1 1144.6 619.5 1144.9 573.5 1145.1 578.1 1145.4 593.8 1145.7 582.3 1146.0 577.0 1146.3 586.4 1146.6 578.1 1146.9 580.9 1147.1 583.8 1147.4 588.8 1147.7 583.1 1148.0 579.2 1148.3 583.6 1148.6 577.0 1148.9 578.3 1149.2 590.6 1149.4 581.8 1149.7 574.5 1150.0 577.9 1150.3 584.8 1150.6 592.7 1150.9 582.0 1151.2 581.5 1151.4 614.2 1151.7 584.0 1152.0 583.4 1152.3 581.1 1152.6 573.7 1152.9 576.7 1153.2 549.8 1153.5 587.7 1153.7 576.3 1154.0 582.2 1154.3 572.7 1154.6 587.3 1154.9 578.1 1155.2 578.4 1155.5 589.7 1155.7 582.9 1156.0 584.2 1156.3 585.8 1156.6 587.1 1156.9 592.0 1157.2 578.3 1157.5 580.2 1157.8 579.3 1158.0 580.8 1158.3 577.1 1158.6 583.9 1158.9 585.5 1159.2 575.3 1159.5 575.2 1159.8 573.5 1160.0 574.0 1160.3 585.5 1160.6 584.7 1160.9 581.1 1161.2 586.3 1161.5 570.7 1161.8 583.0 1162.0 567.2 1162.3 568.7 1162.6 577.3 1162.9 568.5 1163.2 572.0 1163.5 572.9 1163.8 598.3 1164.1 563.8 1164.3 567.3 1164.6 584.8 1164.9 576.3 1165.2 561.6 1165.5 555.3 1165.8 579.4 1166.1 562.8 1166.3 582.1 1166.6 562.0 1166.9 572.9 1167.2 562.7 1167.5 566.7 1167.8 577.1 1168.1 578.5 1168.4 580.6 1168.6 585.0 1168.9 595.7 1169.2 579.9 1169.5 571.6 1169.8 575.1 1170.1 568.9 1170.4 576.2 1170.6 568.3 1170.9 570.0 1171.2 576.5 1171.5 582.5 1171.8 587.9 1172.1 599.9 1172.4 574.4 1172.7 587.9 1172.9 580.2 1173.2 577.2 1173.5 562.9 1173.8 566.8 1174.1 576.2 1174.4 569.7 1174.7 586.0 1174.9 578.3 1175.2 578.0 1175.5 585.0 1175.8 565.9 1176.1 577.8 1176.4 565.4 1176.7 586.9 1176.9 568.1 1177.2 600.1 1177.5 582.9 1177.8 572.7 1178.1 573.0 1178.4 570.0 1178.7 578.0 1179.0 581.6 1179.2 582.4 1179.5 573.5 1179.8 579.3 1180.1 574.9 1180.4 592.6 1180.7 576.8 1181.0 587.9 1181.2 573.7 1181.5 564.9 1181.8 572.4 1182.1 577.0 1182.4 568.3 1182.7 590.3 1183.0 579.1 1183.3 567.4 1183.5 579.1 1183.8 589.4 1184.1 583.1 1184.4 605.9 1184.7 571.7 1185.0 574.5 1185.3 568.8 1185.5 574.8 1185.8 573.9 1186.1 568.1 1186.4 589.1 1186.7 555.0 1187.0 572.4 1187.3 558.3 1187.6 573.5 1187.8 564.9 1188.1 570.3 1188.4 570.8 1188.7 572.9 1189.0 574.8 1189.3 562.1 1189.6 566.4 1189.8 560.0 1190.1 583.0 1190.4 585.7 1190.7 567.8 1191.0 559.0 1191.3 579.6 1191.6 578.8 1191.9 577.4 1192.1 571.6 1192.4 562.6 1192.7 571.1 1193.0 568.1 1193.3 582.3 1193.6 584.5 1193.9 618.4 1194.1 568.2 1194.4 575.9 1194.7 569.1 1195.0 570.0 1195.3 566.5 1195.6 575.8 1195.9 571.7 1196.1 558.8 1196.4 578.4 1196.7 575.5 1197.0 576.8 1197.3 567.2 1197.6 579.9 1197.9 583.3 1198.2 579.2 1198.4 584.5 1198.7 571.8 1199.0 559.9 1199.3 623.6 1199.6 569.8 1199.9 570.5 1200.2 576.4 1200.4 585.5 1200.7 581.4 1201.0 566.9 1201.3 614.7 1201.6 560.4 1201.9 581.5 1202.2 576.1 1202.5 579.3 1202.7 581.6 1203.0 575.9 1203.3 573.8 1203.6 574.0 1203.9 568.8 1204.2 570.7 1204.5 561.7 1204.7 574.4 1205.0 578.0 1205.3 576.2 1205.6 571.9 1205.9 562.3 1206.2 569.6 1206.5 573.6 1206.8 569.3 1207.0 579.6 1207.3 573.6 1207.6 575.5 1207.9 578.2 1208.2 566.0 1208.5 576.7 1208.8 575.2 1209.0 578.8 1209.3 568.1 1209.6 578.4 1209.9 554.8 1210.2 577.9 1210.5 563.8 1210.8 566.2 1211.0 563.6 1211.3 568.9 1211.6 577.7 1211.9 553.9 1212.2 568.5 1212.5 578.2 1212.8 560.4 1213.1 570.4 1213.3 575.1 1213.6 565.1 1213.9 569.3 1214.2 565.2 1214.5 570.0 1214.8 562.1 1215.1 566.5 1215.3 572.4 1215.6 569.5 1215.9 561.7 1216.2 569.8 1216.5 574.9 1216.8 568.6 1217.1 565.5 1217.4 566.2 1217.6 579.7 1217.9 578.2 1218.2 572.1 1218.5 564.0 1218.8 568.7 1219.1 558.9 1219.4 558.7 1219.6 564.6 1219.9 569.2 1220.2 571.7 1220.5 577.0 1220.8 569.2 1221.1 579.0 1221.4 564.2 1221.7 583.1 1221.9 561.8 1222.2 571.9 1222.5 575.8 1222.8 569.2 1223.1 569.0 1223.4 569.4 1223.7 579.1 1223.9 590.2 1224.2 562.0 1224.5 568.7 1224.8 563.3 1225.1 631.4 1225.4 571.0 1225.7 575.2 1225.9 566.9 1226.2 560.3 1226.5 576.1 1226.8 563.7 1227.1 563.4 1227.4 582.6 1227.7 567.9 1228.0 567.1 1228.2 569.3 1228.5 563.5 1228.8 558.1 1229.1 561.9 1229.4 558.7 1229.7 560.9 1230.0 568.6 1230.2 572.5 1230.5 577.0 1230.8 582.4 1231.1 572.9 1231.4 566.3 1231.7 569.8 1232.0 569.3 1232.3 562.7 1232.5 562.1 1232.8 570.7 1233.1 569.8 1233.4 580.0 1233.7 560.7 1234.0 570.1 1234.3 588.2 1234.5 568.4 1234.8 569.8 1235.1 562.7 1235.4 567.8 1235.7 564.1 1236.0 571.5 1236.3 560.9 1236.6 575.3 1236.8 567.8 1237.1 565.0 1237.4 568.7 1237.7 559.6 1238.0 563.0 1238.3 563.9 1238.6 564.2 1238.8 592.5 1239.1 561.1 1239.4 572.4 1239.7 565.6 1240.0 567.5 1240.3 567.9 1240.6 565.0 1240.8 565.6 1241.1 575.4 1241.4 567.8 1241.7 558.7 1242.0 561.4 1242.3 580.2 1242.6 570.9 1242.9 563.9 1243.1 576.6 1243.4 565.7 1243.7 555.7 1244.0 563.8 1244.3 574.0 1244.6 564.7 1244.9 580.5 1245.1 568.3 1245.4 582.3 1245.7 571.6 1246.0 581.8 1246.3 573.0 1246.6 570.8 1246.9 560.2 1247.2 564.9 1247.4 579.4 1247.7 558.3 1248.0 567.3 1248.3 563.1 1248.6 575.3 1248.9 568.0 1249.2 571.9 1249.4 575.8 1249.7 561.3 1250.0 573.6 1250.3 566.3 1250.6 621.0 1250.9 562.4 1251.2 566.2 1251.5 581.2 1251.7 554.8 1252.0 550.2 1252.3 564.7 1252.6 561.9 1252.9 565.9 1253.2 558.5 1253.5 574.3 1253.7 575.0 1254.0 573.4 1254.3 580.4 1254.6 594.5 1254.9 561.5 1255.2 574.9 1255.5 575.1 1255.7 560.3 1256.0 565.6 1256.3 573.2 1256.6 574.4 1256.9 571.0 1257.2 568.7 1257.5 561.4 1257.8 566.4 1258.0 575.9 1258.3 570.5 1258.6 579.3 1258.9 573.4 1259.2 557.0 1259.5 579.2 1259.8 573.0 1260.0 563.2 1260.3 567.8 1260.6 571.6 1260.9 575.0 1261.2 575.6 1261.5 564.2 1261.8 570.3 1262.1 566.9 1262.3 564.3 1262.6 579.8 1262.9 581.7 1263.2 565.6 1263.5 561.4 1263.8 568.2 1264.1 562.0 1264.3 627.3 1264.6 569.7 1264.9 570.8 1265.2 613.9 1265.5 562.6 1265.8 585.5 1266.1 569.2 1266.4 557.6 1266.6 567.4 1266.9 572.7 1267.2 561.8 1267.5 573.6 1267.8 557.1 1268.1 568.5 1268.4 552.6 1268.6 559.7 1268.9 570.9 1269.2 562.7 1269.5 562.2 1269.8 556.7 1270.1 571.0 1270.4 554.0 1270.7 567.2 1270.9 573.4 1271.2 561.3 1271.5 565.2 1271.8 558.9 1272.1 547.7 1272.4 560.0 1272.7 546.5 1272.9 543.7 1273.2 544.0 1273.5 557.0 1273.8 548.8 1274.1 549.0 1274.4 549.4 1274.7 559.1 1274.9 591.9 1275.2 552.0 1275.5 557.5 1275.8 566.6 1276.1 555.6 1276.4 557.3 1276.7 571.4 1277.0 569.9 1277.2 552.7 1277.5 563.9 1277.8 556.7 1278.1 565.2 1278.4 572.9 1278.7 568.8 1279.0 581.1 1279.2 560.5 1279.5 575.3 1279.8 549.1 1280.1 571.3 1280.4 564.0 1280.7 573.1 1281.0 576.7 1281.3 566.1 1281.5 570.9 1281.8 548.1 1282.1 567.4 1282.4 583.0 1282.7 565.0 1283.0 571.5 1283.3 568.3 1283.5 570.3 1283.8 611.6 1284.1 576.1 1284.4 561.6 1284.7 562.8 1285.0 612.5 1285.3 564.6 1285.6 549.6 1285.8 566.4 1286.1 564.4 1286.4 548.0 1286.7 557.4 1287.0 563.5 1287.3 565.0 1287.6 562.1 1287.8 532.9 1288.1 558.5 1288.4 546.3 1288.7 567.4 1289.0 556.0 1289.3 551.7 1289.6 551.3 1289.8 558.1 1290.1 561.8 1290.4 553.3 1290.7 551.0 1291.0 556.8 1291.3 559.0 1291.6 546.0 1291.9 557.9 1292.1 557.0 1292.4 546.1 1292.7 556.5 1293.0 556.7 1293.3 558.7 1293.6 545.6 1293.9 557.8 1294.1 547.2 1294.4 552.2 1294.7 558.0 1295.0 551.5 1295.3 563.5 1295.6 545.0 1295.9 565.5 1296.2 557.7 1296.4 553.6 1296.7 558.6 1297.0 552.1 1297.3 550.8 1297.6 570.4 1297.9 564.6 1298.2 558.5 1298.4 561.4 1298.7 564.4 1299.0 559.8 1299.3 569.1 1299.6 567.1 1299.9 554.2 1300.2 560.7 1300.5 552.3 1300.7 579.1 1301.0 571.2 1301.3 572.1 1301.6 560.3 1301.9 550.1 1302.2 572.4 1302.5 562.4 1302.7 551.3 1303.0 569.1 1303.3 544.3 1303.6 569.5 1303.9 567.0 1304.2 573.7 1304.5 556.4 1304.7 572.8 1305.0 559.6 1305.3 559.7 1305.6 564.4 1305.9 563.2 1306.2 562.9 1306.5 557.1 1306.8 565.4 1307.0 566.0 1307.3 568.4 1307.6 552.0 1307.9 549.4 1308.2 541.0 1308.5 571.5 1308.8 559.3 1309.0 555.7 1309.3 552.3 1309.6 580.0 1309.9 565.6 1310.2 543.7 1310.5 559.2 1310.8 565.1 1311.1 556.1 1311.3 550.6 1311.6 561.8 1311.9 555.1 1312.2 557.5 1312.5 560.8 1312.8 561.6 1313.1 557.1 1313.3 581.6 1313.6 560.5 1313.9 569.0 1314.2 568.1 1314.5 557.4 1314.8 563.0 1315.1 562.6 1315.4 561.2 1315.6 575.2 1315.9 573.1 1316.2 550.3 1316.5 568.8 1316.8 564.4 1317.1 557.6 1317.4 563.8 1317.6 562.5 1317.9 576.4 1318.2 570.9 1318.5 560.2 1318.8 560.7 1319.1 554.1 1319.4 556.9 1319.6 565.8 1319.9 561.3 1320.2 567.0 1320.5 557.4 1320.8 567.5 1321.1 558.5 1321.4 558.8 1321.7 551.4 1321.9 568.5 1322.2 561.6 1322.5 571.9 1322.8 592.5 1323.1 562.7 1323.4 565.8 1323.7 568.9 1323.9 566.4 1324.2 562.7 1324.5 562.6 1324.8 549.4 1325.1 561.6 1325.4 559.4 1325.7 574.3 1326.0 563.5 1326.2 544.0 1326.5 545.6 1326.8 575.0 1327.1 546.2 1327.4 559.8 1327.7 567.8 1328.0 553.4 1328.2 552.1 1328.5 552.3 1328.8 554.4 1329.1 546.3 1329.4 558.6 1329.7 569.9 1330.0 539.0 1330.3 557.3 1330.5 569.8 1330.8 547.4 1331.1 557.5 1331.4 567.4 1331.7 546.0 1332.0 550.8 1332.3 560.1 1332.5 557.3 1332.8 572.8 1333.1 558.4 1333.4 576.0 1333.7 568.9 1334.0 547.9 1334.3 558.0 1334.5 573.2 1334.8 564.6 1335.1 553.4 1335.4 561.2 1335.7 558.7 1336.0 560.8 1336.3 568.3 1336.6 549.3 1336.8 572.1 1337.1 561.3 1337.4 569.3 1337.7 560.4 1338.0 558.9 1338.3 560.1 1338.6 557.0 1338.8 552.9 1339.1 573.0 1339.4 557.9 1339.7 548.8 1340.0 545.9 1340.3 551.0 1340.6 567.9 1340.9 563.2 1341.1 551.2 1341.4 548.9 1341.7 560.9 1342.0 559.8 1342.3 552.2 1342.6 549.4 1342.9 561.1 1343.1 565.4 1343.4 570.5 1343.7 544.1 1344.0 569.9 1344.3 563.9 1344.6 549.6 1344.9 555.1 1345.2 562.1 1345.4 550.9 1345.7 569.2 1346.0 554.8 1346.3 562.7 1346.6 555.3 1346.9 549.6 1347.2 566.9 1347.4 553.5 1347.7 559.0 1348.0 559.8 1348.3 569.9 1348.6 545.8 1348.9 558.0 1349.2 556.3 1349.5 558.0 1349.7 564.5 1350.0 544.8 1350.3 592.6 1350.6 546.3 1350.9 556.9 1351.2 560.4 1351.5 544.6 1351.7 544.9 1352.0 556.3 1352.3 551.7 1352.6 549.2 1352.9 562.8 1353.2 556.0 1353.5 567.4 1353.7 544.9 1354.0 566.3 1354.3 553.4 1354.6 561.8 1354.9 552.7 1355.2 553.8 1355.5 555.9 1355.8 548.5 1356.0 554.8 1356.3 546.0 1356.6 550.5 1356.9 561.0 1357.2 555.2 1357.5 552.6 1357.8 547.1 1358.0 544.1 1358.3 554.8 1358.6 551.1 1358.9 543.1 1359.2 551.2 1359.5 561.1 1359.8 558.3 1360.1 547.6 1360.3 544.2 1360.6 551.4 1360.9 555.5 1361.2 549.8 1361.5 558.2 1361.8 540.5 1362.1 563.2 1362.3 551.0 1362.6 543.9 1362.9 555.3 1363.2 559.2 1363.5 556.1 1363.8 550.4 1364.1 543.5 1364.4 551.7 1364.6 547.8 1364.9 545.5 1365.2 548.4 1365.5 545.9 1365.8 546.3 1366.1 545.0 1366.4 555.6 1366.6 553.8 1366.9 554.4 1367.2 534.8 1367.5 550.0 1367.8 551.6 1368.1 539.7 1368.4 544.5 1368.6 550.9 1368.9 539.9 1369.2 554.7 1369.5 556.2 1369.8 554.4 1370.1 538.5 1370.4 548.6 1370.7 540.2 1370.9 557.4 1371.2 562.7 1371.5 547.8 1371.8 552.4 1372.1 564.7 1372.4 549.4 1372.7 536.5 1372.9 584.2 1373.2 562.5 1373.5 558.1 1373.8 559.2 1374.1 568.4 1374.4 561.8 1374.7 562.8 1375.0 558.5 1375.2 559.0 1375.5 554.6 1375.8 552.2 1376.1 552.8 1376.4 555.9 1376.7 562.7 1377.0 555.2 1377.2 554.4 1377.5 530.7 1377.8 558.2 1378.1 553.1 1378.4 550.1 1378.7 549.3 1379.0 569.6 1379.3 555.8 1379.5 564.8 1379.8 547.0 1380.1 564.3 1380.4 567.0 1380.7 559.2 1381.0 538.1 1381.3 544.2 1381.5 543.4 1381.8 576.7 1382.1 547.6 1382.4 556.8 1382.7 551.0 1383.0 540.8 1383.3 540.8 1383.5 549.3 1383.8 554.7 1384.1 551.7 1384.4 559.9 1384.7 560.3 1385.0 550.7 1385.3 544.4 1385.6 538.6 1385.8 534.8 1386.1 597.5 1386.4 542.0 1386.7 561.2 1387.0 543.0 1387.3 529.0 1387.6 542.1 1387.8 535.8 1388.1 541.0 1388.4 540.8 1388.7 538.7 1389.0 556.0 1389.3 550.8 1389.6 537.1 1389.9 552.7 1390.1 538.3 1390.4 553.2 1390.7 549.8 1391.0 553.6 1391.3 540.7 1391.6 545.5 1391.9 564.0 1392.1 556.7 1392.4 556.4 1392.7 579.8 1393.0 545.3 1393.3 561.7 1393.6 564.6 1393.9 538.9 1394.2 546.6 1394.4 543.0 1394.7 519.3 1395.0 547.4 1395.3 580.0 1395.6 542.9 1395.9 547.3 1396.2 555.1 1396.4 548.9 1396.7 555.0 1397.0 533.6 1397.3 555.0 1397.6 532.8 1397.9 551.1 1398.2 556.6 1398.4 548.4 1398.7 533.9 1399.0 545.2 1399.3 534.3 1399.6 540.1 1399.9 544.1 1400.2 551.6 1400.5 540.6 1400.7 546.2 1401.0 551.3 1401.3 548.4 1401.6 542.8 1401.9 545.8 1402.2 539.1 1402.5 531.8 1402.7 544.0 1403.0 543.1 1403.3 543.9 1403.6 545.5 1403.9 550.7 1404.2 554.7 1404.5 553.7 1404.8 557.3 1405.0 545.2 1405.3 560.4 1405.6 551.5 1405.9 557.2 1406.2 556.8 1406.5 545.5 1406.8 549.4 1407.0 543.6 1407.3 557.3 1407.6 554.5 1407.9 549.5 1408.2 545.1 1408.5 546.0 1408.8 539.9 1409.1 559.2 1409.3 550.9 1409.6 554.5 1409.9 536.7 1410.2 560.6 1410.5 555.8 1410.8 541.1 1411.1 555.7 1411.3 562.1 1411.6 537.9 1411.9 542.5 1412.2 552.8 1412.5 555.6 1412.8 549.8 1413.1 553.9 1413.3 553.2 1413.6 542.4 1413.9 553.9 1414.2 549.6 1414.5 553.1 1414.8 542.0 1415.1 548.6 1415.4 539.0 1415.6 556.6 1415.9 551.9 1416.2 549.0 1416.5 546.2 1416.8 550.0 1417.1 531.1 1417.4 550.7 1417.6 549.0 1417.9 556.1 1418.2 549.0 1418.5 529.4 1418.8 543.5 1419.1 552.3 1419.4 538.1 1419.7 548.0 1419.9 541.1 1420.2 554.1 1420.5 549.7 1420.8 534.1 1421.1 544.5 1421.4 543.3 1421.7 541.5 1421.9 537.8 1422.2 549.2 1422.5 552.6 1422.8 545.7 1423.1 537.4 1423.4 547.1 1423.7 536.2 1424.0 556.2 1424.2 548.8 1424.5 551.4 1424.8 558.3 1425.1 527.3 1425.4 543.7 1425.7 527.2 1426.0 538.6 1426.2 550.5 1426.5 532.2 1426.8 537.3 1427.1 526.6 1427.4 535.8 1427.7 543.2 1428.0 538.0 1428.3 543.2 1428.5 549.6 1428.8 544.4 1429.1 533.6 1429.4 549.2 1429.7 534.2 1430.0 532.1 1430.3 540.8 1430.5 544.8 1430.8 536.1 1431.1 546.2 1431.4 536.4 1431.7 538.0 1432.0 543.3 1432.3 546.6 1432.5 550.1 1432.8 544.2 1433.1 551.7 1433.4 544.2 1433.7 541.9 1434.0 546.0 1434.3 539.9 1434.6 536.0 1434.8 553.5 1435.1 543.9 1435.4 550.2 1435.7 548.9 1436.0 545.6 1436.3 535.9 1436.6 535.0 1436.8 548.5 1437.1 544.3 1437.4 545.7 1437.7 545.9 1438.0 531.8 1438.3 537.3 1438.6 558.2 1438.9 541.3 1439.1 539.4 1439.4 553.3 1439.7 533.4 1440.0 538.2 1440.3 532.3 1440.6 554.6 1440.9 547.2 1441.1 550.6 1441.4 550.3 1441.7 550.1 1442.0 555.1 1442.3 544.3 1442.6 556.5 1442.9 537.2 1443.2 539.3 1443.4 562.0 1443.7 550.9 1444.0 542.6 1444.3 525.2 1444.6 547.3 1444.9 533.9 1445.2 528.5 1445.4 543.8 1445.7 553.6 1446.0 554.1 1446.3 558.2 1446.6 543.6 1446.9 543.8 1447.2 550.9 1447.4 534.3 1447.7 550.3 1448.0 565.6 1448.3 538.9 1448.6 539.6 1448.9 541.9 1449.2 542.3 1449.5 544.3 1449.7 537.7 1450.0 539.1 1450.3 592.7 1450.6 543.3 1450.9 546.8 1451.2 549.2 1451.5 535.9 1451.7 545.7 1452.0 544.4 1452.3 538.1 1452.6 553.9 1452.9 550.7 1453.2 548.6 1453.5 553.9 1453.8 544.2 1454.0 553.2 1454.3 543.8 1454.6 545.5 1454.9 545.4 1455.2 541.9 1455.5 548.1 1455.8 540.2 1456.0 548.3 1456.3 545.6 1456.6 546.3 1456.9 539.9 1457.2 544.3 1457.5 552.6 1457.8 531.8 1458.1 537.1 1458.3 545.6 1458.6 541.6 1458.9 553.2 1459.2 540.7 1459.5 551.3 1459.8 541.9 1460.1 546.4 1460.3 555.4 1460.6 544.2 1460.9 548.0 1461.2 551.0 1461.5 548.4 1461.8 541.2 1462.1 545.9 1462.3 551.0 1462.6 550.9 1462.9 548.7 1463.2 559.1 1463.5 553.1 1463.8 550.6 1464.1 561.6 1464.4 532.6 1464.6 580.6 1464.9 535.9 1465.2 547.8 1465.5 546.0 1465.8 546.3 1466.1 599.6 1466.4 553.7 1466.6 541.4 1466.9 547.9 1467.2 542.4 1467.5 542.7 1467.8 554.4 1468.1 600.3 1468.4 551.3 1468.7 556.9 1468.9 552.6 1469.2 543.6 1469.5 535.2 1469.8 533.2 1470.1 538.2 1470.4 547.3 1470.7 525.4 1470.9 530.2 1471.2 540.0 1471.5 547.7 1471.8 549.2 1472.1 524.5 1472.4 535.9 1472.7 538.8 1473.0 539.4 1473.2 541.9 1473.5 533.3 1473.8 534.9 1474.1 529.0 1474.4 552.9 1474.7 534.6 1475.0 538.0 1475.2 533.1 1475.5 535.4 1475.8 554.5 1476.1 539.9 1476.4 528.5 1476.7 534.3 1477.0 546.7 1477.2 553.5 1477.5 531.0 1477.8 539.3 1478.1 536.5 1478.4 546.5 1478.7 532.3 1479.0 542.1 1479.3 542.0 1479.5 549.6 1479.8 539.7 1480.1 538.2 1480.4 548.0 1480.7 544.9 1481.0 537.3 1481.3 550.4 1481.5 538.4 1481.8 534.4 1482.1 541.2 1482.4 551.7 1482.7 542.0 1483.0 533.0 1483.3 541.1 1483.6 551.4 1483.8 535.6 1484.1 539.0 1484.4 531.3 1484.7 530.9 1485.0 536.4 1485.3 543.8 1485.6 557.4 1485.8 557.4 1486.1 543.5 1486.4 547.3 1486.7 542.7 1487.0 550.1 1487.3 550.1 1487.6 535.2 1487.9 540.9 1488.1 542.5 1488.4 530.8 1488.7 548.4 1489.0 584.9 1489.3 550.1 1489.6 546.2 1489.9 542.2 1490.1 569.5 1490.4 548.1 1490.7 544.9 1491.0 535.3 1491.3 548.4 1491.6 551.6 1491.9 530.2 1492.1 585.0 1492.4 543.5 1492.7 550.4 1493.0 547.5 1493.3 532.6 1493.6 534.6 1493.9 542.0 1494.2 528.0 1494.4 542.6 1494.7 530.6 1495.0 535.5 1495.3 530.3 1495.6 537.9 1495.9 534.7 1496.2 538.2 1496.4 556.2 1496.7 520.7 1497.0 532.9 1497.3 536.5 1497.6 537.7 1497.9 593.4 1498.2 541.5 1498.5 536.7 1498.7 530.2 1499.0 534.8 1499.3 535.5 1499.6 531.1" stroke="#00ff00"/>
<path d="M632.8 2905.1L633.0 2899.0 633.1 2892.8 633.3 2886.7 633.4 2880.6 633.6 2874.4 633.7 2868.3 633.9 2862.2 634.1 2856.0 634.2 2849.9 634.4 2843.8 634.5 2837.6 634.7 2831.5 634.8 2825.4 635.0 2819.2 635.2 2813.1 635.3 2807.0 635.5 2800.8 635.6 2794.7 635.8 2788.6 636.0 2782.4 636.1 2776.3 636.3 2770.2 636.4 2764.0 636.6 2757.9 636.7 2751.8 636.9 2745.6 637.1 2739.5 637.2 2733.4 637.4 2727.2 637.5 2721.1 637.7 2715.0 637.8 2708.8 638.0 2702.7 638.2 2696.6 638.3 2690.4 638.5 2684.3 638.6 2678.2 638.8 2672.0 638.9 2665.9 639.1 2659.8 639.3 2653.6 639.4 2647.5 639.6 2641.4 639.7 2635.2 639.9 2629.1 640.0 2622.9 640.2 2616.8 640.4 2610.7 640.5 2604.5 640.7 2598.4 640.8 2592.3 641.0 2586.1 641.2 2580.0 641.3 2573.9 641.5 2567.7 641.6 2561.6 641.8 2555.5 641.9 2549.3 642.1 2543.2 642.3 2537.1 642.4 2531.7 642.6 2526.2 642.7 2520.8 642.9 2515.4 643.0 2510.0 643.2 2504.6 643.4 2499.1 643.5 2493.7 643.7 2488.3 643.8 2482.9 644.0 2477.4 644.1 2472.0 644.3 2466.6 644.5 2461.2 644.6 2455.8 644.8 2450.3 644.9 2444.9 645.1 2439.5 645.3 2434.1 645.4 2428.6 645.6 2423.2 645.7 2417.8 645.9 2412.4 646.0 2407.0 646.2 2401.5 646.4 2396.1 646.5 2390.7 646.7 2385.3 646.8 2379.9 647.0 2374.4 647.1 2369.0 647.3 2363.6 647.5 2358.2 647.6 2352.7 647.8 2347.3 647.9 2341.9 648.1 2336.5 648.2 2331.1 648.4 2325.6 648.6 2320.2 648.7 2314.8 648.9 2309.4 649.0 2304.0 649.2 2298.5 649.3 2293.1 649.5 2287.7 649.7 2282.3 649.8 2276.8 650.0 2271.4 650.1 2266.0 650.3 2260.6 650.5 2255.2 650.6 2249.7 650.8 2244.3 650.9 2238.9 651.1 2233.5 651.2 2228.0 651.4 2222.6 651.6 2217.2 651.7 2211.8 651.9 2206.4 652.0 2200.9 652.2 2195.5 652.3 2190.1 652.5 2184.7 652.7 2179.3 652.8 2173.8 653.0 2168.4 653.1 2163.0 653.3 2157.6 653.4 2152.1 653.6 2146.7 653.8 2141.3 653.9 2135.9 654.1 2130.5 654.2 2125.0 654.4 2119.6 654.5 2114.2 654.7 2108.8 654.9 2103.4 655.0 2097.9 655.2 2092.5 655.3 2087.1 655.5 2081.7 655.7 2076.2 655.8 2070.8 656.0 2065.4 656.1 2060.0 656.3 2054.6 656.4 2049.1 656.6 2043.7 656.8 2038.3 656.9 2032.9 657.1 2027.4 657.2 2022.0 657.4 2016.6 657.5 2011.2 657.7 2005.8 657.9 2000.3 658.0 1994.9 658.2 1989.5 658.3 1984.1 658.5 1978.7 658.6 1973.2 658.8 1967.8 659.0 1962.4 659.1 1957.0 659.3 1951.5 659.4 1946.1 659.6 1940.7 659.7 1935.3 659.9 1929.9 660.1 1924.4 660.2 1919.0 660.4 1913.6 660.5 1908.2 660.7 1902.7 660.9 1897.3 661.0 1891.9 661.2 1886.5 661.3 1881.1 661.5 1875.6 661.6 1870.2 661.8 1864.8 662.0 1859.4 662.1 1854.0 662.3 1848.5 662.4 1843.1 662.6 1837.7 662.7 1832.3 662.9 1826.8 663.1 1821.4 663.2 1816.0 663.4 1810.6 663.5 1805.2 663.7 1799.7 663.8 1794.3 664.0 1788.9 664.2 1783.5 664.3 1778.1 664.5 1772.6 664.6 1767.2 664.8 1761.8 665.0 1756.4 665.1 1750.9 665.3 1745.5 665.4 1740.1 665.6 1734.7 665.7 1729.3 665.9 1723.8 666.1 1718.4 666.2 1713.0 666.4 1707.6 666.5 1702.1 666.7 1696.7 666.8 1691.3 667.0 1685.9 667.2 1680.5 667.3 1675.0 667.5 1669.6 667.6 1666.8 667.8 1664.0 667.9 1661.2 668.1 1658.4 668.3 1655.5 668.4 1652.7 668.6 1649.9 668.7 1647.1 668.9 1644.3 669.0 1641.5 669.2 1638.6 669.4 1635.8 669.5 1633.0 669.7 1630.2 669.8 1627.4 670.0 1624.6 670.2 1621.7 670.3 1618.9 670.5 1616.1 670.6 1613.3 670.8 1610.5 670.9 1607.7 671.1 1604.8 671.3 1602.0 671.4 1599.2 671.6 1596.4 671.7 1593.6 671.9 1590.8 672.0 1587.9 672.2 1585.1 672.4 1582.3 672.5 1579.5 672.7 1576.7 672.8 1573.9 673.0 1571.0 673.1 1568.2 673.3 1565.4 673.5 1562.6 673.6 1559.8 673.8 1557.0 673.9 1554.1 674.1 1551.3 674.2 1548.5 674.4 1545.7 674.6 1542.9 674.7 1540.1 674.9 1537.2 675.0 1534.4 675.2 1531.6 675.4 1528.8 675.5 1526.0 675.7 1523.2 675.8 1520.3 676.0 1517.5 676.1 1514.7 676.3 1511.9 676.5 1509.1 676.6 1506.3 676.8 1503.5 676.9 1500.6 677.1 1497.8 677.2 1495.0 677.4 1492.2 677.6 1489.4 677.7 1486.6 677.9 1483.7 678.0 1480.9 678.2 1478.1 678.3 1475.3 678.5 1472.5 678.7 1469.7 678.8 1466.8 679.0 1464.0 679.1 1461.2 679.3 1458.4 679.4 1455.6 679.6 1452.8 679.8 1449.9 679.9 1447.1 680.1 1444.3 680.2 1441.5 680.4 1438.7 680.6 1435.9 680.7 1433.0 680.9 1430.2 681.0 1427.4 681.2 1424.6 681.3 1421.8 681.5 1419.0 681.7 1416.1 681.8 1413.3 682.0 1410.5 682.1 1407.7 682.3 1404.9 682.4 1402.1 682.6 1399.2 682.8 1396.4 682.9 1393.6 683.1 1390.8 683.2 1388.0 683.4 1385.2 683.5 1382.3 683.7 1379.5 683.9 1376.7 684.0 1373.9 684.2 1371.1 684.3 1368.3 684.5 1365.4 684.7 1362.6 684.8 1359.8 685.0 1357.0 685.1 1354.2 685.3 1351.4 685.4 1348.5 685.6 1345.7 685.8 1342.9 685.9 1340.1 686.1 1337.3 686.2 1334.5 686.4 1331.6 686.5 1328.8 686.7 1326.0 686.9 1323.2 687.0 1320.4 687.2 1317.6 687.3 1314.8 687.5 1311.9 687.6 1309.1 687.8 1306.3 688.0 1303.5 688.1 1300.7 688.3 1297.9 688.4 1295.0 688.6 1292.2 688.7 1289.4 688.9 1286.6 689.1 1283.8 689.2 1281.0 689.4 1278.1 689.5 1275.3 689.7 1273.1 689.9 1270.8 690.0 1268.6 690.2 1266.3 690.3 1264.1 690.5 1261.9 690.6 1259.6 690.8 1257.4 691.0 1255.1 691.1 1252.9 691.3 1250.6 691.4 1248.4 691.6 1246.2 691.7 1243.9 691.9 1241.7 692.1 1239.4 692.2 1237.2 692.4 1234.9 692.5 1232.7 692.7 1230.4 692.8 1228.2 693.0 1226.0 693.2 1223.7 693.3 1221.5 693.5 1219.2 693.6 1217.0 693.8 1214.7 693.9 1212.5 694.1 1210.3 694.3 1208.0 694.4 1205.8 694.6 1203.5 694.7 1201.3 694.9 1199.0 695.1 1196.8 695.2 1194.6 695.4 1192.3 695.5 1190.1 695.7 1187.8 695.8 1185.6 696.0 1183.3 696.2 1181.1 696.3 1178.8 696.5 1176.6 696.6 1174.4 696.8 1172.1 696.9 1169.9 697.1 1167.6 697.3 1165.4 697.4 1163.1 697.6 1160.9 697.7 1158.7 697.9 1156.4 698.0 1154.2 698.2 1151.9 698.4 1149.7 698.5 1147.4 698.7 1145.2 698.8 1143.0 699.0 1140.7 699.1 1138.5 699.3 1136.2 699.5 1134.0 699.6 1131.7 699.8 1129.5 699.9 1127.2 700.1 1125.0 700.3 1122.8 700.4 1120.5 700.6 1118.3 700.7 1116.0 700.9 1113.8 701.0 1111.5 701.2 1109.3 701.4 1107.1 701.5 1104.8 701.7 1102.6 701.8 1100.3 702.0 1098.1 702.1 1095.8 702.3 1093.6 702.5 1091.4 702.6 1089.1 702.8 1086.9 702.9 1084.6 703.1 1082.4 703.2 1080.1 703.4 1077.9 703.6 1075.6 703.7 1073.4 703.9 1071.2 704.0 1068.9 704.2 1066.7 704.4 1064.4 704.5 1062.2 704.7 1059.9 704.8 1057.7 705.0 1055.5 705.1 1053.2 705.3 1051.0 705.5 1048.7 705.6 1046.5 705.8 1044.2 705.9 1042.0 706.1 1039.7 706.2 1037.5 706.4 1035.3 706.6 1033.0 706.7 1030.8 706.9 1028.5 707.0 1026.3 707.2 1024.0 707.3 1021.8 707.5 1019.6 707.7 1017.3 707.8 1015.1 708.0 1012.8 708.1 1010.6 708.3 1008.3 708.4 1006.1 708.6 1003.9 708.8 1001.6 708.9 999.4 709.1 997.1 709.2 994.9 709.4 992.6 709.6 990.4 709.7 988.1 709.9 985.9 710.0 983.7 710.2 981.4 710.3 979.2 710.5 976.9 710.7 974.7 710.8 972.4 711.0 970.2 711.1 968.0 711.3 965.7 711.4 963.5 711.6 961.2 711.8 958.5 711.9 955.1 712.1 951.6 712.2 948.2 712.4 944.7 712.5 941.3 712.7 937.8 712.9 934.4 713.0 930.9 713.2 927.5 713.3 924.0 713.5 920.6 713.6 917.1 713.8 913.7 714.0 910.2 714.1 906.8 714.3 903.3 714.4 899.9 714.6 896.4 714.8 893.0 714.9 889.6 715.1 886.1 715.2 882.7 715.4 879.2 715.5 875.8 715.7 872.3 715.9 868.9 716.0 865.4 716.2 862.0 716.3 858.5 716.5 855.1 716.6 851.6 716.8 848.2 717.0 844.7 717.1 841.3 717.3 837.8 717.4 834.4 717.6 830.9 717.7 827.5 717.9 824.0 718.1 820.6 718.2 817.2 718.4 813.7 718.5 810.3 718.7 806.8 718.8 803.4 719.0 799.9 719.2 796.5 719.3 793.0 719.5 789.6 719.6 786.1 719.8 782.7 720.0 779.2 720.1 775.8 720.3 772.3 720.4 768.9 720.6 765.4 720.7 762.0 720.9 758.5 721.1 755.1 721.2 751.7 721.4 748.2 721.5 744.8 721.7 741.3 721.8 737.9 722.0 734.4 722.2 731.0 722.3 727.5 722.5 724.1 722.6 720.6 722.8 717.2 722.9 713.7 723.1 710.3 723.3 706.8 723.4 703.4 723.6 701.3 723.7 700.0 723.9 698.8 724.1 697.6 724.2 696.3 724.4 695.1 724.5 693.8 724.7 692.6 724.8 691.4 725.0 690.1 725.2 688.9 725.3 687.7 725.5 686.4 725.6 685.2 725.8 684.0 725.9 682.7 726.1 681.5 726.3 680.2 726.4 679.0 726.6 677.8 726.7 676.5 726.9 675.3 727.0 674.1 727.2 672.8 727.4 671.6 727.6 669.0 727.9 667.2 728.2 665.0 728.5 662.5 728.8 660.6 729.1 657.9 729.4 652.7 729.7 655.6 729.9 652.8 730.2 650.6 730.5 653.2 730.8 644.8 731.1 644.4 731.4 647.9 731.7 640.8 731.9 637.3 732.2 638.8 732.5 629.8 732.8 635.1 733.1 637.8 733.4 626.8 733.7 629.8 734.0 627.3 734.2 634.9 734.5 632.9 734.8 630.0 735.1 624.2 735.4 623.0 735.7 612.7 736.0 630.7 736.2 618.1 736.5 618.6 736.8 603.8 737.1 615.9 737.4 608.9 737.7 618.9 738.0 615.9 738.2 616.8 738.5 619.4 738.8 611.7 739.1 619.7 739.4 614.4 739.7 610.5 740.0 598.5 740.3 626.0 740.5 612.0 740.8 607.6 741.1 614.2 741.4 605.5 741.7 607.5 742.0 607.4 742.3 613.4 742.5 611.6 742.8 611.3 743.1 616.2 743.4 630.6 743.7 617.2 744.0 616.6 744.3 620.0 744.6 602.9 744.8 614.7 745.1 617.1 745.4 605.7 745.7 614.2 746.0 609.2 746.3 612.9 746.6 609.3 746.8 610.6 747.1 627.1 747.4 602.1 747.7 605.4 748.0 622.6 748.3 606.5 748.6 614.3 748.9 592.6 749.1 604.2 749.4 606.4 749.7 606.9 750.0 600.1 750.3 606.9 750.6 619.0 750.9 624.1 751.1 609.9 751.4 628.0 751.7 619.1 752.0 619.7 752.3 622.5 752.6 608.8 752.9 616.5 753.1 620.8 753.4 613.6 753.7 623.1 754.0 612.5 754.3 607.2 754.6 622.7 754.9 623.4 755.2 614.8 755.4 636.8 755.7 632.4 756.0 631.3 756.3 635.8 756.6 625.2 756.9 623.5 757.2 626.2 757.4 626.7 757.7 620.6 758.0 620.0 758.3 619.3 758.6 629.4 758.9 628.7 759.2 618.9 759.5 626.5 759.7 620.4 760.0 633.1 760.3 630.3 760.6 634.7 760.9 630.7 761.2 627.9 761.5 634.2 761.7 617.9 762.0 641.9 762.3 626.0 762.6 639.7 762.9 630.4 763.2 638.0 763.5 632.3 763.8 616.0 764.0 638.7 764.3 641.7 764.6 638.3 764.9 633.3 765.2 627.8 765.5 622.3 765.8 645.2 766.0 630.1 766.3 636.3 766.6 632.8 766.9 630.6 767.2 627.1 767.5 629.5 767.8 632.3 768.0 621.1 768.3 629.6 768.6 617.2 768.9 623.2 769.2 638.7 769.5 637.1 769.8 620.3 770.1 631.5 770.3 642.3 770.6 624.3 770.9 621.4 771.2 635.0 771.5 638.6 771.8 629.9 772.1 627.0 772.3 633.6 772.6 635.8 772.9 625.9 773.2 625.9 773.5 640.5 773.8 637.4 774.1 632.0 774.4 634.2 774.6 628.4 774.9 626.4 775.2 617.1 775.5 627.4 775.8 623.5 776.1 640.5 776.4 634.5 776.6 622.5 776.9 639.8 777.2 620.6 777.5 626.0 777.8 628.9 778.1 630.7 778.4 637.9 778.7 637.4 778.9 633.7 779.2 633.1 779.5 621.8 779.8 637.4 780.1 634.9 780.4 642.7 780.7 629.7 780.9 631.0 781.2 623.7 781.5 618.1 781.8 627.8 782.1 637.4 782.4 630.1 782.7 629.8 782.9 632.3 783.2 639.3 783.5 629.6 783.8 640.3 784.1 632.5 784.4 634.0 784.7 649.6 785.0 627.6 785.2 617.0 785.5 634.0 785.8 635.5 786.1 624.7 786.4 639.9 786.7 630.5 787.0 628.8 787.2 634.1 787.5 630.5 787.8 635.6 788.1 633.6 788.4 624.8 788.7 635.2 789.0 633.0 789.3 633.7 789.5 625.3 789.8 631.3 790.1 634.5 790.4 626.3 790.7 642.4 791.0 641.7 791.3 671.0 791.5 616.0 791.8 632.2 792.1 626.7 792.4 638.7 792.7 628.5 793.0 628.1 793.3 625.7 793.6 634.9 793.8 616.7 794.1 636.7 794.4 619.9 794.7 621.3 795.0 625.2 795.3 621.5 795.6 615.8 795.8 631.6 796.1 642.1 796.4 625.0 796.7 635.6 797.0 638.0 797.3 634.6 797.6 636.7 797.9 625.0 798.1 628.8 798.4 625.2 798.7 623.8 799.0 632.2 799.3 624.5 799.6 620.7 799.9 616.1 800.1 627.5 800.4 630.3 800.7 634.7 801.0 630.9 801.3 628.0 801.6 626.2 801.9 637.1 802.1 630.6 802.4 629.2 802.7 631.8 803.0 632.0 803.3 625.4 803.6 634.6 803.9 624.7 804.2 635.4 804.4 626.6 804.7 635.9 805.0 620.2 805.3 623.3 805.6 619.3 805.9 634.4 806.2 637.9 806.4 637.9 806.7 630.4 807.0 621.6 807.3 624.1 807.6 624.4 807.9 637.5 808.2 621.5 808.5 623.9 808.7 632.6 809.0 646.3 809.3 634.2 809.6 629.5 809.9 617.6 810.2 626.8 810.5 628.6 810.7 617.0 811.0 617.0 811.3 624.9 811.6 623.0 811.9 618.4 812.2 631.7 812.5 623.7 812.8 629.2 813.0 632.6 813.3 622.3 813.6 617.8 813.9 612.2 814.2 619.5 814.5 616.8 814.8 625.7 815.0 634.6 815.3 628.4 815.6 621.1 815.9 627.8 816.2 610.3 816.5 615.0 816.8 624.7 817.0 611.3 817.3 618.7 817.6 611.8 817.9 624.3 818.2 617.6 818.5 624.6 818.8 622.9 819.1 615.0 819.3 609.7 819.6 622.0 819.9 620.8 820.2 629.0 820.5 624.3 820.8 619.4 821.1 631.4 821.3 625.7 821.6 630.4 821.9 621.2 822.2 616.3 822.5 620.1 822.8 624.3 823.1 629.2 823.4 633.3 823.6 621.9 823.9 611.5 824.2 623.8 824.5 622.3 824.8 624.9 825.1 629.6 825.4 614.3 825.6 616.8 825.9 667.8 826.2 630.3 826.5 612.5 826.8 627.9 827.1 622.2 827.4 629.1 827.7 619.8 827.9 627.6 828.2 626.5 828.5 630.2 828.8 609.5 829.1 604.8 829.4 621.4 829.7 618.5 829.9 619.3 830.2 623.4 830.5 624.2 830.8 626.2 831.1 618.4 831.4 632.5 831.7 629.9 831.9 619.3 832.2 634.0 832.5 613.1 832.8 626.2 833.1 623.0 833.4 615.0 833.7 624.5 834.0 623.2 834.2 628.1 834.5 620.3 834.8 618.8 835.1 629.6 835.4 618.6 835.7 616.2 836.0 619.3 836.2 627.5 836.5 615.4 836.8 629.8 837.1 624.5 837.4 633.4 837.7 625.2 838.0 619.7 838.3 610.4 838.5 610.7 838.8 613.8 839.1 622.6 839.4 612.5 839.7 617.4 840.0 648.1 840.3 629.1 840.5 609.4 840.8 603.4 841.1 607.1 841.4 599.9 841.7 615.1 842.0 621.1 842.3 619.6 842.6 619.7 842.8 612.3 843.1 607.9 843.4 620.2 843.7 617.2 844.0 619.5 844.3 607.0 844.6 608.2 844.8 621.1 845.1 617.3 845.4 614.1 845.7 627.8 846.0 619.1 846.3 614.5 846.6 625.2 846.8 660.7 847.1 615.2 847.4 619.4 847.7 608.3 848.0 622.0 848.3 612.5 848.6 617.2 848.9 607.7 849.1 620.7 849.4 611.0 849.7 610.8 850.0 607.1 850.3 603.7 850.6 625.4 850.9 615.2 851.1 622.2 851.4 607.7 851.7 604.9 852.0 616.5 852.3 612.6 852.6 605.1 852.9 612.8 853.2 615.1 853.4 625.7 853.7 619.2 854.0 607.3 854.3 624.5 854.6 612.4 854.9 613.0 855.2 614.7 855.4 609.1 855.7 620.0 856.0 605.2 856.3 618.1 856.6 608.1 856.9 619.4 857.2 613.7 857.5 618.0 857.7 604.0 858.0 623.2 858.3 620.5 858.6 606.0 858.9 610.7 859.2 616.7 859.5 618.3 859.7 625.6 860.0 650.2 860.3 614.3 860.6 608.5 860.9 610.4 861.2 606.8 861.5 614.3 861.7 622.0 862.0 619.5 862.3 606.4 862.6 616.4 862.9 607.2 863.2 628.2 863.5 620.5 863.8 622.7 864.0 615.3 864.3 622.6 864.6 626.3 864.9 617.5 865.2 633.0 865.5 621.0 865.8 613.8 866.0 624.7 866.3 617.0 866.6 622.7 866.9 618.8 867.2 614.5 867.5 612.8 867.8 612.8 868.1 621.0 868.3 604.8 868.6 613.0 868.9 619.6 869.2 605.4 869.5 617.4 869.8 600.6 870.1 608.1 870.3 614.6 870.6 616.9 870.9 619.1 871.2 618.4 871.5 614.5 871.8 602.7 872.1 610.6 872.4 612.0 872.6 608.1 872.9 612.9 873.2 619.2 873.5 620.4 873.8 599.5 874.1 611.1 874.4 597.4 874.6 594.9 874.9 606.0 875.2 602.2 875.5 609.9 875.8 607.9 876.1 606.2 876.4 606.6 876.7 595.7 876.9 606.9 877.2 599.7 877.5 605.1 877.8 601.6 878.1 593.0 878.4 617.1 878.7 598.0 878.9 610.9 879.2 605.2 879.5 609.4 879.8 610.6 880.1 617.2 880.4 627.0 880.7 593.1 880.9 602.5 881.2 610.8 881.5 622.8 881.8 605.1 882.1 599.1 882.4 607.6 882.7 623.4 883.0 615.2 883.2 609.9 883.5 612.7 883.8 604.5 884.1 619.7 884.4 617.6 884.7 631.0 885.0 605.3 885.2 609.0 885.5 616.8 885.8 626.6 886.1 607.5 886.4 623.9 886.7 622.9 887.0 627.5 887.3 623.7 887.5 620.1 887.8 620.9 888.1 604.8 888.4 592.7 888.7 611.5 889.0 615.8 889.3 611.5 889.5 620.3 889.8 607.3 890.1 616.4 890.4 612.8 890.7 606.1 891.0 614.2 891.3 617.4 891.6 599.3 891.8 618.7 892.1 614.9 892.4 613.5 892.7 609.8 893.0 605.0 893.3 627.0 893.6 606.8 893.8 592.6 894.1 593.8 894.4 595.8 894.7 602.6 895.0 600.2 895.3 605.7 895.6 613.8 895.8 598.9 896.1 593.7 896.4 599.4 896.7 601.9 897.0 595.4 897.3 599.6 897.6 593.9 897.9 605.4 898.1 615.6 898.4 599.1 898.7 596.4 899.0 608.8 899.3 601.6 899.6 598.3 899.9 623.8 900.1 586.1 900.4 598.6 900.7 605.9 901.0 613.1 901.3 616.3 901.6 580.4 901.9 607.4 902.2 599.9 902.4 609.9 902.7 607.4 903.0 600.1 903.3 611.7 903.6 605.2 903.9 605.9 904.2 600.7 904.4 597.6 904.7 605.0 905.0 593.0 905.3 606.4 905.6 605.4 905.9 601.5 906.2 603.6 906.5 595.5 906.7 621.9 907.0 613.5 907.3 616.1 907.6 589.3 907.9 593.3 908.2 604.1 908.5 595.8 908.7 611.4 909.0 600.4 909.3 587.1 909.6 593.1 909.9 582.0 910.2 601.3 910.5 589.1 910.7 596.9 911.0 595.4 911.3 595.9 911.6 592.3 911.9 588.4 912.2 597.9 912.5 595.8 912.8 599.6 913.0 597.0 913.3 605.3 913.6 592.3 913.9 594.8 914.2 632.9 914.5 600.7 914.8 605.8 915.0 608.2 915.3 609.8 915.6 607.8 915.9 595.5 916.2 599.4 916.5 613.4 916.8 610.3 917.1 593.5 917.3 591.3 917.6 597.6 917.9 588.4 918.2 609.2 918.5 600.9 918.8 609.0 919.1 587.9 919.3 601.1 919.6 601.1 919.9 601.4 920.2 609.1 920.5 604.3 920.8 620.5 921.1 606.7 921.4 610.6 921.6 597.1 921.9 592.7 922.2 600.3 922.5 609.5 922.8 609.7 923.1 595.8 923.4 602.9 923.6 602.5 923.9 608.2 924.2 598.1 924.5 598.1 924.8 593.3 925.1 605.8 925.4 598.9 925.6 608.9 925.9 596.5 926.2 598.0 926.5 600.6 926.8 591.0 927.1 606.9 927.4 585.9 927.7 594.3 927.9 593.0 928.2 595.1 928.5 602.3 928.8 601.2 929.1 590.0 929.4 597.1 929.7 594.6 929.9 599.5 930.2 590.7 930.5 592.1 930.8 606.5 931.1 582.5 931.4 589.3 931.7 590.8 932.0 594.5 932.2 597.4 932.5 590.6 932.8 577.9 933.1 597.6 933.4 605.0 933.7 597.2 934.0 596.4 934.2 589.9 934.5 606.0 934.8 600.2 935.1 599.2 935.4 589.7 935.7 588.7 936.0 595.4 936.3 589.0 936.5 596.0 936.8 596.0 937.1 613.5 937.4 603.3 937.7 604.9 938.0 615.9 938.3 595.9 938.5 604.2 938.8 595.8 939.1 596.9 939.4 592.9 939.7 599.6 940.0 600.6 940.3 586.1 940.5 596.7 940.8 587.0 941.1 600.6 941.4 595.4 941.7 595.8 942.0 600.2 942.3 587.5 942.6 602.3 942.8 590.3 943.1 607.3 943.4 586.3 943.7 629.5 944.0 582.5 944.3 575.7 944.6 595.2 944.8 589.8 945.1 599.1 945.4 592.8 945.7 588.8 946.0 588.8 946.3 583.2 946.6 585.2 946.9 581.6 947.1 593.6 947.4 587.5 947.7 596.1 948.0 589.7 948.3 608.4 948.6 589.2 948.9 588.1 949.1 591.9 949.4 591.5 949.7 601.0 950.0 593.3 950.3 592.9 950.6 586.9 950.9 585.2 951.2 591.7 951.4 589.4 951.7 585.7 952.0 594.7 952.3 580.7 952.6 573.0 952.9 584.9 953.2 591.0 953.4 585.7 953.7 578.6 954.0 577.7 954.3 596.5 954.6 563.9 954.9 591.7 955.2 589.4 955.5 584.1 955.7 582.0 956.0 587.8 956.3 591.9 956.6 587.1 956.9 593.0 957.2 572.8 957.5 596.7 957.7 581.1 958.0 584.5 958.3 585.3 958.6 635.0 958.9 588.8 959.2 587.6 959.5 589.1 959.7 586.9 960.0 627.2 960.3 588.2 960.6 581.7 960.9 579.6 961.2 588.7 961.5 579.4 961.8 584.2 962.0 588.7 962.3 581.2 962.6 576.5 962.9 586.9 963.2 597.8 963.5 561.0 963.8 577.6 964.0 563.5 964.3 586.1 964.6 582.0 964.9 602.7 965.2 580.1 965.5 580.8 965.8 580.4 966.1 575.8 966.3 594.5 966.6 580.4 966.9 571.0 967.2 604.1 967.5 590.7 967.8 583.2 968.1 593.8 968.3 602.1 968.6 586.8 968.9 588.1 969.2 594.7 969.5 587.9 969.8 583.2 970.1 582.7 970.4 587.1 970.6 599.3 970.9 592.7 971.2 607.1 971.5 598.4 971.8 589.6 972.1 587.0 972.4 591.2 972.6 591.3 972.9 605.5 973.2 600.7 973.5 599.9 973.8 565.4 974.1 596.0 974.4 575.9 974.6 584.4 974.9 599.2 975.2 596.6 975.5 595.7 975.8 596.0 976.1 595.4 976.4 606.4 976.7 583.0 976.9 586.4 977.2 586.5 977.5 590.3 977.8 587.5 978.1 593.3 978.4 604.9 978.7 589.5 978.9 590.0 979.2 599.6 979.5 606.2 979.8 610.4 980.1 597.0 980.4 590.9 980.7 594.3 981.0 576.9 981.2 599.9 981.5 581.3 981.8 607.2 982.1 582.0 982.4 592.2 982.7 637.5 983.0 588.0 983.2 588.9 983.5 600.0 983.8 585.6 984.1 588.3 984.4 584.4 984.7 598.0 985.0 593.2 985.3 594.6 985.5 586.5 985.8 591.1 986.1 594.4 986.4 576.9 986.7 590.7 987.0 578.6 987.3 580.3 987.5 591.5 987.8 599.4 988.1 584.4 988.4 580.7 988.7 576.9 989.0 582.4 989.3 581.9 989.5 589.5 989.8 590.0 990.1 561.1 990.4 576.1 990.7 594.0 991.0 581.9 991.3 580.7 991.6 597.0 991.8 586.0 992.1 579.7 992.4 571.7 992.7 571.9 993.0 586.4 993.3 586.2 993.6 587.2 993.8 582.2 994.1 577.6 994.4 591.6 994.7 585.3 995.0 588.4 995.3 589.8 995.6 588.0 995.9 570.9 996.1 571.6 996.4 573.6 996.7 596.6 997.0 582.2 997.3 566.9 997.6 581.4 997.9 589.7 998.1 580.1 998.4 586.4 998.7 587.4 999.0 582.6 999.3 581.0 999.6 585.7 999.9 584.6 1000.2 591.9 1000.4 584.8 1000.7 579.2 1001.0 583.7 1001.3 585.7 1001.6 595.0 1001.9 576.2 1002.2 593.0 1002.4 579.5 1002.7 587.1 1003.0 578.6 1003.3 576.8 1003.6 586.8 1003.9 606.7 1004.2 599.5 1004.4 591.6 1004.7 591.2 1005.0 582.3 1005.3 569.8 1005.6 579.4 1005.9 585.3 1006.2 574.3 1006.5 585.6 1006.7 577.8 1007.0 581.3 1007.3 598.2 1007.6 576.9 1007.9 571.0 1008.2 586.4 1008.5 578.2 1008.7 579.9 1009.0 585.6 1009.3 586.3 1009.6 576.2 1009.9 588.1 1010.2 587.3 1010.5 554.1 1010.8 576.4 1011.0 571.6 1011.3 587.2 1011.6 592.6 1011.9 574.8 1012.2 593.8 1012.5 585.5 1012.8 583.9 1013.0 569.6 1013.3 581.8 1013.6 590.7 1013.9 581.9 1014.2 571.8 1014.5 594.7 1014.8 591.0 1015.1 573.7 1015.3 580.2 1015.6 588.4 1015.9 582.5 1016.2 580.4 1016.5 589.3 1016.8 585.0 1017.1 570.2 1017.3 578.5 1017.6 572.7 1017.9 581.2 1018.2 585.2 1018.5 579.0 1018.8 588.0 1019.1 578.8 1019.3 583.9 1019.6 584.1 1019.9 584.2 1020.2 589.4 1020.5 572.7 1020.8 594.0 1021.1 581.7 1021.4 592.9 1021.6 577.4 1021.9 621.6 1022.2 583.2 1022.5 581.5 1022.8 582.6 1023.1 584.1 1023.4 583.0 1023.6 583.3 1023.9 589.4 1024.2 588.3 1024.5 588.0 1024.8 582.7 1025.1 590.2 1025.4 576.6 1025.7 596.6 1025.9 573.7 1026.2 589.7 1026.5 581.1 1026.8 585.4 1027.1 586.4 1027.4 580.8 1027.7 572.1 1027.9 585.0 1028.2 584.1 1028.5 587.4 1028.8 568.3 1029.1 574.2 1029.4 574.2 1029.7 581.8 1030.0 595.5 1030.2 577.9 1030.5 594.0 1030.8 585.3 1031.1 573.4 1031.4 584.5 1031.7 585.0 1032.0 595.3 1032.2 574.4 1032.5 576.4 1032.8 582.8 1033.1 576.5 1033.4 590.7 1033.7 585.7 1034.0 577.4 1034.3 572.4 1034.5 578.9 1034.8 587.6 1035.1 582.3 1035.4 570.6 1035.7 583.0 1036.0 576.9 1036.3 575.6 1036.5 582.8 1036.8 620.1 1037.1 591.9 1037.4 583.1 1037.7 578.7 1038.0 574.4 1038.3 569.6 1038.5 582.5 1038.8 575.6 1039.1 579.9 1039.4 584.7 1039.7 584.6 1040.0 579.3 1040.3 578.8 1040.6 584.2 1040.8 558.7 1041.1 578.7 1041.4 573.6 1041.7 606.9 1042.0 557.9 1042.3 594.1 1042.6 580.4 1042.8 576.3 1043.1 568.8 1043.4 577.7 1043.7 584.4 1044.0 565.7 1044.3 572.1 1044.6 578.7 1044.9 578.5 1045.1 578.4 1045.4 575.4 1045.7 588.8 1046.0 575.4 1046.3 580.7 1046.6 572.7 1046.9 573.8 1047.1 583.7 1047.4 566.3 1047.7 570.6 1048.0 582.5 1048.3 583.6 1048.6 580.9 1048.9 573.4 1049.2 566.8 1049.4 582.4 1049.7 581.5 1050.0 572.1 1050.3 576.2 1050.6 576.2 1050.9 576.7 1051.2 578.2 1051.4 563.2 1051.7 568.9 1052.0 578.4 1052.3 567.0 1052.6 609.3 1052.9 572.8 1053.2 574.1 1053.4 625.5 1053.7 575.8 1054.0 575.2 1054.3 567.6 1054.6 584.0 1054.9 589.1 1055.2 581.2 1055.5 575.1 1055.7 592.5 1056.0 579.6 1056.3 584.2 1056.6 586.6 1056.9 577.7 1057.2 570.4 1057.5 588.7 1057.7 577.3 1058.0 580.2 1058.3 574.4 1058.6 605.0 1058.9 583.6 1059.2 572.6 1059.5 575.8 1059.8 586.2 1060.0 593.2 1060.3 583.7 1060.6 577.0 1060.9 572.7 1061.2 582.2 1061.5 599.8 1061.8 606.8 1062.0 580.8 1062.3 576.5 1062.6 581.3 1062.9 577.6 1063.2 583.7 1063.5 582.9 1063.8 574.1 1064.1 587.1 1064.3 575.5 1064.6 566.8 1064.9 579.2 1065.2 578.4 1065.5 580.7 1065.8 583.8 1066.1 578.4 1066.3 583.1 1066.6 575.3 1066.9 577.4 1067.2 581.4 1067.5 572.8 1067.8 565.6 1068.1 566.9 1068.3 574.4 1068.6 572.3 1068.9 579.5 1069.2 573.5 1069.5 566.8 1069.8 565.9 1070.1 561.5 1070.4 581.8 1070.6 559.6 1070.9 593.0 1071.2 559.4 1071.5 570.4 1071.8 603.9 1072.1 570.4 1072.4 577.8 1072.6 567.8 1072.9 573.8 1073.2 570.4 1073.5 566.5 1073.8 564.8 1074.1 565.8 1074.4 563.7 1074.7 582.0 1074.9 562.8 1075.2 577.4 1075.5 571.1 1075.8 575.0 1076.1 580.7 1076.4 566.4 1076.7 580.4 1076.9 577.5 1077.2 563.3 1077.5 590.3 1077.8 586.6 1078.1 567.9 1078.4 578.0 1078.7 569.6 1079.0 575.5 1079.2 579.1 1079.5 570.7 1079.8 580.9 1080.1 579.8 1080.4 574.2 1080.7 583.7 1081.0 586.1 1081.2 587.6 1081.5 568.8 1081.8 561.5 1082.1 566.7 1082.4 579.7 1082.7 578.6 1083.0 581.8 1083.2 574.5 1083.5 566.9 1083.8 574.7 1084.1 574.1 1084.4 597.1 1084.7 571.4 1085.0 582.1 1085.3 575.1 1085.5 570.6 1085.8 572.2 1086.1 567.6 1086.4 561.8 1086.7 589.3 1087.0 584.0 1087.3 560.8 1087.5 569.2 1087.8 577.9 1088.1 574.7 1088.4 572.8 1088.7 565.3 1089.0 575.3 1089.3 573.1 1089.6 582.8 1089.8 562.7 1090.1 570.1 1090.4 577.0 1090.7 583.4 1091.0 574.0 1091.3 567.6 1091.6 557.5 1091.8 560.4 1092.1 577.1 1092.4 577.6 1092.7 581.7 1093.0 571.4 1093.3 580.3 1093.6 570.7 1093.9 572.6 1094.1 572.0 1094.4 582.2 1094.7 566.7 1095.0 576.5 1095.3 583.9 1095.6 575.3 1095.9 573.7 1096.1 574.6 1096.4 568.1 1096.7 566.2 1097.0 558.3 1097.3 575.5 1097.6 565.9 1097.9 593.5 1098.1 561.0 1098.4 574.7 1098.7 565.2 1099.0 576.1 1099.3 570.4 1099.6 569.8 1099.9 578.8 1100.2 578.5 1100.4 595.3 1100.7 570.2 1101.0 575.4 1101.3 575.9 1101.6 565.4 1101.9 571.7 1102.2 572.6 1102.4 588.0 1102.7 573.1 1103.0 576.3 1103.3 567.0 1103.6 577.7 1103.9 583.0 1104.2 575.7 1104.5 560.5 1104.7 580.2 1105.0 564.4 1105.3 546.0 1105.6 588.2 1105.9 568.8 1106.2 556.0 1106.5 569.7 1106.7 580.6 1107.0 574.2 1107.3 578.9 1107.6 551.4 1107.9 568.1 1108.2 589.3 1108.5 565.9 1108.8 568.5 1109.0 579.1 1109.3 576.0 1109.6 572.0 1109.9 558.9 1110.2 575.3 1110.5 577.0 1110.8 564.5 1111.0 576.1 1111.3 579.1 1111.6 572.6 1111.9 565.7 1112.2 570.8 1112.5 574.7 1112.8 561.6 1113.1 586.3 1113.3 584.1 1113.6 581.1 1113.9 579.5 1114.2 574.6 1114.5 572.0 1114.8 574.0 1115.1 573.1 1115.3 570.5 1115.6 583.4 1115.9 590.1 1116.2 572.2 1116.5 565.4 1116.8 573.2 1117.1 577.8 1117.3 570.8 1117.6 596.4 1117.9 584.5 1118.2 577.8 1118.5 569.4 1118.8 572.5 1119.1 585.7 1119.4 578.3 1119.6 570.5 1119.9 563.9 1120.2 576.5 1120.5 577.4 1120.8 564.5 1121.1 572.4 1121.4 581.2 1121.6 575.3 1121.9 562.3 1122.2 568.7 1122.5 557.3 1122.8 593.6 1123.1 568.0 1123.4 561.8 1123.7 573.4 1123.9 560.8 1124.2 568.7 1124.5 569.5 1124.8 564.4 1125.1 570.3 1125.4 574.8 1125.7 572.8 1125.9 562.3 1126.2 563.6 1126.5 565.0 1126.8 560.2 1127.1 571.7 1127.4 568.1 1127.7 553.3 1128.0 571.9 1128.2 555.7 1128.5 566.8 1128.8 561.1 1129.1 563.1 1129.4 566.7 1129.7 564.0 1130.0 557.9 1130.2 569.9 1130.5 571.8 1130.8 558.7 1131.1 567.9 1131.4 566.4 1131.7 566.6 1132.0 568.4 1132.2 578.6 1132.5 566.4 1132.8 569.2 1133.1 575.8 1133.4 570.4 1133.7 564.8 1134.0 580.3 1134.3 590.2 1134.5 557.6 1134.8 570.8 1135.1 564.4 1135.4 569.9 1135.7 562.8 1136.0 567.4 1136.3 571.4 1136.5 579.9 1136.8 561.8 1137.1 579.8 1137.4 573.4 1137.7 556.3 1138.0 567.3 1138.3 568.4 1138.6 568.0 1138.8 567.1 1139.1 571.3 1139.4 566.2 1139.7 569.7 1140.0 570.8 1140.3 564.9 1140.6 563.6 1140.8 565.6 1141.1 561.1 1141.4 554.4 1141.7 555.4 1142.0 567.0 1142.3 575.6 1142.6 559.4 1142.9 566.8 1143.1 562.0 1143.4 570.1 1143.7 561.4 1144.0 575.6 1144.3 566.4 1144.6 577.4 1144.9 553.2 1145.1 569.6 1145.4 582.9 1145.7 558.7 1146.0 560.9 1146.3 558.1 1146.6 576.1 1146.9 565.4 1147.1 558.7 1147.4 569.5 1147.7 565.4 1148.0 569.8 1148.3 570.4 1148.6 558.3 1148.9 573.8 1149.2 567.9 1149.4 564.1 1149.7 567.8 1150.0 562.1 1150.3 582.3 1150.6 559.9 1150.9 576.5 1151.2 569.5 1151.4 570.3 1151.7 564.4 1152.0 569.1 1152.3 570.7 1152.6 562.7 1152.9 552.8 1153.2 571.8 1153.5 572.2 1153.7 571.6 1154.0 576.0 1154.3 612.2 1154.6 570.5 1154.9 562.0 1155.2 570.6 1155.5 572.8 1155.7 567.6 1156.0 572.4 1156.3 547.3 1156.6 555.5 1156.9 566.2 1157.2 578.4 1157.5 570.2 1157.8 572.6 1158.0 572.3 1158.3 581.4 1158.6 569.5 1158.9 599.2 1159.2 570.5 1159.5 574.8 1159.8 563.0 1160.0 571.7 1160.3 581.6 1160.6 606.5 1160.9 559.9 1161.2 557.1 1161.5 573.8 1161.8 566.9 1162.0 561.8 1162.3 559.3 1162.6 569.2 1162.9 563.9 1163.2 569.1 1163.5 578.9 1163.8 559.5 1164.1 566.5 1164.3 563.0 1164.6 567.4 1164.9 572.1 1165.2 569.3 1165.5 563.3 1165.8 574.6 1166.1 554.4 1166.3 549.0 1166.6 581.3 1166.9 558.3 1167.2 567.8 1167.5 560.1 1167.8 562.9 1168.1 565.4 1168.4 557.5 1168.6 563.0 1168.9 553.0 1169.2 561.1 1169.5 573.6 1169.8 564.4 1170.1 563.1 1170.4 567.2 1170.6 571.9 1170.9 549.2 1171.2 610.6 1171.5 563.5 1171.8 574.8 1172.1 559.4 1172.4 564.3 1172.7 539.9 1172.9 551.7 1173.2 568.4 1173.5 569.0 1173.8 555.8 1174.1 556.4 1174.4 561.9 1174.7 559.1 1174.9 566.5 1175.2 564.5 1175.5 564.4 1175.8 579.6 1176.1 559.2 1176.4 558.9 1176.7 570.9 1176.9 568.2 1177.2 562.1 1177.5 559.1 1177.8 564.0 1178.1 567.3 1178.4 560.9 1178.7 562.9 1179.0 570.7 1179.2 565.8 1179.5 605.9 1179.8 558.5 1180.1 572.4 1180.4 568.6 1180.7 565.5 1181.0 562.3 1181.2 545.5 1181.5 563.4 1181.8 554.4 1182.1 556.2 1182.4 552.3 1182.7 549.0 1183.0 556.9 1183.3 567.6 1183.5 589.7 1183.8 549.7 1184.1 544.9 1184.4 550.9 1184.7 542.8 1185.0 554.8 1185.3 565.5 1185.5 558.7 1185.8 557.3 1186.1 552.7 1186.4 553.1 1186.7 565.4 1187.0 550.8 1187.3 563.2 1187.6 557.2 1187.8 554.6 1188.1 554.3 1188.4 555.6 1188.7 563.2 1189.0 560.4 1189.3 552.9 1189.6 562.9 1189.8 568.1 1190.1 578.0 1190.4 559.9 1190.7 566.5 1191.0 560.2 1191.3 567.9 1191.6 563.5 1191.9 563.1 1192.1 553.8 1192.4 566.9 1192.7 569.2 1193.0 560.0 1193.3 555.0 1193.6 567.4 1193.9 557.4 1194.1 560.9 1194.4 557.5 1194.7 574.3 1195.0 560.5 1195.3 562.9 1195.6 559.7 1195.9 566.0 1196.1 562.0 1196.4 576.6 1196.7 561.2 1197.0 551.3 1197.3 559.6 1197.6 560.5 1197.9 558.5 1198.2 550.8 1198.4 565.7 1198.7 571.3 1199.0 568.7 1199.3 565.5 1199.6 560.0 1199.9 554.7 1200.2 565.8 1200.4 567.8 1200.7 554.2 1201.0 552.8 1201.3 566.0 1201.6 555.0 1201.9 561.8 1202.2 563.9 1202.5 561.3 1202.7 566.5 1203.0 572.5 1203.3 570.5 1203.6 565.7 1203.9 558.1 1204.2 557.4 1204.5 553.9 1204.7 565.6 1205.0 560.0 1205.3 570.0 1205.6 566.6 1205.9 552.0 1206.2 560.1 1206.5 545.4 1206.8 553.8 1207.0 561.9 1207.3 563.3 1207.6 573.0 1207.9 548.5 1208.2 550.5 1208.5 531.7 1208.8 542.4 1209.0 554.8 1209.3 564.5 1209.6 569.6 1209.9 559.5 1210.2 556.9 1210.5 567.1 1210.8 551.5 1211.0 549.5 1211.3 563.5 1211.6 558.2 1211.9 566.5 1212.2 549.1 1212.5 562.9 1212.8 564.6 1213.1 570.6 1213.3 563.9 1213.6 569.0 1213.9 548.9 1214.2 552.0 1214.5 565.5 1214.8 563.1 1215.1 557.2 1215.3 555.9 1215.6 564.4 1215.9 547.0 1216.2 552.1 1216.5 542.1 1216.8 576.8 1217.1 568.1 1217.4 551.4 1217.6 554.9 1217.9 558.5 1218.2 564.7 1218.5 552.6 1218.8 559.9 1219.1 546.1 1219.4 547.8 1219.6 549.0 1219.9 568.9 1220.2 553.0 1220.5 542.4 1220.8 541.6 1221.1 545.7 1221.4 546.3 1221.7 560.0 1221.9 543.6 1222.2 540.4 1222.5 550.9 1222.8 550.1 1223.1 554.8 1223.4 552.2 1223.7 555.8 1223.9 550.0 1224.2 589.7 1224.5 564.5 1224.8 558.0 1225.1 550.5 1225.4 552.0 1225.7 543.0 1225.9 520.7 1226.2 544.3 1226.5 554.2 1226.8 546.2 1227.1 559.3 1227.4 559.2 1227.7 547.9 1228.0 552.9 1228.2 560.6 1228.5 548.1 1228.8 544.6 1229.1 549.8 1229.4 546.0 1229.7 549.0 1230.0 549.3 1230.2 542.6 1230.5 570.0 1230.8 559.0 1231.1 580.4 1231.4 560.9 1231.7 565.2 1232.0 556.3 1232.3 562.5 1232.5 557.4 1232.8 564.0 1233.1 559.3 1233.4 546.6 1233.7 565.1 1234.0 570.3 1234.3 547.2 1234.5 551.9 1234.8 557.8 1235.1 560.4 1235.4 555.2 1235.7 560.0 1236.0 550.2 1236.3 559.4 1236.6 561.7 1236.8 552.9 1237.1 562.7 1237.4 552.6 1237.7 565.0 1238.0 560.2 1238.3 554.6 1238.6 560.8 1238.8 548.2 1239.1 555.8 1239.4 553.3 1239.7 568.8 1240.0 550.0 1240.3 553.1 1240.6 567.8 1240.8 551.1 1241.1 550.1 1241.4 557.4 1241.7 559.8 1242.0 583.4 1242.3 550.8 1242.6 536.1 1242.9 551.9 1243.1 535.3 1243.4 549.8 1243.7 548.2 1244.0 560.6 1244.3 546.5 1244.6 541.6 1244.9 554.6 1245.1 532.6 1245.4 551.7 1245.7 546.3 1246.0 549.8 1246.3 549.7 1246.6 608.8 1246.9 540.1 1247.2 562.1 1247.4 536.8 1247.7 553.7 1248.0 549.3 1248.3 526.9 1248.6 552.1 1248.9 546.5 1249.2 553.8 1249.4 545.9 1249.7 541.4 1250.0 532.9 1250.3 563.3 1250.6 544.7 1250.9 539.8 1251.2 537.6 1251.5 549.7 1251.7 543.5 1252.0 530.5 1252.3 541.4 1252.6 528.7 1252.9 553.0 1253.2 549.4 1253.5 544.1 1253.7 551.9 1254.0 539.8 1254.3 552.8 1254.6 542.2 1254.9 555.8 1255.2 551.1 1255.5 543.2 1255.7 540.8 1256.0 552.3 1256.3 556.5 1256.6 541.6 1256.9 553.2 1257.2 543.1 1257.5 536.8 1257.8 541.8 1258.0 557.8 1258.3 537.9 1258.6 539.0 1258.9 551.8 1259.2 550.8 1259.5 537.5 1259.8 545.9 1260.0 545.3 1260.3 540.7 1260.6 545.0 1260.9 528.6 1261.2 539.3 1261.5 565.1 1261.8 549.0 1262.1 552.3 1262.3 541.5 1262.6 559.3 1262.9 544.4 1263.2 555.4 1263.5 564.8 1263.8 561.5 1264.1 548.7 1264.3 550.0 1264.6 554.7 1264.9 552.8 1265.2 557.5 1265.5 543.4 1265.8 543.4 1266.1 554.0 1266.4 553.8 1266.6 552.0 1266.9 547.7 1267.2 552.8 1267.5 558.0 1267.8 556.5 1268.1 552.9 1268.4 556.1 1268.6 557.9 1268.9 546.2 1269.2 552.1 1269.5 548.5 1269.8 561.6 1270.1 549.0 1270.4 554.9 1270.7 556.8 1270.9 559.9 1271.2 559.5 1271.5 558.1 1271.8 553.7 1272.1 555.1 1272.4 539.7 1272.7 550.7 1272.9 552.4 1273.2 554.7 1273.5 559.8 1273.8 559.8 1274.1 551.2 1274.4 564.8 1274.7 541.8 1274.9 542.1 1275.2 564.3 1275.5 544.6 1275.8 545.4 1276.1 545.1 1276.4 548.4 1276.7 541.3 1277.0 559.2 1277.2 556.6 1277.5 548.8 1277.8 552.9 1278.1 563.7 1278.4 547.3 1278.7 545.8 1279.0 554.9 1279.2 550.6 1279.5 546.4 1279.8 568.8 1280.1 557.5 1280.4 559.9 1280.7 554.7 1281.0 562.7 1281.3 563.0 1281.5 552.1 1281.8 540.4 1282.1 562.8 1282.4 542.0 1282.7 546.7 1283.0 546.4 1283.3 544.0 1283.5 556.6 1283.8 545.2 1284.1 564.2 1284.4 580.8 1284.7 550.4 1285.0 546.9 1285.3 562.3 1285.6 565.8 1285.8 533.9 1286.1 549.1 1286.4 545.8 1286.7 551.0 1287.0 559.6 1287.3 541.4 1287.6 543.6 1287.8 547.7 1288.1 532.7 1288.4 546.4 1288.7 536.8 1289.0 548.5 1289.3 568.5 1289.6 555.5 1289.8 566.8 1290.1 548.3 1290.4 537.9 1290.7 558.8 1291.0 541.0 1291.3 593.2 1291.6 539.6 1291.9 543.4 1292.1 553.4 1292.4 542.0 1292.7 546.5 1293.0 539.7 1293.3 532.2 1293.6 547.8 1293.9 534.5 1294.1 547.2 1294.4 542.1 1294.7 590.7 1295.0 551.5 1295.3 545.7 1295.6 550.0 1295.9 542.6 1296.2 554.4 1296.4 553.8 1296.7 540.4 1297.0 542.8 1297.3 542.6 1297.6 542.5 1297.9 539.0 1298.2 543.1 1298.4 539.8 1298.7 552.1 1299.0 542.6 1299.3 551.7 1299.6 555.2 1299.9 547.7 1300.2 541.2 1300.5 574.6 1300.7 532.6 1301.0 540.5 1301.3 542.1 1301.6 544.2 1301.9 554.6 1302.2 544.2 1302.5 544.1 1302.7 531.3 1303.0 549.5 1303.3 544.4 1303.6 548.4 1303.9 541.8 1304.2 584.4 1304.5 540.1 1304.7 541.9 1305.0 540.4 1305.3 522.3 1305.6 541.9 1305.9 537.5 1306.2 541.0 1306.5 532.8 1306.8 524.2 1307.0 528.1 1307.3 538.0 1307.6 549.7 1307.9 537.2 1308.2 552.5 1308.5 546.9 1308.8 544.9 1309.0 548.9 1309.3 541.0 1309.6 543.8 1309.9 546.8 1310.2 539.0 1310.5 547.4 1310.8 533.0 1311.1 538.1 1311.3 581.6 1311.6 540.3 1311.9 540.8 1312.2 548.9 1312.5 537.3 1312.8 556.9 1313.1 542.3 1313.3 532.1 1313.6 562.8 1313.9 529.4 1314.2 561.5 1314.5 564.2 1314.8 563.6 1315.1 557.0 1315.4 553.1 1315.6 563.0 1315.9 550.7 1316.2 543.4 1316.5 555.3 1316.8 548.8 1317.1 545.2 1317.4 536.9 1317.6 550.3 1317.9 544.3 1318.2 545.7 1318.5 548.9 1318.8 551.6 1319.1 546.3 1319.4 543.7 1319.6 558.3 1319.9 551.1 1320.2 526.1 1320.5 545.7 1320.8 545.3 1321.1 535.4 1321.4 539.6 1321.7 556.4 1321.9 535.4 1322.2 552.1 1322.5 553.0 1322.8 538.8 1323.1 549.2 1323.4 559.3 1323.7 542.2 1323.9 543.5 1324.2 542.9 1324.5 557.3 1324.8 541.1 1325.1 551.7 1325.4 540.5 1325.7 556.5 1326.0 554.6 1326.2 562.1 1326.5 553.4 1326.8 539.9 1327.1 546.1 1327.4 552.1 1327.7 537.8 1328.0 546.4 1328.2 542.3 1328.5 545.4 1328.8 548.7 1329.1 546.8 1329.4 544.5 1329.7 539.2 1330.0 543.0 1330.3 540.7 1330.5 555.3 1330.8 560.7 1331.1 544.2 1331.4 545.1 1331.7 542.7 1332.0 553.1 1332.3 544.2 1332.5 552.7 1332.8 543.9 1333.1 544.7 1333.4 545.0 1333.7 541.1 1334.0 546.7 1334.3 542.9 1334.5 537.2 1334.8 530.9 1335.1 538.8 1335.4 535.5 1335.7 537.1 1336.0 528.8 1336.3 525.5 1336.6 545.7 1336.8 535.8 1337.1 538.6 1337.4 529.1 1337.7 559.0 1338.0 545.8 1338.3 553.9 1338.6 531.0 1338.8 539.3 1339.1 536.6 1339.4 538.7 1339.7 539.9 1340.0 522.3 1340.3 545.6 1340.6 557.9 1340.9 540.6 1341.1 543.8 1341.4 547.8 1341.7 548.4 1342.0 534.5 1342.3 549.9 1342.6 552.5 1342.9 540.0 1343.1 534.3 1343.4 554.9 1343.7 552.9 1344.0 553.5 1344.3 543.0 1344.6 541.8 1344.9 535.6 1345.2 546.6 1345.4 548.1 1345.7 550.8 1346.0 538.0 1346.3 550.8 1346.6 552.5 1346.9 548.1 1347.2 546.6 1347.4 543.4 1347.7 551.1 1348.0 533.5 1348.3 532.2 1348.6 554.7 1348.9 545.3 1349.2 542.3 1349.5 548.4 1349.7 555.5 1350.0 548.4 1350.3 544.3 1350.6 545.0 1350.9 556.2 1351.2 561.1 1351.5 559.9 1351.7 537.1 1352.0 547.4 1352.3 545.5 1352.6 535.2 1352.9 553.4 1353.2 542.8 1353.5 550.9 1353.7 544.4 1354.0 559.7 1354.3 548.7 1354.6 546.2 1354.9 544.9 1355.2 556.3 1355.5 547.5 1355.8 539.1 1356.0 546.3 1356.3 539.3 1356.6 540.8 1356.9 543.9 1357.2 548.5 1357.5 545.2 1357.8 552.7 1358.0 540.8 1358.3 573.9 1358.6 536.9 1358.9 529.0 1359.2 539.3 1359.5 541.4 1359.8 544.1 1360.1 539.1 1360.3 535.1 1360.6 547.3 1360.9 554.4 1361.2 555.0 1361.5 537.3 1361.8 541.1 1362.1 540.3 1362.3 556.6 1362.6 548.1 1362.9 555.3 1363.2 552.0 1363.5 547.5 1363.8 548.1 1364.1 531.1 1364.4 552.0 1364.6 547.0 1364.9 547.8 1365.2 541.5 1365.5 536.4 1365.8 547.6 1366.1 553.8 1366.4 544.4 1366.6 538.1 1366.9 548.9 1367.2 533.5 1367.5 548.1 1367.8 545.2 1368.1 543.7 1368.4 526.0 1368.6 567.7 1368.9 537.4 1369.2 547.5 1369.5 548.3 1369.8 545.2 1370.1 528.1 1370.4 530.3 1370.7 538.9 1370.9 545.3 1371.2 553.2 1371.5 543.5 1371.8 536.3 1372.1 536.1 1372.4 537.3 1372.7 545.5 1372.9 536.4 1373.2 541.4 1373.5 533.6 1373.8 538.2 1374.1 534.2 1374.4 537.4 1374.7 543.2 1375.0 530.8 1375.2 547.1 1375.5 534.2 1375.8 542.2 1376.1 576.0 1376.4 566.8 1376.7 542.1 1377.0 545.6 1377.2 544.7 1377.5 545.9 1377.8 537.2 1378.1 534.8 1378.4 537.6 1378.7 548.3 1379.0 535.7 1379.3 529.6 1379.5 544.9 1379.8 543.0 1380.1 529.5 1380.4 537.4 1380.7 528.0 1381.0 538.4 1381.3 546.5 1381.5 536.1 1381.8 536.1 1382.1 533.4 1382.4 541.7 1382.7 560.2 1383.0 520.2 1383.3 539.2 1383.5 523.2 1383.8 543.0 1384.1 532.8 1384.4 531.5 1384.7 527.6 1385.0 533.9 1385.3 538.4 1385.6 532.6 1385.8 544.1 1386.1 551.3 1386.4 544.1 1386.7 520.9 1387.0 526.2 1387.3 518.6 1387.6 528.4 1387.8 542.8 1388.1 539.2 1388.4 529.5 1388.7 537.9 1389.0 538.8 1389.3 539.8 1389.6 537.5 1389.9 546.0 1390.1 529.0 1390.4 537.5 1390.7 523.1 1391.0 520.4 1391.3 533.3 1391.6 525.3 1391.9 525.1 1392.1 531.9 1392.4 535.0 1392.7 524.5 1393.0 529.4 1393.3 535.8 1393.6 538.5 1393.9 535.0 1394.2 528.5 1394.4 530.6 1394.7 586.7 1395.0 537.4 1395.3 535.4 1395.6 539.9 1395.9 537.9 1396.2 544.7 1396.4 543.7 1396.7 536.0 1397.0 536.6 1397.3 569.6 1397.6 523.1 1397.9 540.4 1398.2 534.3 1398.4 537.6 1398.7 543.3 1399.0 535.0 1399.3 532.1 1399.6 540.2 1399.9 536.7 1400.2 519.7 1400.5 547.0 1400.7 542.1 1401.0 536.5 1401.3 540.7 1401.6 546.6 1401.9 544.2 1402.2 542.4 1402.5 542.7 1402.7 540.4 1403.0 529.2 1403.3 539.2 1403.6 543.6 1403.9 535.9 1404.2 536.2 1404.5 548.8 1404.8 545.5 1405.0 549.2 1405.3 538.9 1405.6 535.1 1405.9 543.1 1406.2 532.6 1406.5 545.9 1406.8 544.2 1407.0 542.5 1407.3 540.8 1407.6 530.1 1407.9 550.4 1408.2 538.3 1408.5 541.9 1408.8 534.0 1409.1 552.3 1409.3 551.0 1409.6 530.2 1409.9 533.5 1410.2 534.7 1410.5 543.4 1410.8 534.7 1411.1 542.1 1411.3 550.0 1411.6 542.8 1411.9 543.5 1412.2 548.9 1412.5 545.3 1412.8 545.9 1413.1 536.7 1413.3 533.1 1413.6 531.8 1413.9 531.6 1414.2 546.9 1414.5 534.7 1414.8 532.6 1415.1 535.2 1415.4 544.8 1415.6 558.8 1415.9 536.2 1416.2 543.2 1416.5 530.4 1416.8 547.4 1417.1 532.5 1417.4 539.4 1417.6 545.7 1417.9 539.1 1418.2 536.7 1418.5 529.4 1418.8 501.4 1419.1 526.0 1419.4 529.2 1419.7 537.8 1419.9 537.4 1420.2 532.7 1420.5 536.0 1420.8 545.1 1421.1 547.7 1421.4 526.9 1421.7 531.1 1421.9 517.2 1422.2 534.8 1422.5 523.1 1422.8 529.2 1423.1 526.3 1423.4 528.9 1423.7 521.0 1424.0 524.9 1424.2 531.8 1424.5 528.8 1424.8 529.4 1425.1 526.9 1425.4 525.6 1425.7 530.3 1426.0 531.2 1426.2 527.0 1426.5 539.8 1426.8 524.0 1427.1 524.4 1427.4 527.8 1427.7 535.3 1428.0 527.7 1428.3 544.2 1428.5 524.9 1428.8 521.3 1429.1 525.3 1429.4 522.3 1429.7 530.3 1430.0 523.7 1430.3 525.2 1430.5 531.6 1430.8 530.4 1431.1 543.6 1431.4 541.7 1431.7 524.9 1432.0 525.0 1432.3 538.8 1432.5 544.3 1432.8 547.8 1433.1 525.3 1433.4 531.4 1433.7 520.1 1434.0 524.9 1434.3 519.5 1434.6 528.3 1434.8 538.5 1435.1 537.0 1435.4 526.5 1435.7 544.9 1436.0 530.4 1436.3 537.6 1436.6 525.1 1436.8 538.5 1437.1 539.8 1437.4 550.6 1437.7 557.8 1438.0 526.5 1438.3 532.1 1438.6 538.5 1438.9 529.3 1439.1 537.6 1439.4 529.5 1439.7 533.4 1440.0 528.5 1440.3 541.0 1440.6 539.0 1440.9 520.8 1441.1 532.0 1441.4 535.7 1441.7 541.2 1442.0 538.6 1442.3 533.3 1442.6 544.0 1442.9 535.8 1443.2 537.7 1443.4 550.4 1443.7 536.4 1444.0 528.0 1444.3 540.4 1444.6 539.2 1444.9 559.5 1445.2 542.9 1445.4 551.6 1445.7 539.1 1446.0 543.0 1446.3 544.8 1446.6 530.3 1446.9 539.9 1447.2 546.4 1447.4 546.2 1447.7 529.8 1448.0 535.6 1448.3 554.5 1448.6 537.2 1448.9 545.2 1449.2 545.8 1449.5 507.4 1449.7 536.0 1450.0 547.2 1450.3 540.8 1450.6 535.8 1450.9 540.9 1451.2 536.6 1451.5 544.3 1451.7 529.4 1452.0 527.7 1452.3 542.6 1452.6 547.7 1452.9 540.2 1453.2 530.0 1453.5 534.2 1453.8 535.6 1454.0 533.4 1454.3 545.0 1454.6 534.0 1454.9 534.0 1455.2 537.4 1455.5 526.6 1455.8 536.8 1456.0 536.3 1456.3 526.1 1456.6 500.4 1456.9 530.1 1457.2 528.6 1457.5 527.2 1457.8 527.4 1458.1 536.7 1458.3 523.3 1458.6 514.5 1458.9 526.3 1459.2 530.8 1459.5 520.2 1459.8 524.1 1460.1 534.0 1460.3 529.2 1460.6 532.6 1460.9 520.9 1461.2 537.8 1461.5 519.1 1461.8 533.2 1462.1 526.0 1462.3 531.4 1462.6 525.4 1462.9 519.8 1463.2 523.8 1463.5 537.3 1463.8 530.4 1464.1 527.6 1464.4 490.4 1464.6 532.6 1464.9 532.0 1465.2 534.9 1465.5 529.8 1465.8 524.8 1466.1 537.0 1466.4 519.7 1466.6 520.9 1466.9 524.4 1467.2 525.9 1467.5 512.8 1467.8 538.5 1468.1 534.9 1468.4 515.3 1468.7 540.0 1468.9 528.8 1469.2 532.4 1469.5 537.9 1469.8 538.0 1470.1 532.5 1470.4 528.9 1470.7 527.1 1470.9 501.1 1471.2 529.8 1471.5 529.9 1471.8 525.4 1472.1 534.2 1472.4 539.0 1472.7 522.9 1473.0 543.9 1473.2 524.3 1473.5 518.8 1473.8 536.9 1474.1 543.8 1474.4 533.4 1474.7 524.7 1475.0 533.8 1475.2 518.9 1475.5 521.6 1475.8 533.3 1476.1 489.3 1476.4 536.3 1476.7 529.0 1477.0 523.9 1477.2 515.9 1477.5 544.2 1477.8 514.6 1478.1 536.2 1478.4 502.1 1478.7 532.1 1479.0 523.7 1479.3 514.4 1479.5 522.1 1479.8 517.1 1480.1 535.0 1480.4 534.4 1480.7 575.5 1481.0 530.4 1481.3 525.5 1481.5 528.8 1481.8 535.0 1482.1 524.9 1482.4 536.9 1482.7 531.8 1483.0 524.4 1483.3 533.3 1483.6 526.9 1483.8 522.1 1484.1 516.0 1484.4 518.1 1484.7 520.5 1485.0 523.4 1485.3 536.3 1485.6 533.3 1485.8 533.5 1486.1 531.1 1486.4 528.2 1486.7 534.2 1487.0 530.3 1487.3 500.1 1487.6 530.3 1487.9 541.3 1488.1 529.1 1488.4 528.0 1488.7 529.5 1489.0 511.1 1489.3 519.9 1489.6 514.2 1489.9 531.0 1490.1 520.9 1490.4 524.6 1490.7 527.0 1491.0 532.5 1491.3 524.7 1491.6 540.5 1491.9 519.3 1492.1 505.9 1492.4 515.5 1492.7 541.8 1493.0 525.1 1493.3 532.2 1493.6 531.3 1493.9 528.9 1494.2 518.5 1494.4 521.9 1494.7 533.6 1495.0 523.5 1495.3 526.6 1495.6 513.0 1495.9 538.8 1496.2 529.1 1496.4 535.3 1496.7 528.8 1497.0 543.5 1497.3 535.6 1497.6 529.8 1497.9 533.5 1498.2 535.7 1498.5 530.2 1498.7 533.5 1499.0 536.3 1499.3 531.4 1499.6 529.5" stroke="#ff0000"/>
<path d="M632.8 1219.0L633.0 1216.2 633.1 1213.4 633.3 1210.5 633.4 1207.7 633.6 1204.9 633.7 1202.1 633.9 1199.3 634.1 1196.5 634.2 1193.6 634.4 1190.8 634.5 1188.0 634.7 1185.2 634.8 1182.4 635.0 1179.6 635.2 1176.7 635.3 1173.9 635.5 1171.1 635.6 1168.3 635.8 1165.5 636.0 1162.7 636.1 1159.8 636.3 1157.0 636.4 1154.2 636.6 1151.4 636.7 1148.6 636.9 1145.8 637.1 1142.9 637.2 1140.1 637.4 1137.3 637.5 1134.5 637.7 1131.7 637.8 1128.9 638.0 1126.0 638.2 1123.2 638.3 1120.4 638.5 1117.6 638.6 1114.8 638.8 1112.0 638.9 1109.2 639.1 1106.3 639.3 1103.5 639.4 1100.7 639.6 1097.9 639.7 1095.1 639.9 1092.3 640.0 1089.4 640.2 1086.6 640.4 1083.8 640.5 1081.0 640.7 1078.2 640.8 1075.4 641.0 1072.5 641.2 1069.7 641.3 1066.9 641.5 1064.1 641.6 1061.3 641.8 1058.5 641.9 1055.6 642.1 1052.8 642.3 1050.0 642.4 1047.2 642.6 1044.4 642.7 1041.6 642.9 1038.7 643.0 1035.9 643.2 1033.1 643.4 1030.3 643.5 1027.5 643.7 1024.7 643.8 1021.8 644.0 1019.0 644.1 1016.2 644.3 1013.4 644.5 1010.6 644.6 1007.8 644.8 1004.9 644.9 1002.1 645.1 999.3 645.3 996.5 645.4 993.7 645.6 990.9 645.7 988.0 645.9 985.2 646.0 982.4 646.2 979.6 646.4 976.8 646.5 974.0 646.7 971.1 646.8 968.3 647.0 965.5 647.1 962.7 647.3 959.9 647.5 955.0 647.6 950.1 647.8 945.2 647.9 940.3 648.1 935.4 648.2 930.5 648.4 925.6 648.6 920.7 648.7 915.8 648.9 910.9 649.0 906.0 649.2 901.0 649.3 896.1 649.5 891.2 649.7 886.3 649.8 881.4 650.0 876.5 650.1 871.6 650.3 866.7 650.5 861.8 650.6 856.9 650.8 852.0 650.9 847.1 651.1 842.2 651.2 837.3 651.4 832.4 651.6 827.5 651.7 822.6 651.9 817.7 652.0 812.8 652.2 807.9 652.3 803.0 652.5 798.1 652.7 793.2 652.8 788.3 653.0 783.4 653.1 778.5 653.3 773.6 653.4 768.7 653.6 763.8 653.8 758.9 653.9 754.0 654.1 749.1 654.2 744.2 654.4 739.3 654.5 734.4 654.7 729.5 654.9 724.6 655.0 719.7 655.2 714.8 655.3 709.9 655.5 704.9 655.7 701.4 655.8 700.0 656.0 698.6 656.1 697.2 656.3 695.8 656.4 694.4 656.6 693.0 656.8 691.6 656.9 690.2 657.1 688.8 657.2 687.4 657.4 686.0 657.5 684.6 657.7 683.2 657.9 681.8 658.0 680.4 658.2 679.0 658.3 677.6 658.5 676.2 658.6 674.8 658.8 673.4 659.0 672.0 659.1 670.6 659.3 669.2 659.4 667.8 659.6 666.4 659.6 666.4 659.9 664.0 660.2 661.0 660.5 658.5 660.7 658.2 661.0 652.0 661.3 653.2 661.6 654.4 661.9 651.3 662.2 652.6 662.5 652.1 662.7 651.8 663.0 649.5 663.3 650.5 663.6 654.9 663.9 645.0 664.2 649.0 664.5 639.9 664.7 642.3 665.0 640.9 665.3 642.4 665.6 634.8 665.9 644.6 666.2 649.0 666.5 639.7 666.8 661.7 667.0 644.3 667.3 639.5 667.6 644.2 667.9 629.8 668.2 633.9 668.5 638.6 668.8 643.0 669.0 645.0 669.3 645.0 669.6 642.1 669.9 630.6 670.2 631.7 670.5 617.6 670.8 639.1 671.1 654.9 671.3 630.3 671.6 624.4 671.9 638.0 672.2 621.4 672.5 619.2 672.8 693.3 673.1 641.0 673.3 648.5 673.6 631.3 673.9 629.8 674.2 631.0 674.5 648.8 674.8 644.4 675.1 650.9 675.4 652.8 675.6 650.4 675.9 652.8 676.2 639.4 676.5 633.7 676.8 631.9 677.1 638.2 677.4 644.5 677.6 638.3 677.9 632.8 678.2 641.1 678.5 637.8 678.8 641.3 679.1 643.4 679.4 638.0 679.7 686.9 679.9 628.1 680.2 653.0 680.5 633.2 680.8 650.2 681.1 622.3 681.4 628.0 681.7 643.6 681.9 639.7 682.2 645.7 682.5 634.9 682.8 629.9 683.1 608.9 683.4 645.9 683.7 620.4 683.9 637.4 684.2 628.7 684.5 622.4 684.8 625.2 685.1 625.9 685.4 631.4 685.7 629.2 686.0 627.3 686.2 616.9 686.5 642.2 686.8 632.6 687.1 639.6 687.4 636.6 687.7 634.9 688.0 616.6 688.2 606.5 688.5 614.0 688.8 638.3 689.1 626.2 689.4 637.7 689.7 622.6 690.0 614.7 690.3 621.3 690.5 618.6 690.8 628.3 691.1 645.7 691.4 645.9 691.7 627.8 692.0 621.3 692.3 614.5 692.5 629.9 692.8 625.7 693.1 623.7 693.4 615.8 693.7 626.3 694.0 635.8 694.3 614.6 694.6 620.6 694.8 620.5 695.1 635.8 695.4 623.2 695.7 639.0 696.0 641.2 696.3 623.7 696.6 624.9 696.8 614.6 697.1 605.6 697.4 619.0 697.7 600.9 698.0 622.9 698.3 609.3 698.6 628.0 698.8 614.0 699.1 617.7 699.4 616.3 699.7 608.4 700.0 631.7 700.3 612.3 700.6 620.9 700.9 611.8 701.1 609.0 701.4 616.2 701.7 616.2 702.0 623.6 702.3 607.3 702.6 619.0 702.9 608.4 703.1 626.3 703.4 599.8 703.7 622.7 704.0 602.0 704.3 617.5 704.6 608.1 704.9 614.8 705.2 607.1 705.4 613.7 705.7 601.7 706.0 607.5 706.3 607.5 706.6 598.1 706.9 577.7 707.2 601.6 707.4 613.4 707.7 628.1 708.0 609.4 708.3 615.8 708.6 597.6 708.9 618.3 709.2 613.0 709.5 611.1 709.7 631.4 710.0 608.2 710.3 622.4 710.6 599.3 710.9 596.7 711.2 612.6 711.5 627.5 711.7 610.5 712.0 610.4 712.3 605.1 712.6 614.7 712.9 623.2 713.2 613.1 713.5 620.5 713.7 594.6 714.0 618.2 714.3 617.6 714.6 611.8 714.9 623.1 715.2 615.4 715.5 612.4 715.8 615.7 716.0 613.3 716.3 598.9 716.6 606.4 716.9 623.1 717.2 614.2 717.5 602.8 717.8 615.8 718.0 608.5 718.3 609.2 718.6 603.5 718.9 609.9 719.2 609.1 719.5 615.5 719.8 603.4 720.1 615.1 720.3 589.2 720.6 605.4 720.9 606.8 721.2 596.6 721.5 604.4 721.8 602.2 722.1 603.1 722.3 609.0 722.6 610.4 722.9 607.8 723.2 589.9 723.5 606.3 723.8 603.8 724.1 603.9 724.4 592.7 724.6 625.3 724.9 607.7 725.2 593.4 725.5 597.4 725.8 601.2 726.1 593.4 726.4 610.2 726.6 590.1 726.9 562.8 727.2 607.3 727.5 582.6 727.8 589.6 728.1 586.6 728.4 611.4 728.6 600.1 728.9 602.4 729.2 591.4 729.5 584.5 729.8 615.5 730.1 597.1 730.4 598.5 730.7 587.7 730.9 597.6 731.2 609.4 731.5 599.1 731.8 607.2 732.1 604.8 732.4 597.0 732.7 602.1 732.9 595.0 733.2 612.2 733.5 575.7 733.8 585.9 734.1 591.2 734.4 610.5 734.7 618.8 735.0 606.6 735.2 600.7 735.5 577.3 735.8 586.1 736.1 648.1 736.4 587.0 736.7 586.8 737.0 598.2 737.2 586.7 737.5 595.0 737.8 604.2 738.1 609.0 738.4 598.8 738.7 588.0 739.0 610.1 739.3 612.3 739.5 591.5 739.8 622.4 740.1 579.0 740.4 600.3 740.7 588.9 741.0 578.0 741.3 609.3 741.5 605.4 741.8 573.9 742.1 597.8 742.4 596.2 742.7 592.8 743.0 584.9 743.3 582.3 743.5 593.9 743.8 598.1 744.1 631.0 744.4 592.2 744.7 582.7 745.0 594.0 745.3 578.1 745.6 603.7 745.8 590.6 746.1 579.1 746.4 583.7 746.7 593.0 747.0 604.7 747.3 603.2 747.6 598.0 747.8 593.7 748.1 599.1 748.4 610.6 748.7 603.7 749.0 591.7 749.3 588.6 749.6 609.7 749.9 599.7 750.1 612.0 750.4 601.1 750.7 561.8 751.0 594.5 751.3 598.0 751.6 622.9 751.9 605.2 752.1 610.9 752.4 593.1 752.7 594.7 753.0 577.4 753.3 606.5 753.6 586.2 753.9 577.0 754.2 607.8 754.4 582.4 754.7 603.5 755.0 582.8 755.3 573.4 755.6 587.1 755.9 584.1 756.2 593.2 756.4 583.8 756.7 575.7 757.0 588.2 757.3 587.8 757.6 582.9 757.9 579.0 758.2 602.6 758.5 586.7 758.7 594.1 759.0 583.2 759.3 578.4 759.6 585.7 759.9 576.7 760.2 598.8 760.5 593.6 760.7 599.5 761.0 589.9 761.3 589.8 761.6 592.9 761.9 602.9 762.2 592.3 762.5 595.9 762.7 586.2 763.0 594.7 763.3 581.2 763.6 590.2 763.9 610.2 764.2 594.2 764.5 606.2 764.8 583.5 765.0 579.1 765.3 593.0 765.6 588.5 765.9 606.6 766.2 614.2 766.5 598.1 766.8 595.3 767.0 607.3 767.3 592.0 767.6 590.0 767.9 586.9 768.2 578.3 768.5 585.4 768.8 596.6 769.1 592.2 769.3 587.5 769.6 603.2 769.9 580.7 770.2 584.9 770.5 595.6 770.8 599.6 771.1 557.4 771.3 585.7 771.6 584.8 771.9 576.7 772.2 584.5 772.5 563.0 772.8 587.3 773.1 602.7 773.4 587.3 773.6 608.9 773.9 590.3 774.2 589.1 774.5 609.3 774.8 576.3 775.1 605.6 775.4 584.8 775.6 599.9 775.9 591.9 776.2 601.2 776.5 571.3 776.8 585.2 777.1 577.8 777.4 587.5 777.6 588.3 777.9 593.4 778.2 596.9 778.5 588.7 778.8 592.7 779.1 595.4 779.4 606.7 779.7 596.2 779.9 587.1 780.2 596.9 780.5 588.5 780.8 592.7 781.1 600.6 781.4 598.9 781.7 596.7 781.9 591.8 782.2 591.0 782.5 534.4 782.8 597.8 783.1 606.4 783.4 579.8 783.7 590.3 784.0 586.6 784.2 593.7 784.5 570.8 784.8 578.8 785.1 575.0 785.4 582.6 785.7 574.4 786.0 589.1 786.2 589.9 786.5 587.3 786.8 567.6 787.1 567.7 787.4 588.1 787.7 571.1 788.0 583.6 788.3 571.7 788.5 584.8 788.8 572.5 789.1 582.5 789.4 584.0 789.7 581.3 790.0 579.5 790.3 586.4 790.5 593.8 790.8 564.5 791.1 584.3 791.4 597.8 791.7 602.1 792.0 607.2 792.3 586.2 792.5 567.4 792.8 596.1 793.1 583.6 793.4 598.2 793.7 570.3 794.0 577.5 794.3 578.0 794.6 568.4 794.8 565.8 795.1 571.9 795.4 587.6 795.7 595.0 796.0 592.5 796.3 599.6 796.6 565.8 796.8 585.2 797.1 582.4 797.4 582.0 797.7 564.8 798.0 589.7 798.3 573.2 798.6 581.7 798.9 586.2 799.1 603.3 799.4 576.2 799.7 592.2 800.0 589.5 800.3 582.9 800.6 584.2 800.9 574.3 801.1 591.4 801.4 583.3 801.7 582.1 802.0 584.5 802.3 578.1 802.6 586.9 802.9 572.7 803.2 590.9 803.4 597.7 803.7 584.2 804.0 572.3 804.3 588.3 804.6 589.2 804.9 586.3 805.2 581.2 805.4 584.2 805.7 579.3 806.0 598.6 806.3 567.5 806.6 576.0 806.9 589.6 807.2 567.9 807.4 576.5 807.7 566.4 808.0 591.6 808.3 533.0 808.6 579.4 808.9 599.4 809.2 572.3 809.5 582.3 809.7 589.0 810.0 581.3 810.3 597.9 810.6 573.8 810.9 581.5 811.2 582.2 811.5 566.2 811.7 579.7 812.0 586.6 812.3 589.6 812.6 581.4 812.9 571.0 813.2 587.1 813.5 591.8 813.8 573.4 814.0 582.0 814.3 583.1 814.6 563.2 814.9 595.1 815.2 581.7 815.5 600.9 815.8 586.9 816.0 597.4 816.3 573.3 816.6 596.3 816.9 576.1 817.2 576.5 817.5 585.1 817.8 560.2 818.1 583.6 818.3 591.8 818.6 579.1 818.9 600.7 819.2 567.7 819.5 572.9 819.8 585.9 820.1 575.9 820.3 530.2 820.6 562.7 820.9 586.8 821.2 572.5 821.5 599.9 821.8 583.0 822.1 594.9 822.3 581.3 822.6 575.5 822.9 583.5 823.2 588.1 823.5 567.4 823.8 580.5 824.1 576.2 824.4 569.1 824.6 590.5 824.9 586.6 825.2 553.7 825.5 578.9 825.8 587.1 826.1 579.3 826.4 582.1 826.6 588.2 826.9 580.0 827.2 576.0 827.5 575.7 827.8 570.0 828.1 591.5 828.4 588.9 828.7 566.7 828.9 578.1 829.2 561.9 829.5 570.3 829.8 586.4 830.1 567.4 830.4 617.4 830.7 569.5 830.9 560.0 831.2 551.3 831.5 572.1 831.8 564.6 832.1 568.3 832.4 563.6 832.7 595.6 833.0 574.9 833.2 568.5 833.5 566.9 833.8 578.8 834.1 563.9 834.4 561.5 834.7 571.6 835.0 574.7 835.2 576.3 835.5 571.9 835.8 562.2 836.1 559.5 836.4 578.6 836.7 583.4 837.0 582.4 837.3 565.7 837.5 573.3 837.8 572.8 838.1 571.4 838.4 572.7 838.7 577.8 839.0 586.8 839.3 583.1 839.5 576.3 839.8 574.0 840.1 581.5 840.4 582.2 840.7 565.3 841.0 583.1 841.3 576.7 841.5 582.0 841.8 587.2 842.1 593.6 842.4 584.3 842.7 587.0 843.0 571.0 843.3 590.0 843.6 582.8 843.8 572.5 844.1 579.6 844.4 573.5 844.7 570.0 845.0 593.4 845.3 581.2 845.6 586.0 845.8 563.6 846.1 577.1 846.4 570.8 846.7 558.8 847.0 577.9 847.3 573.4 847.6 569.7 847.9 575.7 848.1 560.8 848.4 564.6 848.7 562.4 849.0 571.1 849.3 574.5 849.6 574.3 849.9 574.0 850.1 585.9 850.4 566.6 850.7 562.1 851.0 569.7 851.3 574.2 851.6 569.0 851.9 567.1 852.2 566.0 852.4 552.1 852.7 577.2 853.0 565.6 853.3 562.5 853.6 568.4 853.9 571.5 854.2 579.1 854.4 575.1 854.7 562.9 855.0 556.0 855.3 576.1 855.6 565.7 855.9 565.4 856.2 561.0 856.4 568.4 856.7 566.7 857.0 562.7 857.3 582.3 857.6 571.1 857.9 588.3 858.2 590.5 858.5 579.8 858.7 586.6 859.0 548.6 859.3 562.9 859.6 575.3 859.9 573.8 860.2 574.7 860.5 574.9 860.7 571.2 861.0 569.1 861.3 576.7 861.6 579.6 861.9 577.0 862.2 564.5 862.5 575.8 862.8 558.0 863.0 573.8 863.3 558.4 863.6 582.3 863.9 577.4 864.2 566.2 864.5 565.9 864.8 571.8 865.0 599.6 865.3 569.3 865.6 567.1 865.9 575.0 866.2 554.1 866.5 561.5 866.8 565.7 867.1 584.9 867.3 566.2 867.6 574.1 867.9 566.1 868.2 561.4 868.5 577.2 868.8 547.1 869.1 562.3 869.3 569.3 869.6 574.2 869.9 581.3 870.2 578.0 870.5 583.9 870.8 563.1 871.1 571.7 871.3 584.3 871.6 573.3 871.9 585.6 872.2 604.5 872.5 562.7 872.8 563.3 873.1 588.3 873.4 581.4 873.6 573.0 873.9 578.6 874.2 583.2 874.5 580.2 874.8 577.7 875.1 580.8 875.4 573.7 875.6 577.9 875.9 582.9 876.2 575.6 876.5 591.3 876.8 562.3 877.1 592.0 877.4 576.5 877.7 572.5 877.9 571.8 878.2 573.1 878.5 563.6 878.8 585.8 879.1 575.8 879.4 573.6 879.7 579.4 879.9 580.1 880.2 562.4 880.5 580.8 880.8 578.4 881.1 576.3 881.4 575.5 881.7 571.8 882.0 575.0 882.2 569.4 882.5 571.4 882.8 568.0 883.1 559.5 883.4 580.0 883.7 556.7 884.0 576.2 884.2 565.7 884.5 570.5 884.8 574.7 885.1 590.3 885.4 557.1 885.7 579.3 886.0 579.7 886.2 562.7 886.5 572.1 886.8 555.3 887.1 557.6 887.4 566.9 887.7 571.3 888.0 566.9 888.3 586.4 888.5 572.8 888.8 573.3 889.1 579.3 889.4 572.8 889.7 588.9 890.0 567.2 890.3 563.8 890.5 588.0 890.8 574.8 891.1 562.0 891.4 603.2 891.7 586.1 892.0 585.8 892.3 568.8 892.6 559.8 892.8 586.9 893.1 576.5 893.4 584.0 893.7 579.5 894.0 573.9 894.3 577.1 894.6 582.9 894.8 557.0 895.1 577.7 895.4 577.7 895.7 565.6 896.0 575.4 896.3 577.1 896.6 566.1 896.9 584.1 897.1 567.2 897.4 564.2 897.7 567.2 898.0 574.5 898.3 572.5 898.6 587.8 898.9 572.6 899.1 568.3 899.4 562.5 899.7 568.7 900.0 530.9 900.3 576.8 900.6 569.1 900.9 567.0 901.1 556.6 901.4 567.3 901.7 571.6 902.0 567.6 902.3 570.8 902.6 568.1 902.9 586.0 903.2 580.1 903.4 576.1 903.7 560.5 904.0 565.3 904.3 562.9 904.6 553.4 904.9 573.4 905.2 553.1 905.4 559.8 905.7 569.7 906.0 549.2 906.3 575.8 906.6 572.8 906.9 564.1 907.2 558.2 907.5 563.4 907.7 581.0 908.0 563.9 908.3 561.7 908.6 537.3 908.9 547.8 909.2 559.1 909.5 570.0 909.7 556.6 910.0 540.9 910.3 557.6 910.6 555.9 910.9 562.8 911.2 556.7 911.5 561.9 911.8 564.1 912.0 544.7 912.3 553.4 912.6 561.5 912.9 565.8 913.2 557.1 913.5 553.6 913.8 551.0 914.0 545.3 914.3 554.7 914.6 569.3 914.9 540.5 915.2 548.5 915.5 551.7 915.8 547.2 916.1 573.3 916.3 563.2 916.6 564.6 916.9 549.2 917.2 571.2 917.5 563.5 917.8 546.8 918.1 555.0 918.3 564.7 918.6 544.2 918.9 573.9 919.2 557.8 919.5 564.3 919.8 557.8 920.1 565.3 920.3 570.7 920.6 561.4 920.9 575.7 921.2 559.1 921.5 567.1 921.8 556.0 922.1 568.9 922.4 571.3 922.6 561.8 922.9 554.4 923.2 585.1 923.5 565.3 923.8 561.0 924.1 580.2 924.4 575.5 924.6 561.9 924.9 575.8 925.2 574.4 925.5 553.1 925.8 577.8 926.1 577.4 926.4 590.9 926.7 580.0 926.9 581.4 927.2 554.6 927.5 559.3 927.8 582.1 928.1 552.5 928.4 563.4 928.7 572.0 928.9 562.8 929.2 566.5 929.5 576.8 929.8 585.5 930.1 577.4 930.4 568.7 930.7 571.5 931.0 577.0 931.2 558.2 931.5 576.4 931.8 557.9 932.1 570.0 932.4 564.0 932.7 574.7 933.0 563.9 933.2 570.5 933.5 578.7 933.8 562.3 934.1 562.1 934.4 553.5 934.7 558.1 935.0 532.6 935.2 565.4 935.5 582.1 935.8 569.2 936.1 546.6 936.4 544.3 936.7 550.8 937.0 554.7 937.3 551.8 937.5 552.5 937.8 572.6 938.1 564.5 938.4 545.4 938.7 545.2 939.0 553.7 939.3 558.7 939.5 559.2 939.8 560.6 940.1 564.1 940.4 573.2 940.7 554.1 941.0 559.7 941.3 557.5 941.6 517.6 941.8 550.1 942.1 562.0 942.4 550.3 942.7 569.5 943.0 546.0 943.3 553.3 943.6 557.5 943.8 550.5 944.1 542.4 944.4 560.1 944.7 535.2 945.0 536.4 945.3 555.7 945.6 542.1 945.9 562.1 946.1 552.4 946.4 561.8 946.7 550.2 947.0 558.6 947.3 562.3 947.6 542.0 947.9 553.3 948.1 575.2 948.4 558.9 948.7 565.4 949.0 568.3 949.3 562.7 949.6 561.9 949.9 557.5 950.1 565.3 950.4 575.4 950.7 563.4 951.0 550.6 951.3 571.5 951.6 553.4 951.9 555.1 952.2 563.6 952.4 556.7 952.7 566.6 953.0 563.5 953.3 569.3 953.6 555.6 953.9 547.3 954.2 566.2 954.4 548.8 954.7 579.5 955.0 593.3 955.3 568.9 955.6 543.5 955.9 564.7 956.2 551.8 956.5 577.7 956.7 557.5 957.0 553.0 957.3 558.3 957.6 582.8 957.9 555.6 958.2 549.3 958.5 544.2 958.7 552.3 959.0 571.2 959.3 557.1 959.6 546.4 959.9 561.9 960.2 548.6 960.5 557.9 960.8 552.2 961.0 545.6 961.3 558.8 961.6 525.3 961.9 550.1 962.2 548.1 962.5 557.8 962.8 550.2 963.0 553.0 963.3 563.9 963.6 564.5 963.9 547.5 964.2 551.0 964.5 574.6 964.8 570.1 965.0 553.1 965.3 551.0 965.6 544.8 965.9 562.1 966.2 545.2 966.5 553.8 966.8 555.8 967.1 552.5 967.3 542.2 967.6 546.4 967.9 543.5 968.2 558.3 968.5 554.6 968.8 563.0 969.1 557.4 969.3 521.2 969.6 556.8 969.9 545.9 970.2 548.7 970.5 545.6 970.8 551.6 971.1 542.9 971.4 551.8 971.6 543.9 971.9 548.3 972.2 546.2 972.5 553.7 972.8 564.7 973.1 566.6 973.4 535.1 973.6 549.7 973.9 549.3 974.2 555.1 974.5 557.9 974.8 527.0 975.1 564.3 975.4 554.6 975.7 554.6 975.9 564.8 976.2 566.2 976.5 561.1 976.8 557.8 977.1 559.3 977.4 547.3 977.7 565.9 977.9 551.2 978.2 541.3 978.5 546.7 978.8 565.6 979.1 582.5 979.4 547.0 979.7 550.1 979.9 560.1 980.2 542.5 980.5 558.0 980.8 553.0 981.1 563.4 981.4 550.4 981.7 557.0 982.0 557.4 982.2 542.3 982.5 550.0 982.8 565.5 983.1 544.8 983.4 543.0 983.7 558.2 984.0 553.8 984.2 549.3 984.5 551.9 984.8 548.1 985.1 543.0 985.4 553.4 985.7 529.3 986.0 555.2 986.3 553.4 986.5 530.0 986.8 526.0 987.1 547.8 987.4 549.8 987.7 558.0 988.0 537.4 988.3 546.4 988.5 555.9 988.8 544.2 989.1 535.2 989.4 541.5 989.7 527.3 990.0 537.0 990.3 543.7 990.6 548.1 990.8 542.6 991.1 536.4 991.4 539.7 991.7 537.9 992.0 545.7 992.3 524.1 992.6 536.6 992.8 549.5 993.1 560.0 993.4 532.0 993.7 542.7 994.0 552.4 994.3 546.2 994.6 550.9 994.9 564.6 995.1 550.6 995.4 562.3 995.7 547.4 996.0 550.5 996.3 539.2 996.6 551.1 996.9 546.7 997.1 553.1 997.4 524.5 997.7 563.7 998.0 541.7 998.3 549.4 998.6 556.6 998.9 549.4 999.1 555.3 999.4 558.2 999.7 549.2 1000.0 540.3 1000.3 554.2 1000.6 565.0 1000.9 557.4 1001.2 535.0 1001.4 559.2 1001.7 540.6 1002.0 553.8 1002.3 544.7 1002.6 552.6 1002.9 566.3 1003.2 555.4 1003.4 531.9 1003.7 552.8 1004.0 546.3 1004.3 554.7 1004.6 552.9 1004.9 548.7 1005.2 547.4 1005.5 531.3 1005.7 552.2 1006.0 553.8 1006.3 558.4 1006.6 564.6 1006.9 567.4 1007.2 546.3 1007.5 569.9 1007.7 539.5 1008.0 544.5 1008.3 555.2 1008.6 563.0 1008.9 551.8 1009.2 551.6 1009.5 541.0 1009.8 558.0 1010.0 554.2 1010.3 550.7 1010.6 552.3 1010.9 555.0 1011.2 564.5 1011.5 563.1 1011.8 553.5 1012.0 548.6 1012.3 536.5 1012.6 523.6 1012.9 528.5 1013.2 540.1 1013.5 525.6 1013.8 543.6 1014.0 546.8 1014.3 519.9 1014.6 550.8 1014.9 544.3 1015.2 542.6 1015.5 526.2 1015.8 545.0 1016.1 532.0 1016.3 542.8 1016.6 550.3 1016.9 536.6 1017.2 537.2 1017.5 549.5 1017.8 546.8 1018.1 546.2 1018.3 530.0 1018.6 534.8 1018.9 537.0 1019.2 580.0 1019.5 544.2 1019.8 535.6 1020.1 546.0 1020.4 553.1 1020.6 547.6 1020.9 539.5 1021.2 541.1 1021.5 532.6 1021.8 558.6 1022.1 545.4 1022.4 540.2 1022.6 553.3 1022.9 542.5 1023.2 549.2 1023.5 556.3 1023.8 535.9 1024.1 559.7 1024.4 537.9 1024.7 551.5 1024.9 556.7 1025.2 556.6 1025.5 555.5 1025.8 556.8 1026.1 546.6 1026.4 566.6 1026.7 537.8 1026.9 541.7 1027.2 536.5 1027.5 558.6 1027.8 571.0 1028.1 555.1 1028.4 550.7 1028.7 546.2 1028.9 553.6 1029.2 549.3 1029.5 546.9 1029.8 562.3 1030.1 530.8 1030.4 557.6 1030.7 544.3 1031.0 536.2 1031.2 553.1 1031.5 545.2 1031.8 529.5 1032.1 546.8 1032.4 533.9 1032.7 540.3 1033.0 587.7 1033.2 535.1 1033.5 543.4 1033.8 542.6 1034.1 531.1 1034.4 537.1 1034.7 534.3 1035.0 549.6 1035.3 537.9 1035.5 526.3 1035.8 528.9 1036.1 533.7 1036.4 541.4 1036.7 542.1 1037.0 532.1 1037.3 522.9 1037.5 535.5 1037.8 523.8 1038.1 538.7 1038.4 524.8 1038.7 545.3 1039.0 534.4 1039.3 546.1 1039.6 530.2 1039.8 567.1 1040.1 545.5 1040.4 543.8 1040.7 541.1 1041.0 551.0 1041.3 545.9 1041.6 545.5 1041.8 530.3 1042.1 524.8 1042.4 541.9 1042.7 540.5 1043.0 535.8 1043.3 542.7 1043.6 540.4 1043.8 529.9 1044.1 535.5 1044.4 538.3 1044.7 542.7 1045.0 523.6 1045.3 542.8 1045.6 535.9 1045.9 546.5 1046.1 542.2 1046.4 535.7 1046.7 540.1 1047.0 531.3 1047.3 535.5 1047.6 580.0 1047.9 557.4 1048.1 526.6 1048.4 541.2 1048.7 521.9 1049.0 535.5 1049.3 542.7 1049.6 530.5 1049.9 538.2 1050.2 535.6 1050.4 544.4 1050.7 529.9 1051.0 525.7 1051.3 540.9 1051.6 485.3 1051.9 541.5 1052.2 534.1 1052.4 551.7 1052.7 554.6 1053.0 517.3 1053.3 523.8 1053.6 526.6 1053.9 553.3 1054.2 535.6 1054.5 534.1 1054.7 537.5 1055.0 535.8 1055.3 547.4 1055.6 540.6 1055.9 550.1 1056.2 543.0 1056.5 507.7 1056.7 568.6 1057.0 543.4 1057.3 545.1 1057.6 541.3 1057.9 533.2 1058.2 539.9 1058.5 538.7 1058.7 556.0 1059.0 524.2 1059.3 535.5 1059.6 551.3 1059.9 547.5 1060.2 552.6 1060.5 531.3 1060.8 548.0 1061.0 550.6 1061.3 538.2 1061.6 533.7 1061.9 539.4 1062.2 517.0 1062.5 541.9 1062.8 545.0 1063.0 547.9 1063.3 548.4 1063.6 549.1 1063.9 540.0 1064.2 544.4 1064.5 542.4 1064.8 537.5 1065.1 543.5 1065.3 555.6 1065.6 550.1 1065.9 553.0 1066.2 560.2 1066.5 541.4 1066.8 553.4 1067.1 554.1 1067.3 552.2 1067.6 534.0 1067.9 545.0 1068.2 532.9 1068.5 543.1 1068.8 546.4 1069.1 574.8 1069.4 537.1 1069.6 541.8 1069.9 552.7 1070.2 547.5 1070.5 554.5 1070.8 546.2 1071.1 543.3 1071.4 530.7 1071.6 531.7 1071.9 538.9 1072.2 536.7 1072.5 543.7 1072.8 520.4 1073.1 532.3 1073.4 522.1 1073.7 543.4 1073.9 543.3 1074.2 537.5 1074.5 545.6 1074.8 544.5 1075.1 556.6 1075.4 538.7 1075.7 546.1 1075.9 539.7 1076.2 549.1 1076.5 563.4 1076.8 541.9 1077.1 535.5 1077.4 557.9 1077.7 554.7 1077.9 548.1 1078.2 569.3 1078.5 560.3 1078.8 527.7 1079.1 534.2 1079.4 548.9 1079.7 559.5 1080.0 538.8 1080.2 523.2 1080.5 533.5 1080.8 530.0 1081.1 549.0 1081.4 537.6 1081.7 553.3 1082.0 520.5 1082.2 533.2 1082.5 557.7 1082.8 555.0 1083.1 533.0 1083.4 535.9 1083.7 539.7 1084.0 530.9 1084.3 517.7 1084.5 532.8 1084.8 552.8 1085.1 537.4 1085.4 548.1 1085.7 543.3 1086.0 532.8 1086.3 537.4 1086.5 545.8 1086.8 536.2 1087.1 543.7 1087.4 531.3 1087.7 538.6 1088.0 532.8 1088.3 539.1 1088.6 529.9 1088.8 538.3 1089.1 537.3 1089.4 542.6 1089.7 536.2 1090.0 554.2 1090.3 513.1 1090.6 544.4 1090.8 537.3 1091.1 542.8 1091.4 543.1 1091.7 535.0 1092.0 543.6 1092.3 543.0 1092.6 551.9 1092.8 547.8 1093.1 550.2 1093.4 522.6 1093.7 551.9 1094.0 549.5 1094.3 537.8 1094.6 526.4 1094.9 555.6 1095.1 554.3 1095.4 564.6 1095.7 536.9 1096.0 553.3 1096.3 557.0 1096.6 549.3 1096.9 533.5 1097.1 540.9 1097.4 533.7 1097.7 541.7 1098.0 541.2 1098.3 535.3 1098.6 542.2 1098.9 539.0 1099.2 549.8 1099.4 547.0 1099.7 537.2 1100.0 543.9 1100.3 548.7 1100.6 535.6 1100.9 536.7 1101.2 541.9 1101.4 548.9 1101.7 533.5 1102.0 518.5 1102.3 549.4 1102.6 556.0 1102.9 548.8 1103.2 550.1 1103.5 553.0 1103.7 552.1 1104.0 533.0 1104.3 532.7 1104.6 526.6 1104.9 561.0 1105.2 544.3 1105.5 529.5 1105.7 545.0 1106.0 542.2 1106.3 549.6 1106.6 527.0 1106.9 528.7 1107.2 542.1 1107.5 540.4 1107.7 536.8 1108.0 535.0 1108.3 528.8 1108.6 535.8 1108.9 532.5 1109.2 550.0 1109.5 538.7 1109.8 552.4 1110.0 519.0 1110.3 522.5 1110.6 528.8 1110.9 525.0 1111.2 516.7 1111.5 526.6 1111.8 550.1 1112.0 537.2 1112.3 557.2 1112.6 542.9 1112.9 546.9 1113.2 535.4 1113.5 531.7 1113.8 544.0 1114.1 538.0 1114.3 532.7 1114.6 536.8 1114.9 536.9 1115.2 557.6 1115.5 539.3 1115.8 527.7 1116.1 532.6 1116.3 548.7 1116.6 537.3 1116.9 532.2 1117.2 543.6 1117.5 528.2 1117.8 541.8 1118.1 537.3 1118.4 535.1 1118.6 513.2 1118.9 536.8 1119.2 539.1 1119.5 527.0 1119.8 538.0 1120.1 531.8 1120.4 554.5 1120.6 530.7 1120.9 533.7 1121.2 545.5 1121.5 521.0 1121.8 535.9 1122.1 535.6 1122.4 546.1 1122.6 549.2 1122.9 539.6 1123.2 548.6 1123.5 530.1 1123.8 526.9 1124.1 541.1 1124.4 550.4 1124.7 539.4 1124.9 545.9 1125.2 534.7 1125.5 534.8 1125.8 540.7 1126.1 536.3 1126.4 527.5 1126.7 521.5 1126.9 542.4 1127.2 530.9 1127.5 540.0 1127.8 572.6 1128.1 525.9 1128.4 534.2 1128.7 536.5 1129.0 574.8 1129.2 539.2 1129.5 547.4 1129.8 521.0 1130.1 529.0 1130.4 534.8 1130.7 482.4 1131.0 524.9 1131.2 538.5 1131.5 531.0 1131.8 539.2 1132.1 529.9 1132.4 538.0 1132.7 512.6 1133.0 538.3 1133.3 529.8 1133.5 529.9 1133.8 537.0 1134.1 524.7 1134.4 533.8 1134.7 536.4 1135.0 532.1 1135.3 538.7 1135.5 520.1 1135.8 524.9 1136.1 521.2 1136.4 542.4 1136.7 526.9 1137.0 536.1 1137.3 527.7 1137.5 516.3 1137.8 525.4 1138.1 529.1 1138.4 516.7 1138.7 517.4 1139.0 509.4 1139.3 543.6 1139.6 523.0 1139.8 529.7 1140.1 571.3 1140.4 524.5 1140.7 536.2 1141.0 546.1 1141.3 533.6 1141.6 527.6 1141.8 507.7 1142.1 531.8 1142.4 535.9 1142.7 502.5 1143.0 528.3 1143.3 527.2 1143.6 523.7 1143.9 538.5 1144.1 532.2 1144.4 546.3 1144.7 523.7 1145.0 540.0 1145.3 551.0 1145.6 514.8 1145.9 521.0 1146.1 522.6 1146.4 522.8 1146.7 502.7 1147.0 516.5 1147.3 536.5 1147.6 509.2 1147.9 525.2 1148.2 544.7 1148.4 519.7 1148.7 509.6 1149.0 530.6 1149.3 518.6 1149.6 530.7 1149.9 496.1 1150.2 553.2 1150.4 517.9 1150.7 533.7 1151.0 526.2 1151.3 540.4 1151.6 538.5 1151.9 519.7 1152.2 533.8 1152.5 534.0 1152.7 542.1 1153.0 528.4 1153.3 523.1 1153.6 534.7 1153.9 532.1 1154.2 541.7 1154.5 517.3 1154.7 536.1 1155.0 531.7 1155.3 514.6 1155.6 532.4 1155.9 544.8 1156.2 538.9 1156.5 533.7 1156.7 513.8 1157.0 528.3 1157.3 532.5 1157.6 522.8 1157.9 518.4 1158.2 537.7 1158.5 517.4 1158.8 522.8 1159.0 526.7 1159.3 553.1 1159.6 512.7 1159.9 518.1 1160.2 533.7 1160.5 509.6 1160.8 530.6 1161.0 540.8 1161.3 525.8 1161.6 528.5 1161.9 523.5 1162.2 533.3 1162.5 519.0 1162.8 536.3 1163.1 529.8 1163.3 542.6 1163.6 538.3 1163.9 528.8 1164.2 536.7 1164.5 534.7 1164.8 532.3 1165.1 527.8 1165.3 522.9 1165.6 522.8 1165.9 520.2 1166.2 527.8 1166.5 534.7 1166.8 544.3 1167.1 532.6 1167.4 536.7 1167.6 546.1 1167.9 513.4 1168.2 546.1 1168.5 525.3 1168.8 523.3 1169.1 530.7 1169.4 504.0 1169.6 528.1 1169.9 581.7 1170.2 511.6 1170.5 535.6 1170.8 541.5 1171.1 537.5 1171.4 534.0 1171.6 527.5 1171.9 524.8 1172.2 542.3 1172.5 524.7 1172.8 507.0 1173.1 534.8 1173.4 529.4 1173.7 521.7 1173.9 517.0 1174.2 577.9 1174.5 537.6 1174.8 538.2 1175.1 518.4 1175.4 520.4 1175.7 549.4 1175.9 549.2 1176.2 540.8 1176.5 543.3 1176.8 525.3 1177.1 527.1 1177.4 510.7 1177.7 521.7 1178.0 528.0 1178.2 518.1 1178.5 537.6 1178.8 542.3 1179.1 528.7 1179.4 520.1 1179.7 544.2 1180.0 520.4 1180.2 520.6 1180.5 533.4 1180.8 526.9 1181.1 530.9 1181.4 527.4 1181.7 520.3 1182.0 535.3 1182.3 517.7 1182.5 519.1 1182.8 518.5 1183.1 545.4 1183.4 544.1 1183.7 564.2 1184.0 531.5 1184.3 532.2 1184.5 532.5 1184.8 537.7 1185.1 527.4 1185.4 531.1 1185.7 530.2 1186.0 519.2 1186.3 534.6 1186.5 536.9 1186.8 543.8 1187.1 498.8 1187.4 535.1 1187.7 516.5 1188.0 513.2 1188.3 521.6 1188.6 514.4 1188.8 522.3 1189.1 537.8 1189.4 517.7 1189.7 510.1 1190.0 526.1 1190.3 536.8 1190.6 526.4 1190.8 517.6 1191.1 517.8 1191.4 510.2 1191.7 468.1 1192.0 515.9 1192.3 539.7 1192.6 499.7 1192.9 520.4 1193.1 512.8 1193.4 524.3 1193.7 522.6 1194.0 520.7 1194.3 543.0 1194.6 507.2 1194.9 515.8 1195.1 503.1 1195.4 525.8 1195.7 517.3 1196.0 526.7 1196.3 510.3 1196.6 522.5 1196.9 513.7 1197.2 506.9 1197.4 543.1 1197.7 503.0 1198.0 520.8 1198.3 527.0 1198.6 542.3 1198.9 527.1 1199.2 546.1 1199.4 523.5 1199.7 526.0 1200.0 507.0 1200.3 527.4 1200.6 514.1 1200.9 513.0 1201.2 504.4 1201.4 526.2 1201.7 516.3 1202.0 537.7 1202.3 533.5 1202.6 525.2 1202.9 522.4 1203.2 533.3 1203.5 525.2 1203.7 487.7 1204.0 524.7 1204.3 521.3 1204.6 527.7 1204.9 505.6 1205.2 501.2 1205.5 515.8 1205.7 518.3 1206.0 500.9 1206.3 511.7 1206.6 522.3 1206.9 528.4 1207.2 520.9 1207.5 494.1 1207.8 520.5 1208.0 487.1 1208.3 514.6 1208.6 516.6 1208.9 502.0 1209.2 517.0 1209.5 511.2 1209.8 524.9 1210.0 527.1 1210.3 522.5 1210.6 559.7 1210.9 522.4 1211.2 535.1 1211.5 512.2 1211.8 518.6 1212.1 520.1 1212.3 523.6 1212.6 539.6 1212.9 503.2 1213.2 493.5 1213.5 514.0 1213.8 506.0 1214.1 508.8 1214.3 517.9 1214.6 519.9 1214.9 517.3 1215.2 511.7 1215.5 514.9 1215.8 524.9 1216.1 516.4 1216.3 517.2 1216.6 514.3 1216.9 519.0 1217.2 507.9 1217.5 519.1 1217.8 512.6 1218.1 520.7 1218.4 526.6 1218.6 530.1 1218.9 522.6 1219.2 515.9 1219.5 508.9 1219.8 521.8 1220.1 525.9 1220.4 525.8 1220.6 508.6 1220.9 519.9 1221.2 525.7 1221.5 513.8 1221.8 533.5 1222.1 519.8 1222.4 521.4 1222.7 522.3 1222.9 532.1 1223.2 511.8 1223.5 505.2 1223.8 534.0 1224.1 520.4 1224.4 515.5 1224.7 537.4 1224.9 526.1 1225.2 531.5 1225.5 522.8 1225.8 503.9 1226.1 522.8 1226.4 521.3 1226.7 507.3 1227.0 545.0 1227.2 545.7 1227.5 516.8 1227.8 518.4 1228.1 539.5 1228.4 521.7 1228.7 526.6 1229.0 525.2 1229.2 535.2 1229.5 532.0 1229.8 536.2 1230.1 527.5 1230.4 530.2 1230.7 512.0 1231.0 522.0 1231.3 542.8 1231.5 523.7 1231.8 513.7 1232.1 524.4 1232.4 516.4 1232.7 526.7 1233.0 519.2 1233.3 534.4 1233.5 517.5 1233.8 537.6 1234.1 511.6 1234.4 537.9 1234.7 543.1 1235.0 517.4 1235.3 523.6 1235.5 520.4 1235.8 516.9 1236.1 520.8 1236.4 528.6 1236.7 517.8 1237.0 516.1 1237.3 514.4 1237.6 499.9 1237.8 525.6 1238.1 517.7 1238.4 512.8 1238.7 547.2 1239.0 529.2 1239.3 523.1 1239.6 507.4 1239.8 520.0 1240.1 511.5 1240.4 524.3 1240.7 513.0 1241.0 523.7 1241.3 525.2 1241.6 516.1 1241.9 516.7 1242.1 503.2 1242.4 532.7 1242.7 512.4 1243.0 501.9 1243.3 504.3 1243.6 521.0 1243.9 523.8 1244.1 522.1 1244.4 514.5 1244.7 515.6 1245.0 514.1 1245.3 511.8 1245.6 527.8 1245.9 528.4 1246.2 529.4 1246.4 530.6 1246.7 518.8 1247.0 515.0 1247.3 493.8 1247.6 513.0 1247.9 518.0 1248.2 504.6 1248.4 525.2 1248.7 515.0 1249.0 508.9 1249.3 510.7 1249.6 514.3 1249.9 521.4 1250.2 529.8 1250.4 519.3 1250.7 523.3 1251.0 510.8 1251.3 518.5 1251.6 511.6 1251.9 532.0 1252.2 507.1 1252.5 524.2 1252.7 530.6 1253.0 528.5 1253.3 503.3 1253.6 504.1 1253.9 507.7 1254.2 525.5 1254.5 513.2 1254.7 514.8 1255.0 528.5 1255.3 522.8 1255.6 532.7 1255.9 521.4 1256.2 538.3 1256.5 520.5 1256.8 521.8 1257.0 520.4 1257.3 520.7 1257.6 501.8 1257.9 516.2 1258.2 552.1 1258.5 505.8 1258.8 504.5 1259.0 506.7 1259.3 518.5 1259.6 523.8 1259.9 520.9 1260.2 518.1 1260.5 513.6 1260.8 514.6 1261.1 503.4 1261.3 515.0 1261.6 497.0 1261.9 504.4 1262.2 518.9 1262.5 506.2 1262.8 541.8 1263.1 501.4 1263.3 510.6 1263.6 510.8 1263.9 530.6 1264.2 490.6 1264.5 517.0 1264.8 515.9 1265.1 503.7 1265.3 516.2 1265.6 522.3 1265.9 507.8 1266.2 523.5 1266.5 506.6 1266.8 512.2 1267.1 502.5 1267.4 524.6 1267.6 500.9 1267.9 509.8 1268.2 493.5 1268.5 518.2 1268.8 494.1 1269.1 504.8 1269.4 503.8 1269.6 517.9 1269.9 505.5 1270.2 504.2 1270.5 518.3 1270.8 521.2 1271.1 517.4 1271.4 496.0 1271.7 508.3 1271.9 500.8 1272.2 506.9 1272.5 536.9 1272.8 507.4 1273.1 513.5 1273.4 497.9 1273.7 508.0 1273.9 507.5 1274.2 522.9 1274.5 506.9 1274.8 516.4 1275.1 514.9 1275.4 500.4 1275.7 520.8 1276.0 512.5 1276.2 504.8 1276.5 500.0 1276.8 516.1 1277.1 482.4 1277.4 508.8 1277.7 560.5 1278.0 532.2 1278.2 530.4 1278.5 506.5 1278.8 511.4 1279.1 525.3 1279.4 518.8 1279.7 516.6 1280.0 516.3 1280.2 513.3 1280.5 472.6 1280.8 520.6 1281.1 511.8 1281.4 520.6 1281.7 519.2 1282.0 495.2 1282.3 515.4 1282.5 518.5 1282.8 509.9 1283.1 511.1 1283.4 521.6 1283.7 494.8 1284.0 524.1 1284.3 509.5 1284.5 463.2 1284.8 519.4 1285.1 499.9 1285.4 498.9 1285.7 509.1 1286.0 529.7 1286.3 498.5 1286.6 511.0 1286.8 516.9 1287.1 499.4 1287.4 518.3 1287.7 501.1 1288.0 516.3 1288.3 505.8 1288.6 520.9 1288.8 514.3 1289.1 519.1 1289.4 517.0 1289.7 508.3 1290.0 511.6 1290.3 508.0 1290.6 497.5 1290.9 510.8 1291.1 527.3 1291.4 512.3 1291.7 508.8 1292.0 499.9 1292.3 499.7 1292.6 500.6 1292.9 511.8 1293.1 503.6 1293.4 523.6 1293.7 497.7 1294.0 505.9 1294.3 505.4 1294.6 513.9 1294.9 509.9 1295.1 516.9 1295.4 505.3 1295.7 523.5 1296.0 501.7 1296.3 505.9 1296.6 492.0 1296.9 511.8 1297.2 512.5 1297.4 510.0 1297.7 511.7 1298.0 513.3 1298.3 523.0 1298.6 523.3 1298.9 518.5 1299.2 516.2 1299.4 525.1 1299.7 525.2 1300.0 517.3 1300.3 508.0 1300.6 517.3 1300.9 509.5 1301.2 507.2 1301.5 509.6 1301.7 486.6 1302.0 521.7 1302.3 536.0 1302.6 525.2 1302.9 514.6 1303.2 529.8 1303.5 506.9 1303.7 506.4 1304.0 523.8 1304.3 511.7 1304.6 534.1 1304.9 510.8 1305.2 524.3 1305.5 520.7 1305.8 522.5 1306.0 528.9 1306.3 501.9 1306.6 517.7 1306.9 517.6 1307.2 513.7 1307.5 518.3 1307.8 522.0 1308.0 524.9 1308.3 534.9 1308.6 504.9 1308.9 527.6 1309.2 534.4 1309.5 526.0 1309.8 533.3 1310.1 498.9 1310.3 514.1 1310.6 503.9 1310.9 503.2 1311.2 511.3 1311.5 511.0 1311.8 523.0 1312.1 516.6 1312.3 521.3 1312.6 514.8 1312.9 521.6 1313.2 502.6 1313.5 552.4 1313.8 549.7 1314.1 529.6 1314.3 506.9 1314.6 504.7 1314.9 513.4 1315.2 524.4 1315.5 508.0 1315.8 501.8 1316.1 529.7 1316.4 505.7 1316.6 528.0 1316.9 509.6 1317.2 493.4 1317.5 508.8 1317.8 504.8 1318.1 512.0 1318.4 508.7 1318.6 486.0 1318.9 495.3 1319.2 510.6 1319.5 511.0 1319.8 506.9 1320.1 486.0 1320.4 504.6 1320.7 495.8 1320.9 509.6 1321.2 518.1 1321.5 493.3 1321.8 506.5 1322.1 513.2 1322.4 512.3 1322.7 512.1 1322.9 511.6 1323.2 520.5 1323.5 494.6 1323.8 502.6 1324.1 497.1 1324.4 509.8 1324.7 503.4 1325.0 505.3 1325.2 452.8 1325.5 499.5 1325.8 504.0 1326.1 513.8 1326.4 519.1 1326.7 515.4 1327.0 514.0 1327.2 513.1 1327.5 519.8 1327.8 492.3 1328.1 505.5 1328.4 527.1 1328.7 518.2 1329.0 552.6 1329.2 505.4 1329.5 497.5 1329.8 516.8 1330.1 501.5 1330.4 509.8 1330.7 496.2 1331.0 494.0 1331.3 458.3 1331.5 500.0 1331.8 506.8 1332.1 510.3 1332.4 517.7 1332.7 503.7 1333.0 507.5 1333.3 510.6 1333.5 507.7 1333.8 541.4 1334.1 517.1 1334.4 512.4 1334.7 496.8 1335.0 510.0 1335.3 533.3 1335.6 519.0 1335.8 521.0 1336.1 507.1 1336.4 501.1 1336.7 514.7 1337.0 502.7 1337.3 499.9 1337.6 498.6 1337.8 509.8 1338.1 509.2 1338.4 524.3 1338.7 508.5 1339.0 506.1 1339.3 495.4 1339.6 568.9 1339.9 516.7 1340.1 518.2 1340.4 500.4 1340.7 532.8 1341.0 519.3 1341.3 489.8 1341.6 503.2 1341.9 522.1 1342.1 510.4 1342.4 502.1 1342.7 505.2 1343.0 512.7 1343.3 518.4 1343.6 503.4 1343.9 511.5 1344.1 504.1 1344.4 508.2 1344.7 516.5 1345.0 498.7 1345.3 517.1 1345.6 508.4 1345.9 518.5 1346.2 548.0 1346.4 514.8 1346.7 518.5 1347.0 509.9 1347.3 499.7 1347.6 494.3 1347.9 498.0 1348.2 512.8 1348.4 497.2 1348.7 506.6 1349.0 493.4 1349.3 521.8 1349.6 495.7 1349.9 514.9 1350.2 498.1 1350.5 513.1 1350.7 499.8 1351.0 510.7 1351.3 525.5 1351.6 516.7 1351.9 509.7 1352.2 507.0 1352.5 528.0 1352.7 518.1 1353.0 513.5 1353.3 488.6 1353.6 504.3 1353.9 514.0 1354.2 520.4 1354.5 503.3 1354.8 509.2 1355.0 497.7 1355.3 510.9 1355.6 499.9 1355.9 514.3 1356.2 503.5 1356.5 505.1 1356.8 501.8 1357.0 514.8 1357.3 507.3 1357.6 514.2 1357.9 507.8 1358.2 500.6 1358.5 478.5 1358.8 506.3 1359.0 500.0 1359.3 505.7 1359.6 496.2 1359.9 502.6 1360.2 497.2 1360.5 503.6 1360.8 484.5 1361.1 494.1 1361.3 522.9 1361.6 504.2 1361.9 506.2 1362.2 527.6 1362.5 514.9 1362.8 511.2 1363.1 513.7 1363.3 505.5 1363.6 523.4 1363.9 499.6 1364.2 499.2 1364.5 503.1 1364.8 509.5 1365.1 506.3 1365.4 510.7 1365.6 495.6 1365.9 501.5 1366.2 487.6 1366.5 509.6 1366.8 492.6 1367.1 511.5 1367.4 507.7 1367.6 515.9 1367.9 501.2 1368.2 506.6 1368.5 500.2 1368.8 492.0 1369.1 506.4 1369.4 502.2 1369.7 497.3 1369.9 506.1 1370.2 510.6 1370.5 501.9 1370.8 500.4 1371.1 497.6 1371.4 496.9 1371.7 510.7 1371.9 500.0 1372.2 492.4 1372.5 508.0 1372.8 500.0 1373.1 508.9 1373.4 501.3 1373.7 486.4 1373.9 500.7 1374.2 511.1 1374.5 498.6 1374.8 499.7 1375.1 491.1 1375.4 514.2 1375.7 509.8 1376.0 501.9 1376.2 515.6 1376.5 490.5 1376.8 520.0 1377.1 508.8 1377.4 514.9 1377.7 507.3 1378.0 473.3 1378.2 495.7 1378.5 492.8 1378.8 495.9 1379.1 520.6 1379.4 498.9 1379.7 519.1 1380.0 506.6 1380.3 505.6 1380.5 507.1 1380.8 497.5 1381.1 509.6 1381.4 485.9 1381.7 496.4 1382.0 490.9 1382.3 494.8 1382.5 493.4 1382.8 502.0 1383.1 483.1 1383.4 511.1 1383.7 496.7 1384.0 500.8 1384.3 502.7 1384.6 497.4 1384.8 507.2 1385.1 491.8 1385.4 492.4 1385.7 498.5 1386.0 492.3 1386.3 508.7 1386.6 515.7 1386.8 504.0 1387.1 500.7 1387.4 475.1 1387.7 500.5 1388.0 488.7 1388.3 490.5 1388.6 478.8 1388.9 497.5 1389.1 492.7 1389.4 539.2 1389.7 507.3 1390.0 468.4 1390.3 507.2 1390.6 527.0 1390.9 498.0 1391.1 502.5 1391.4 501.4 1391.7 507.2 1392.0 502.7 1392.3 503.2 1392.6 497.1 1392.9 495.1 1393.1 519.1 1393.4 502.0 1393.7 491.7 1394.0 514.3 1394.3 507.3 1394.6 503.5 1394.9 495.0 1395.2 499.8 1395.4 507.5 1395.7 500.8 1396.0 495.7 1396.3 501.7 1396.6 488.0 1396.9 501.3 1397.2 515.0 1397.4 512.4 1397.7 479.9 1398.0 506.7 1398.3 498.8 1398.6 501.1 1398.9 488.2 1399.2 496.3 1399.5 489.7 1399.7 510.4 1400.0 506.9 1400.3 496.1 1400.6 501.2 1400.9 495.8 1401.2 498.8 1401.5 506.4 1401.7 484.1 1402.0 488.7 1402.3 513.2 1402.6 503.9 1402.9 497.2 1403.2 490.5 1403.5 496.8 1403.8 508.2 1404.0 487.1 1404.3 496.2 1404.6 482.4 1404.9 490.3 1405.2 483.3 1405.5 484.4 1405.8 483.6 1406.0 496.2 1406.3 481.7 1406.6 489.2 1406.9 502.6 1407.2 494.7 1407.5 494.2 1407.8 486.8 1408.0 485.0 1408.3 502.0 1408.6 485.3 1408.9 493.0 1409.2 502.7 1409.5 485.7 1409.8 501.1 1410.1 505.7 1410.3 488.2 1410.6 487.6 1410.9 502.8 1411.2 487.5 1411.5 488.7 1411.8 503.5 1412.1 480.8 1412.3 500.5 1412.6 498.5 1412.9 523.4 1413.2 495.8 1413.5 508.0 1413.8 498.6 1414.1 519.0 1414.4 492.7 1414.6 490.3 1414.9 486.5 1415.2 531.7 1415.5 499.0 1415.8 501.4 1416.1 532.8 1416.4 511.6 1416.6 505.7 1416.9 491.8 1417.2 512.8 1417.5 503.1 1417.8 505.6 1418.1 501.6 1418.4 508.7 1418.7 496.7 1418.9 495.9 1419.2 517.5 1419.5 494.3 1419.8 511.6 1420.1 507.1 1420.4 494.0 1420.7 503.3 1420.9 498.7 1421.2 496.5 1421.5 497.9 1421.8 508.2 1422.1 511.8 1422.4 496.3 1422.7 495.2 1422.9 542.4 1423.2 503.3 1423.5 493.2 1423.8 501.0 1424.1 513.0 1424.4 516.5 1424.7 494.9 1425.0 492.0 1425.2 507.1 1425.5 505.4 1425.8 495.0 1426.1 502.0 1426.4 498.2 1426.7 488.6 1427.0 493.5 1427.2 480.0 1427.5 494.1 1427.8 480.8 1428.1 486.7 1428.4 472.8 1428.7 496.3 1429.0 497.2 1429.3 484.3 1429.5 501.2 1429.8 500.7 1430.1 494.1 1430.4 493.0 1430.7 509.5 1431.0 494.2 1431.3 499.5 1431.5 497.0 1431.8 495.2 1432.1 498.6 1432.4 487.0 1432.7 492.5 1433.0 498.8 1433.3 496.5 1433.6 487.6 1433.8 490.1 1434.1 485.7 1434.4 498.8 1434.7 496.3 1435.0 479.1 1435.3 498.1 1435.6 482.3 1435.8 490.1 1436.1 501.9 1436.4 510.9 1436.7 492.1 1437.0 504.6 1437.3 504.6 1437.6 514.0 1437.8 487.0 1438.1 497.0 1438.4 497.7 1438.7 494.2 1439.0 531.1 1439.3 516.7 1439.6 492.9 1439.9 500.1 1440.1 521.4 1440.4 507.4 1440.7 514.7 1441.0 497.1 1441.3 482.6 1441.6 510.2 1441.9 524.0 1442.1 483.5 1442.4 493.5 1442.7 512.5 1443.0 501.1 1443.3 491.7 1443.6 508.7 1443.9 492.5 1444.2 478.1 1444.4 484.9 1444.7 498.2 1445.0 495.1 1445.3 506.9 1445.6 497.1 1445.9 501.5 1446.2 507.7 1446.4 511.0 1446.7 480.9 1447.0 498.0 1447.3 508.4 1447.6 478.6 1447.9 485.3 1448.2 484.2 1448.5 504.9 1448.7 497.4 1449.0 491.1 1449.3 502.5 1449.6 510.2 1449.9 508.4 1450.2 499.2 1450.5 506.4 1450.7 511.2 1451.0 501.4 1451.3 490.6 1451.6 492.8 1451.9 501.2 1452.2 481.4 1452.5 506.2 1452.7 499.5 1453.0 511.3 1453.3 491.4 1453.6 499.7 1453.9 513.9 1454.2 505.9 1454.5 481.5 1454.8 491.3 1455.0 496.8 1455.3 540.3 1455.6 512.2 1455.9 504.9 1456.2 509.3 1456.5 504.4 1456.8 500.1 1457.0 491.4 1457.3 486.8 1457.6 486.7 1457.9 470.7 1458.2 499.7 1458.5 495.1 1458.8 489.9 1459.1 501.9 1459.3 496.6 1459.6 489.8 1459.9 501.5 1460.2 488.6 1460.5 481.4 1460.8 502.8 1461.1 513.3 1461.3 491.2 1461.6 501.4 1461.9 490.0 1462.2 495.6 1462.5 488.6 1462.8 480.8 1463.1 483.7 1463.4 494.5 1463.6 502.0 1463.9 514.2 1464.2 511.4 1464.5 498.7 1464.8 466.4 1465.1 497.8 1465.4 497.2 1465.6 506.5 1465.9 507.2 1466.2 508.0 1466.5 486.5 1466.8 510.7 1467.1 486.3 1467.4 501.1 1467.7 503.4 1467.9 490.9 1468.2 486.3 1468.5 482.5 1468.8 544.5 1469.1 502.9 1469.4 498.2 1469.7 501.4 1469.9 488.4 1470.2 495.8 1470.5 494.9 1470.8 491.3 1471.1 499.7 1471.4 485.4 1471.7 512.7 1471.9 493.8 1472.2 491.5 1472.5 503.4 1472.8 502.9 1473.1 488.3 1473.4 499.8 1473.7 514.8 1474.0 509.6 1474.2 488.0 1474.5 505.6 1474.8 485.5 1475.1 485.1 1475.4 499.8 1475.7 493.1 1476.0 505.9 1476.2 502.2 1476.5 505.2 1476.8 493.5 1477.1 511.1 1477.4 500.7 1477.7 499.4 1478.0 495.4 1478.3 520.2 1478.5 517.5 1478.8 509.5 1479.1 503.8 1479.4 500.9 1479.7 500.9 1480.0 484.5 1480.3 497.6 1480.5 498.7 1480.8 509.2 1481.1 497.9 1481.4 499.3 1481.7 499.9 1482.0 507.7 1482.3 501.3 1482.6 493.3 1482.8 515.2 1483.1 528.1 1483.4 500.8 1483.7 501.9 1484.0 511.0 1484.3 513.1 1484.6 483.5 1484.8 513.4 1485.1 520.3 1485.4 513.4 1485.7 504.2 1486.0 514.3 1486.3 512.0 1486.6 505.3 1486.8 511.7 1487.1 506.2 1487.4 507.3 1487.7 516.3 1488.0 505.3 1488.3 516.2 1488.6 496.4 1488.9 513.0 1489.1 506.1 1489.4 520.1 1489.7 506.9 1490.0 513.7 1490.3 487.8 1490.6 502.2 1490.9 495.7 1491.1 516.1 1491.4 547.3 1491.7 500.5 1492.0 511.0 1492.3 443.1 1492.6 501.2 1492.9 495.6 1493.2 493.8 1493.4 497.5 1493.7 488.6 1494.0 501.6 1494.3 491.7 1494.6 483.6 1494.9 492.4 1495.2 492.9 1495.4 496.8 1495.7 493.0 1496.0 487.0 1496.3 495.3 1496.6 508.3 1496.9 491.1 1497.2 493.8 1497.5 488.0 1497.7 491.8 1498.0 477.6 1498.3 503.0 1498.6 500.7 1498.9 485.8 1499.2 501.2 1499.5 488.7" stroke="#0000ff"/>
</g>
<path d="M560 487.9H1499" stroke="#444" stroke-width="2.8" stroke-dasharray="5.5 2.37" fill="none"/>
<path d="M1862.3 250.9H1974" stroke="#0000ff" stroke-width="3.8"/>
<path d="M1862.3 370.4H1974" stroke="#ff0000" stroke-width="3.8"/>
<path d="M1862.3 489.9H1974" stroke="#00ff00" stroke-width="3.8"/>
<path d="M1862.8 604.9H1974" stroke="#000" stroke-width="3.6" stroke-dasharray="7.34 5.63"/>
<g font-family='"Liberation Serif", "Times New Roman", serif' fill="#000">
<text transform="translate(132.96,70.56) scale(0.9864,1)" font-size="72.06">26</text>
<text transform="translate(132.97,331.37) scale(0.9659,1)" font-size="73.13">24</text>
<text transform="translate(133.59,591.68) scale(0.9781,1)" font-size="71.79">22</text>
<text transform="translate(133.54,851.86) scale(0.9925,1)" font-size="72.06">20</text>
<text transform="translate(135.83,1112.83) scale(0.9492,1)" font-size="73.38">18</text>
<text transform="translate(225.42,1204.84) scale(0.9875,1)" font-size="82.94">0</text>
<text transform="translate(502.27,1204.68) scale(0.9352,1)" font-size="81.18">100</text>
<text transform="translate(809.17,1204.76) scale(0.9835,1)" font-size="82.06">200</text>
<text transform="translate(1121.99,1204.76) scale(0.9766,1)" font-size="82.06">300</text>
<text transform="translate(1435.40,1204.37) scale(0.9802,1)" font-size="81.47">400</text>
<text transform="translate(1746.20,1204.37) scale(0.9819,1)" font-size="81.47">500</text>
<text transform="translate(444.81,344.31) scale(0.9672,1)" font-size="48.96">25.2</text>
<text transform="translate(445.09,501.92) scale(0.9758,1)" font-size="48.97">25.0</text>
<text transform="translate(444.48,659.71) scale(0.9736,1)" font-size="49.26">24.8</text>
<text transform="translate(444.49,817.11) scale(0.9678,1)" font-size="49.26">24.6</text>
<text transform="translate(445.31,974.91) scale(0.9558,1)" font-size="49.40">24.4</text>
<text transform="translate(540.87,1028.43) scale(1.0419,1)" font-size="48.68">0</text>
<text transform="translate(848.04,1028.24) scale(0.9155,1)" font-size="48.09">10</text>
<text transform="translate(1160.70,1028.43) scale(0.9736,1)" font-size="48.68">20</text>
<text transform="translate(1474.57,1027.83) scale(1.0009,1)" font-size="48.53">30</text>
<text transform="translate(859.48,1309.95) scale(0.8960,1)" font-size="84.70">Time</text>
<text transform="translate(1033.26,1308.38) scale(0.9974,1)" font-size="78.67">(</text>
<text transform="translate(1055.67,1309.74) scale(0.8961,1)" font-size="85.61">min</text>
<text transform="translate(1171.46,1308.38) scale(0.9925,1)" font-size="78.67">)</text>
<text transform="translate(82.07,849.37) rotate(-90) scale(0.9452,1)" font-size="83.02">Temperature</text>
<text transform="translate(80.83,434.19) rotate(-90) scale(1.0433,1)" font-size="78.89">(</text>
<text transform="translate(79.42,408.82) rotate(-90) scale(1.0000,1)" font-size="80.33">°</text>
<text transform="translate(82.79,377.15) rotate(-90) scale(0.9219,1)" font-size="85.44">C</text>
<text transform="translate(80.83,326.20) rotate(-90) scale(1.0141,1)" font-size="78.89">)</text>
<text transform="translate(2035.37,272.30) scale(0.9702,1)" font-size="80.15">PBR 1</text>
<text transform="translate(2035.43,393.08) scale(0.9626,1)" font-size="82.09">PBR 2</text>
<text transform="translate(2035.46,512.09) scale(0.9641,1)" font-size="81.04">PBR 3</text>
<text transform="translate(2035.55,627.29) scale(0.8625,1)" font-size="85.29">Setpoint</text>
</g>
</svg></body></html>
